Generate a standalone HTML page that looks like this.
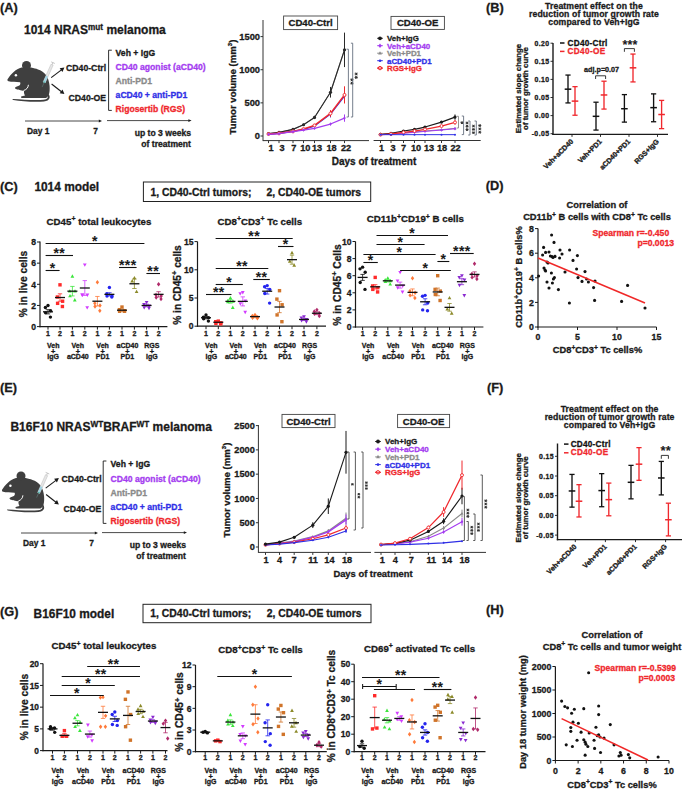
<!DOCTYPE html>
<html><head><meta charset="utf-8"><style>
html,body{margin:0;padding:0;background:#fff;width:685px;height:790px;overflow:hidden}
svg{display:block}
text{font-family:"Liberation Sans", sans-serif}
</style></head><body>
<svg width="685" height="790" viewBox="0 0 685 790">
<rect x="0" y="0" width="685" height="790" fill="#ffffff"/>
<text x="0.00" y="12.00" font-size="12.8" fill="#1a1a1a" stroke="#1a1a1a" stroke-width="0.3" text-anchor="start" font-weight="bold">(A)</text>
<text x="24" y="34" font-size="12" font-weight="bold" fill="#1a1a1a" stroke="#1a1a1a" stroke-width="0.3">1014 NRAS<tspan dy="-4.4" font-size="8.2">mut</tspan><tspan dy="4.4"> melanoma</tspan></text>
<g transform="translate(0,0)">
<path d="M7.55,79.2 C10,75 16,68.5 21.5,67.4 L31,67.6 C34,68.2 36,68.8 38,69.4 C44,71 49,76.5 49.6,86 C50,92 49.2,96.5 46,97.9 L22.2,98 C20.6,98 20.5,96.4 22,96.2 L25,95.6 C24,94 23.7,92.2 24.1,90.6 C22,91 20.2,90.3 18.6,89.6 C16.4,89.8 14.6,88.8 15.1,87.6 C15.8,86.6 17.8,86.6 19.4,85.6 C20.4,84.8 20.6,83.4 20.1,82.3 C16,82.1 11.2,81.9 8.6,81.3 C7.5,81 7.2,79.9 7.55,79.2 Z" fill="#3f3f3f"/>
<circle cx="26.50" cy="65.40" r="4.50" fill="#3f3f3f" stroke="none" stroke-width="0"/>
<circle cx="15.90" cy="75.20" r="1.25" fill="#ffffff" stroke="none" stroke-width="0"/>
<path d="M28.4,84.8 C28.2,87.6 26.6,89.6 23.9,90.4" stroke="#fff" stroke-width="1.0" fill="none"/>
<path d="M48.6,94 C50.6,97 50.2,100.8 44,101.4 C36,102.1 22,101.6 13.2,99.9 C12.2,99.6 12.3,98.8 13.3,98.9 C22,99.6 36,100.2 43.3,99.7 C47.8,99.3 48.3,97.5 47.4,95 Z" fill="#3f3f3f"/>
<g transform="translate(-1.6,3.6) rotate(24 48.6 72.5)"><rect x="47.4" y="60" width="2.4" height="19.5" fill="#e6e6e6" stroke="#b0b0b0" stroke-width="0.35"/><rect x="47.55" y="72.5" width="2.1" height="7" fill="#9fd3e3"/><rect x="47.55" y="78.5" width="2.1" height="1.2" fill="#4fb0a0"/><line x1="48.6" y1="57.8" x2="48.6" y2="60" stroke="#b8b8b8" stroke-width="0.7"/><line x1="46.6" y1="57.8" x2="50.6" y2="57.8" stroke="#b8b8b8" stroke-width="0.7"/><line x1="48.6" y1="79.5" x2="48.6" y2="84.5" stroke="#6a8a88" stroke-width="0.45"/></g>
<line x1="51.20" y1="77.60" x2="61.45" y2="69.83" stroke="#1a1a1a" stroke-width="1.1"/>
<polygon points="64.40,67.60 62.44,71.97 59.66,68.30" fill="#1a1a1a"/>
<line x1="51.60" y1="84.00" x2="61.48" y2="91.72" stroke="#1a1a1a" stroke-width="1.1"/>
<polygon points="64.40,94.00 59.67,93.23 62.51,89.60" fill="#1a1a1a"/>
</g>
<text x="66.00" y="71.00" font-size="8.7" fill="#1a1a1a" stroke="#1a1a1a" stroke-width="0.3" text-anchor="start" font-weight="bold">CD40-Ctrl</text>
<text x="68.50" y="101.00" font-size="8.7" fill="#1a1a1a" stroke="#1a1a1a" stroke-width="0.3" text-anchor="start" font-weight="bold">CD40-OE</text>
<polyline points="111.80,50.20 108.60,50.20 108.60,110.40 111.80,110.40" fill="none" stroke="#1a1a1a" stroke-width="0.9" stroke-linejoin="round"/>
<text x="115.60" y="56.00" font-size="8.65" fill="#1a1a1a" stroke="#1a1a1a" stroke-width="0.3" text-anchor="start" font-weight="bold">Veh + IgG</text>
<text x="115.60" y="70.00" font-size="8.65" fill="#a43cf0" stroke="#a43cf0" stroke-width="0.3" text-anchor="start" font-weight="bold">CD40 agonist (aCD40)</text>
<text x="115.60" y="83.80" font-size="8.65" fill="#8a8a8a" stroke="#8a8a8a" stroke-width="0.3" text-anchor="start" font-weight="bold">Anti-PD1</text>
<text x="115.60" y="97.80" font-size="8.65" fill="#2f2fe6" stroke="#2f2fe6" stroke-width="0.3" text-anchor="start" font-weight="bold">aCD40 + anti-PD1</text>
<text x="115.60" y="112.00" font-size="8.65" fill="#f0282d" stroke="#f0282d" stroke-width="0.3" text-anchor="start" font-weight="bold">Rigosertib (RGS)</text>
<line x1="25.00" y1="121.00" x2="99.30" y2="121.00" stroke="#1a1a1a" stroke-width="0.8"/>
<polygon points="102.00,121.00 98.80,122.40 98.80,119.60" fill="#1a1a1a"/>
<line x1="107.00" y1="120.60" x2="188.90" y2="120.60" stroke="#1a1a1a" stroke-width="0.8"/>
<polygon points="191.60,120.60 188.40,122.00 188.40,119.20" fill="#1a1a1a"/>
<text x="27.00" y="134.00" font-size="8.4" fill="#1a1a1a" stroke="#1a1a1a" stroke-width="0.3" text-anchor="start" font-weight="bold">Day 1</text>
<text x="95.50" y="134.00" font-size="8.4" fill="#1a1a1a" stroke="#1a1a1a" stroke-width="0.3" text-anchor="middle" font-weight="bold">7</text>
<text x="191.00" y="136.00" font-size="8.6" fill="#1a1a1a" stroke="#1a1a1a" stroke-width="0.3" text-anchor="end" font-weight="bold">up to 3 weeks</text>
<text x="191.00" y="146.80" font-size="8.6" fill="#1a1a1a" stroke="#1a1a1a" stroke-width="0.3" text-anchor="end" font-weight="bold">of treatment</text>
<line x1="263.00" y1="20.00" x2="263.00" y2="141.10" stroke="#333" stroke-width="1.0"/>
<line x1="260.50" y1="136.00" x2="263.00" y2="136.00" stroke="#333" stroke-width="1.0"/>
<text x="260.00" y="139.40" font-size="9.3" fill="#1a1a1a" stroke="#1a1a1a" stroke-width="0.3" text-anchor="end" font-weight="bold">0</text>
<line x1="260.50" y1="102.87" x2="263.00" y2="102.87" stroke="#333" stroke-width="1.0"/>
<text x="260.00" y="106.27" font-size="9.3" fill="#1a1a1a" stroke="#1a1a1a" stroke-width="0.3" text-anchor="end" font-weight="bold">500</text>
<line x1="260.50" y1="69.73" x2="263.00" y2="69.73" stroke="#333" stroke-width="1.0"/>
<text x="260.00" y="73.13" font-size="9.3" fill="#1a1a1a" stroke="#1a1a1a" stroke-width="0.3" text-anchor="end" font-weight="bold">1000</text>
<line x1="260.50" y1="36.60" x2="263.00" y2="36.60" stroke="#333" stroke-width="1.0"/>
<text x="260.00" y="40.00" font-size="9.3" fill="#1a1a1a" stroke="#1a1a1a" stroke-width="0.3" text-anchor="end" font-weight="bold">1500</text>
<line x1="263.00" y1="140.60" x2="369.00" y2="140.60" stroke="#333333" stroke-width="1.0"/>
<line x1="268.50" y1="140.60" x2="268.50" y2="143.10" stroke="#333333" stroke-width="1.0"/>
<text x="271.00" y="151.20" font-size="9.2" fill="#1a1a1a" stroke="#1a1a1a" stroke-width="0.3" text-anchor="middle" font-weight="bold">1</text>
<line x1="279.00" y1="140.60" x2="279.00" y2="143.10" stroke="#333333" stroke-width="1.0"/>
<text x="282.00" y="151.20" font-size="9.2" fill="#1a1a1a" stroke="#1a1a1a" stroke-width="0.3" text-anchor="middle" font-weight="bold">3</text>
<line x1="293.00" y1="140.60" x2="293.00" y2="143.10" stroke="#333333" stroke-width="1.0"/>
<text x="293.70" y="151.20" font-size="9.2" fill="#1a1a1a" stroke="#1a1a1a" stroke-width="0.3" text-anchor="middle" font-weight="bold">7</text>
<line x1="303.50" y1="140.60" x2="303.50" y2="143.10" stroke="#333333" stroke-width="1.0"/>
<text x="305.30" y="151.20" font-size="9.2" fill="#1a1a1a" stroke="#1a1a1a" stroke-width="0.3" text-anchor="middle" font-weight="bold">10</text>
<line x1="314.50" y1="140.60" x2="314.50" y2="143.10" stroke="#333333" stroke-width="1.0"/>
<text x="317.00" y="151.20" font-size="9.2" fill="#1a1a1a" stroke="#1a1a1a" stroke-width="0.3" text-anchor="middle" font-weight="bold">13</text>
<line x1="330.50" y1="140.60" x2="330.50" y2="143.10" stroke="#333333" stroke-width="1.0"/>
<text x="331.50" y="151.20" font-size="9.2" fill="#1a1a1a" stroke="#1a1a1a" stroke-width="0.3" text-anchor="middle" font-weight="bold">18</text>
<line x1="344.50" y1="140.60" x2="344.50" y2="143.10" stroke="#333333" stroke-width="1.0"/>
<text x="346.00" y="151.20" font-size="9.2" fill="#1a1a1a" stroke="#1a1a1a" stroke-width="0.3" text-anchor="middle" font-weight="bold">22</text>
<rect x="283.60" y="16.00" width="54.00" height="13.60" fill="#ffffff" stroke="#444" stroke-width="0.9"/>
<text x="310.60" y="26.30" font-size="9.6" fill="#1a1a1a" stroke="#1a1a1a" stroke-width="0.3" text-anchor="middle" font-weight="bold">CD40-Ctrl</text>
<line x1="303.50" y1="124.07" x2="303.50" y2="125.40" stroke="#8a8a8a" stroke-width="1.0"/>
<line x1="314.50" y1="116.12" x2="314.50" y2="118.77" stroke="#8a8a8a" stroke-width="1.0"/>
<line x1="330.50" y1="88.29" x2="330.50" y2="96.24" stroke="#8a8a8a" stroke-width="1.0"/>
<line x1="344.50" y1="41.24" x2="344.50" y2="58.47" stroke="#8a8a8a" stroke-width="1.0"/>
<polyline points="268.50,133.68 279.00,132.36 293.00,129.37 303.50,124.73 314.50,117.45 330.50,92.26 344.50,49.85" fill="none" stroke="#8a8a8a" stroke-width="1.0" stroke-linejoin="round"/>
<polygon points="268.50,132.12 269.93,134.72 267.07,134.72" fill="#8a8a8a"/>
<polygon points="279.00,130.80 280.43,133.40 277.57,133.40" fill="#8a8a8a"/>
<polygon points="293.00,127.81 294.43,130.41 291.57,130.41" fill="#8a8a8a"/>
<polygon points="303.50,123.17 304.93,125.77 302.07,125.77" fill="#8a8a8a"/>
<polygon points="314.50,115.89 315.93,118.49 313.07,118.49" fill="#8a8a8a"/>
<polygon points="330.50,90.70 331.93,93.30 329.07,93.30" fill="#8a8a8a"/>
<polygon points="344.50,48.29 345.93,50.89 343.07,50.89" fill="#8a8a8a"/>
<line x1="268.50" y1="133.35" x2="268.50" y2="134.01" stroke="#2a2a2a" stroke-width="1.0"/>
<line x1="279.00" y1="132.02" x2="279.00" y2="132.69" stroke="#2a2a2a" stroke-width="1.0"/>
<line x1="293.00" y1="128.71" x2="293.00" y2="130.04" stroke="#2a2a2a" stroke-width="1.0"/>
<line x1="303.50" y1="123.74" x2="303.50" y2="125.73" stroke="#2a2a2a" stroke-width="1.0"/>
<line x1="314.50" y1="115.79" x2="314.50" y2="119.10" stroke="#2a2a2a" stroke-width="1.0"/>
<line x1="330.50" y1="86.96" x2="330.50" y2="97.57" stroke="#2a2a2a" stroke-width="1.0"/>
<line x1="344.50" y1="32.62" x2="344.50" y2="67.08" stroke="#2a2a2a" stroke-width="1.0"/>
<polyline points="268.50,133.68 279.00,132.36 293.00,129.37 303.50,124.73 314.50,117.45 330.50,92.26 344.50,49.85" fill="none" stroke="#2a2a2a" stroke-width="1.15" stroke-linejoin="round"/>
<circle cx="268.50" cy="133.68" r="1.60" fill="#2a2a2a" stroke="none" stroke-width="0"/>
<circle cx="279.00" cy="132.36" r="1.60" fill="#2a2a2a" stroke="none" stroke-width="0"/>
<circle cx="293.00" cy="129.37" r="1.60" fill="#2a2a2a" stroke="none" stroke-width="0"/>
<circle cx="303.50" cy="124.73" r="1.60" fill="#2a2a2a" stroke="none" stroke-width="0"/>
<circle cx="314.50" cy="117.45" r="1.60" fill="#2a2a2a" stroke="none" stroke-width="0"/>
<circle cx="330.50" cy="92.26" r="1.60" fill="#2a2a2a" stroke="none" stroke-width="0"/>
<circle cx="344.50" cy="49.85" r="1.60" fill="#2a2a2a" stroke="none" stroke-width="0"/>
<line x1="303.50" y1="128.71" x2="303.50" y2="130.04" stroke="#2f2fe6" stroke-width="1.0"/>
<line x1="314.50" y1="125.07" x2="314.50" y2="127.05" stroke="#2f2fe6" stroke-width="1.0"/>
<line x1="330.50" y1="110.82" x2="330.50" y2="117.45" stroke="#2f2fe6" stroke-width="1.0"/>
<line x1="344.50" y1="89.61" x2="344.50" y2="102.87" stroke="#2f2fe6" stroke-width="1.0"/>
<polyline points="268.50,134.34 279.00,133.35 293.00,131.36 303.50,129.37 314.50,126.06 330.50,114.13 344.50,96.24" fill="none" stroke="#2f2fe6" stroke-width="1.2" stroke-linejoin="round"/>
<circle cx="268.50" cy="134.34" r="1.00" fill="#2f2fe6" stroke="none" stroke-width="0"/>
<circle cx="279.00" cy="133.35" r="1.00" fill="#2f2fe6" stroke="none" stroke-width="0"/>
<circle cx="293.00" cy="131.36" r="1.00" fill="#2f2fe6" stroke="none" stroke-width="0"/>
<circle cx="303.50" cy="129.37" r="1.00" fill="#2f2fe6" stroke="none" stroke-width="0"/>
<circle cx="314.50" cy="126.06" r="1.00" fill="#2f2fe6" stroke="none" stroke-width="0"/>
<circle cx="330.50" cy="114.13" r="1.00" fill="#2f2fe6" stroke="none" stroke-width="0"/>
<circle cx="344.50" cy="96.24" r="1.00" fill="#2f2fe6" stroke="none" stroke-width="0"/>
<line x1="303.50" y1="128.38" x2="303.50" y2="129.70" stroke="#f0282d" stroke-width="1.0"/>
<line x1="314.50" y1="124.40" x2="314.50" y2="126.39" stroke="#f0282d" stroke-width="1.0"/>
<line x1="330.50" y1="110.16" x2="330.50" y2="116.78" stroke="#f0282d" stroke-width="1.0"/>
<line x1="344.50" y1="86.30" x2="344.50" y2="103.53" stroke="#f0282d" stroke-width="1.0"/>
<polyline points="268.50,134.01 279.00,133.35 293.00,131.36 303.50,129.04 314.50,125.40 330.50,113.47 344.50,94.91" fill="none" stroke="#f0282d" stroke-width="1.5" stroke-linejoin="round"/>
<circle cx="268.50" cy="134.01" r="1.50" fill="#fff" stroke="#f0282d" stroke-width="0.9"/>
<circle cx="279.00" cy="133.35" r="1.50" fill="#fff" stroke="#f0282d" stroke-width="0.9"/>
<circle cx="293.00" cy="131.36" r="1.50" fill="#fff" stroke="#f0282d" stroke-width="0.9"/>
<circle cx="303.50" cy="129.04" r="1.50" fill="#fff" stroke="#f0282d" stroke-width="0.9"/>
<circle cx="314.50" cy="125.40" r="1.50" fill="#fff" stroke="#f0282d" stroke-width="0.9"/>
<circle cx="330.50" cy="113.47" r="1.50" fill="#fff" stroke="#f0282d" stroke-width="0.9"/>
<circle cx="344.50" cy="94.91" r="1.50" fill="#fff" stroke="#f0282d" stroke-width="0.9"/>
<line x1="303.50" y1="129.51" x2="303.50" y2="130.57" stroke="#a43cf0" stroke-width="1.0"/>
<line x1="314.50" y1="127.72" x2="314.50" y2="129.04" stroke="#a43cf0" stroke-width="1.0"/>
<line x1="330.50" y1="122.75" x2="330.50" y2="125.40" stroke="#a43cf0" stroke-width="1.0"/>
<line x1="344.50" y1="114.46" x2="344.50" y2="121.75" stroke="#a43cf0" stroke-width="1.0"/>
<polyline points="268.50,134.34 279.00,133.68 293.00,131.69 303.50,130.04 314.50,128.38 330.50,124.07 344.50,118.11" fill="none" stroke="#a43cf0" stroke-width="1.2" stroke-linejoin="round"/>
<polygon points="268.50,132.65 269.80,134.34 268.50,136.03 267.20,134.34" fill="#a43cf0"/>
<polygon points="279.00,131.99 280.30,133.68 279.00,135.37 277.70,133.68" fill="#a43cf0"/>
<polygon points="293.00,130.00 294.30,131.69 293.00,133.38 291.70,131.69" fill="#a43cf0"/>
<polygon points="303.50,128.35 304.80,130.04 303.50,131.73 302.20,130.04" fill="#a43cf0"/>
<polygon points="314.50,126.69 315.80,128.38 314.50,130.07 313.20,128.38" fill="#a43cf0"/>
<polygon points="330.50,122.38 331.80,124.07 330.50,125.76 329.20,124.07" fill="#a43cf0"/>
<polygon points="344.50,116.42 345.80,118.11 344.50,119.80 343.20,118.11" fill="#a43cf0"/>
<polyline points="346.60,49.20 348.40,49.20 348.40,117.00 346.60,117.00" fill="none" stroke="#667080" stroke-width="0.9" stroke-linejoin="round"/>
<path d="M350.32,79.78L353.47,79.78M351.11,78.41L352.69,81.14M352.69,78.41L351.11,81.14" stroke="#333" stroke-width="1.0" fill="none"/>
<path d="M350.32,83.22L353.47,83.22M351.11,81.86L352.69,84.59M352.69,81.86L351.11,84.59" stroke="#333" stroke-width="1.0" fill="none"/>
<polyline points="350.90,43.20 352.70,43.20 352.70,117.00 350.90,117.00" fill="none" stroke="#667080" stroke-width="0.9" stroke-linejoin="round"/>
<path d="M354.62,73.98L357.77,73.98M355.41,72.61L356.99,75.34M356.99,72.61L355.41,75.34" stroke="#333" stroke-width="1.0" fill="none"/>
<path d="M354.62,77.42L357.77,77.42M355.41,76.06L356.99,78.79M356.99,76.06L355.41,78.79" stroke="#333" stroke-width="1.0" fill="none"/>
<line x1="373.60" y1="140.50" x2="480.70" y2="140.50" stroke="#333333" stroke-width="1.0"/>
<line x1="380.50" y1="140.50" x2="380.50" y2="143.00" stroke="#333333" stroke-width="1.0"/>
<text x="381.60" y="151.20" font-size="9.2" fill="#1a1a1a" stroke="#1a1a1a" stroke-width="0.3" text-anchor="middle" font-weight="bold">1</text>
<line x1="391.00" y1="140.50" x2="391.00" y2="143.00" stroke="#333333" stroke-width="1.0"/>
<text x="393.00" y="151.20" font-size="9.2" fill="#1a1a1a" stroke="#1a1a1a" stroke-width="0.3" text-anchor="middle" font-weight="bold">3</text>
<line x1="403.50" y1="140.50" x2="403.50" y2="143.00" stroke="#333333" stroke-width="1.0"/>
<text x="403.50" y="151.20" font-size="9.2" fill="#1a1a1a" stroke="#1a1a1a" stroke-width="0.3" text-anchor="middle" font-weight="bold">7</text>
<line x1="414.50" y1="140.50" x2="414.50" y2="143.00" stroke="#333333" stroke-width="1.0"/>
<text x="416.00" y="151.20" font-size="9.2" fill="#1a1a1a" stroke="#1a1a1a" stroke-width="0.3" text-anchor="middle" font-weight="bold">10</text>
<line x1="425.00" y1="140.50" x2="425.00" y2="143.00" stroke="#333333" stroke-width="1.0"/>
<text x="429.00" y="151.20" font-size="9.2" fill="#1a1a1a" stroke="#1a1a1a" stroke-width="0.3" text-anchor="middle" font-weight="bold">13</text>
<line x1="441.50" y1="140.50" x2="441.50" y2="143.00" stroke="#333333" stroke-width="1.0"/>
<text x="442.00" y="151.20" font-size="9.2" fill="#1a1a1a" stroke="#1a1a1a" stroke-width="0.3" text-anchor="middle" font-weight="bold">18</text>
<line x1="455.00" y1="140.50" x2="455.00" y2="143.00" stroke="#333333" stroke-width="1.0"/>
<text x="455.50" y="151.20" font-size="9.2" fill="#1a1a1a" stroke="#1a1a1a" stroke-width="0.3" text-anchor="middle" font-weight="bold">22</text>
<rect x="391.00" y="16.40" width="53.40" height="13.00" fill="#ffffff" stroke="#444" stroke-width="0.9"/>
<text x="417.70" y="26.40" font-size="9.6" fill="#1a1a1a" stroke="#1a1a1a" stroke-width="0.3" text-anchor="middle" font-weight="bold">CD40-OE</text>
<polyline points="380.50,134.54 391.00,134.01 403.50,133.02 414.50,132.02 425.00,131.03 441.50,129.70 455.00,128.38" fill="none" stroke="#8a8a8a" stroke-width="1.0" stroke-linejoin="round"/>
<polygon points="380.50,132.98 381.93,135.58 379.07,135.58" fill="#8a8a8a"/>
<polygon points="391.00,132.45 392.43,135.05 389.57,135.05" fill="#8a8a8a"/>
<polygon points="403.50,131.46 404.93,134.06 402.07,134.06" fill="#8a8a8a"/>
<polygon points="414.50,130.46 415.93,133.06 413.07,133.06" fill="#8a8a8a"/>
<polygon points="425.00,129.47 426.43,132.07 423.57,132.07" fill="#8a8a8a"/>
<polygon points="441.50,128.14 442.93,130.74 440.07,130.74" fill="#8a8a8a"/>
<polygon points="455.00,126.82 456.43,129.42 453.57,129.42" fill="#8a8a8a"/>
<polyline points="380.50,134.67 391.00,134.14 403.50,133.22 414.50,132.36 425.00,131.36 441.50,130.04 455.00,128.71" fill="none" stroke="#a43cf0" stroke-width="1.0" stroke-linejoin="round"/>
<polygon points="380.50,132.98 381.80,134.67 380.50,136.36 379.20,134.67" fill="#a43cf0"/>
<polygon points="391.00,132.45 392.30,134.14 391.00,135.83 389.70,134.14" fill="#a43cf0"/>
<polygon points="403.50,131.53 404.80,133.22 403.50,134.91 402.20,133.22" fill="#a43cf0"/>
<polygon points="414.50,130.67 415.80,132.36 414.50,134.05 413.20,132.36" fill="#a43cf0"/>
<polygon points="425.00,129.67 426.30,131.36 425.00,133.05 423.70,131.36" fill="#a43cf0"/>
<polygon points="441.50,128.35 442.80,130.04 441.50,131.73 440.20,130.04" fill="#a43cf0"/>
<polygon points="455.00,127.02 456.30,128.71 455.00,130.40 453.70,128.71" fill="#a43cf0"/>
<line x1="425.00" y1="126.39" x2="425.00" y2="127.72" stroke="#1a1a1a" stroke-width="1.0"/>
<line x1="441.50" y1="121.09" x2="441.50" y2="123.08" stroke="#1a1a1a" stroke-width="1.0"/>
<line x1="455.00" y1="114.46" x2="455.00" y2="119.76" stroke="#1a1a1a" stroke-width="1.0"/>
<polyline points="380.50,134.34 391.00,133.35 403.50,131.03 414.50,129.37 425.00,127.05 441.50,122.08 455.00,117.11" fill="none" stroke="#1a1a1a" stroke-width="1.2" stroke-linejoin="round"/>
<circle cx="380.50" cy="134.34" r="1.60" fill="#1a1a1a" stroke="none" stroke-width="0"/>
<circle cx="391.00" cy="133.35" r="1.60" fill="#1a1a1a" stroke="none" stroke-width="0"/>
<circle cx="403.50" cy="131.03" r="1.60" fill="#1a1a1a" stroke="none" stroke-width="0"/>
<circle cx="414.50" cy="129.37" r="1.60" fill="#1a1a1a" stroke="none" stroke-width="0"/>
<circle cx="425.00" cy="127.05" r="1.60" fill="#1a1a1a" stroke="none" stroke-width="0"/>
<circle cx="441.50" cy="122.08" r="1.60" fill="#1a1a1a" stroke="none" stroke-width="0"/>
<circle cx="455.00" cy="117.11" r="1.60" fill="#1a1a1a" stroke="none" stroke-width="0"/>
<line x1="441.50" y1="125.07" x2="441.50" y2="127.05" stroke="#f0282d" stroke-width="1.0"/>
<line x1="455.00" y1="120.10" x2="455.00" y2="124.73" stroke="#f0282d" stroke-width="1.0"/>
<polyline points="380.50,134.67 391.00,134.01 403.50,132.36 414.50,131.03 425.00,129.37 441.50,126.06 455.00,122.42" fill="none" stroke="#f0282d" stroke-width="1.3" stroke-linejoin="round"/>
<circle cx="380.50" cy="134.67" r="1.50" fill="#fff" stroke="#f0282d" stroke-width="0.9"/>
<circle cx="391.00" cy="134.01" r="1.50" fill="#fff" stroke="#f0282d" stroke-width="0.9"/>
<circle cx="403.50" cy="132.36" r="1.50" fill="#fff" stroke="#f0282d" stroke-width="0.9"/>
<circle cx="414.50" cy="131.03" r="1.50" fill="#fff" stroke="#f0282d" stroke-width="0.9"/>
<circle cx="425.00" cy="129.37" r="1.50" fill="#fff" stroke="#f0282d" stroke-width="0.9"/>
<circle cx="441.50" cy="126.06" r="1.50" fill="#fff" stroke="#f0282d" stroke-width="0.9"/>
<circle cx="455.00" cy="122.42" r="1.50" fill="#fff" stroke="#f0282d" stroke-width="0.9"/>
<polyline points="380.50,134.67 391.00,134.67 403.50,134.67 414.50,134.67 425.00,134.67 441.50,134.67 455.00,134.67" fill="none" stroke="#2f2fe6" stroke-width="1.0" stroke-linejoin="round"/>
<circle cx="380.50" cy="134.67" r="1.00" fill="#2f2fe6" stroke="none" stroke-width="0"/>
<circle cx="391.00" cy="134.67" r="1.00" fill="#2f2fe6" stroke="none" stroke-width="0"/>
<circle cx="403.50" cy="134.67" r="1.00" fill="#2f2fe6" stroke="none" stroke-width="0"/>
<circle cx="414.50" cy="134.67" r="1.00" fill="#2f2fe6" stroke="none" stroke-width="0"/>
<circle cx="425.00" cy="134.67" r="1.00" fill="#2f2fe6" stroke="none" stroke-width="0"/>
<circle cx="441.50" cy="134.67" r="1.00" fill="#2f2fe6" stroke="none" stroke-width="0"/>
<circle cx="455.00" cy="134.67" r="1.00" fill="#2f2fe6" stroke="none" stroke-width="0"/>
<polyline points="456.70,116.30 458.50,116.30 458.50,128.00 456.70,128.00" fill="none" stroke="#888" stroke-width="0.9" stroke-linejoin="round"/>
<path d="M460.46,122.70L463.49,122.70M461.22,121.39L462.73,124.01M462.73,121.39L461.22,124.01" stroke="#333" stroke-width="1.0" fill="none"/>
<polyline points="461.80,116.00 463.60,116.00 463.60,134.60 461.80,134.60" fill="none" stroke="#667080" stroke-width="0.9" stroke-linejoin="round"/>
<path d="M465.56,122.99L468.59,122.99M466.32,121.68L467.83,124.30M467.83,121.68L466.32,124.30" stroke="#333" stroke-width="1.0" fill="none"/>
<path d="M465.56,126.30L468.59,126.30M466.32,124.99L467.83,127.61M467.83,124.99L466.32,127.61" stroke="#333" stroke-width="1.0" fill="none"/>
<path d="M465.56,129.61L468.59,129.61M466.32,128.30L467.83,130.92M467.83,128.30L466.32,130.92" stroke="#333" stroke-width="1.0" fill="none"/>
<polyline points="468.20,121.00 470.00,121.00 470.00,135.00 468.20,135.00" fill="none" stroke="#667080" stroke-width="0.9" stroke-linejoin="round"/>
<path d="M471.96,126.09L474.99,126.09M472.72,124.78L474.23,127.40M474.23,124.78L472.72,127.40" stroke="#333" stroke-width="1.0" fill="none"/>
<path d="M471.96,129.40L474.99,129.40M472.72,128.09L474.23,130.71M474.23,128.09L472.72,130.71" stroke="#333" stroke-width="1.0" fill="none"/>
<path d="M471.96,132.71L474.99,132.71M472.72,131.40L474.23,134.02M474.23,131.40L472.72,134.02" stroke="#333" stroke-width="1.0" fill="none"/>
<polyline points="474.50,121.00 476.30,121.00 476.30,135.00 474.50,135.00" fill="none" stroke="#667080" stroke-width="0.9" stroke-linejoin="round"/>
<path d="M478.26,125.59L481.29,125.59M479.02,124.28L480.53,126.90M480.53,124.28L479.02,126.90" stroke="#333" stroke-width="1.0" fill="none"/>
<path d="M478.26,128.90L481.29,128.90M479.02,127.59L480.53,130.21M480.53,127.59L479.02,130.21" stroke="#333" stroke-width="1.0" fill="none"/>
<path d="M478.26,132.21L481.29,132.21M479.02,130.90L480.53,133.52M480.53,130.90L479.02,133.52" stroke="#333" stroke-width="1.0" fill="none"/>
<text x="232.00" y="87.00" font-size="9.6" fill="#1a1a1a" stroke="#1a1a1a" stroke-width="0.3" text-anchor="middle" font-weight="bold" transform="rotate(-90 232 87)" dy="3.5">Tumor volume (mm<tspan dy="-3.5" font-size="6">3</tspan><tspan dy="3.5">)</tspan></text>
<text x="374.00" y="165.20" font-size="10.0" fill="#1a1a1a" stroke="#1a1a1a" stroke-width="0.3" text-anchor="middle" font-weight="bold">Days of treatment</text>
<line x1="377.20" y1="38.30" x2="382.80" y2="38.30" stroke="#1a1a1a" stroke-width="1.0"/>
<circle cx="380.00" cy="38.30" r="1.90" fill="#1a1a1a" stroke="none" stroke-width="0"/>
<text x="387.00" y="41.20" font-size="7.9" fill="#1a1a1a" stroke="#1a1a1a" stroke-width="0.3" text-anchor="start" font-weight="bold">Veh+IgG</text>
<line x1="377.20" y1="45.70" x2="382.80" y2="45.70" stroke="#a43cf0" stroke-width="1.0"/>
<polygon points="380.00,43.49 381.70,45.70 380.00,47.91 378.30,45.70" fill="#a43cf0"/>
<text x="387.00" y="48.60" font-size="7.9" fill="#a43cf0" stroke="#a43cf0" stroke-width="0.3" text-anchor="start" font-weight="bold">Veh+aCD40</text>
<line x1="377.20" y1="53.20" x2="382.80" y2="53.20" stroke="#8a8a8a" stroke-width="1.0"/>
<polygon points="380.00,51.16 381.87,54.56 378.13,54.56" fill="#8a8a8a"/>
<text x="387.00" y="56.10" font-size="7.9" fill="#8a8a8a" stroke="#8a8a8a" stroke-width="0.3" text-anchor="start" font-weight="bold">Veh+PD1</text>
<line x1="377.20" y1="60.70" x2="382.80" y2="60.70" stroke="#2f2fe6" stroke-width="1.0"/>
<circle cx="380.00" cy="60.70" r="1.30" fill="#2f2fe6" stroke="none" stroke-width="0"/>
<text x="387.00" y="63.60" font-size="7.9" fill="#2f2fe6" stroke="#2f2fe6" stroke-width="0.3" text-anchor="start" font-weight="bold">aCD40+PD1</text>
<line x1="377.20" y1="68.10" x2="382.80" y2="68.10" stroke="#f0282d" stroke-width="1.0"/>
<circle cx="380.00" cy="68.10" r="1.70" fill="#fff" stroke="#f0282d" stroke-width="1.0"/>
<line x1="377.20" y1="68.10" x2="382.80" y2="68.10" stroke="#f0282d" stroke-width="1.0"/>
<text x="387.00" y="71.00" font-size="7.9" fill="#f0282d" stroke="#f0282d" stroke-width="0.3" text-anchor="start" font-weight="bold">RGS+IgG</text>
<text x="486.00" y="12.00" font-size="12.8" fill="#1a1a1a" stroke="#1a1a1a" stroke-width="0.3" text-anchor="start" font-weight="bold">(B)</text>
<line x1="553.00" y1="43.00" x2="553.00" y2="135.10" stroke="#1a1a1a" stroke-width="1.4"/>
<line x1="552.30" y1="134.40" x2="668.00" y2="134.40" stroke="#1a1a1a" stroke-width="1.4"/>
<line x1="550.50" y1="43.20" x2="553.00" y2="43.20" stroke="#1a1a1a" stroke-width="0.9"/>
<text x="549.60" y="45.80" font-size="6.9" fill="#1a1a1a" stroke="#1a1a1a" stroke-width="0.3" text-anchor="end" font-weight="bold" letter-spacing="0.45">0.20</text>
<line x1="550.50" y1="61.30" x2="553.00" y2="61.30" stroke="#1a1a1a" stroke-width="0.9"/>
<text x="549.60" y="63.90" font-size="6.9" fill="#1a1a1a" stroke="#1a1a1a" stroke-width="0.3" text-anchor="end" font-weight="bold" letter-spacing="0.45">0.15</text>
<line x1="550.50" y1="79.40" x2="553.00" y2="79.40" stroke="#1a1a1a" stroke-width="0.9"/>
<text x="549.60" y="82.00" font-size="6.9" fill="#1a1a1a" stroke="#1a1a1a" stroke-width="0.3" text-anchor="end" font-weight="bold" letter-spacing="0.45">0.10</text>
<line x1="550.50" y1="97.50" x2="553.00" y2="97.50" stroke="#1a1a1a" stroke-width="0.9"/>
<text x="549.60" y="100.10" font-size="6.9" fill="#1a1a1a" stroke="#1a1a1a" stroke-width="0.3" text-anchor="end" font-weight="bold" letter-spacing="0.45">0.05</text>
<line x1="550.50" y1="115.60" x2="553.00" y2="115.60" stroke="#1a1a1a" stroke-width="0.9"/>
<text x="549.60" y="118.20" font-size="6.9" fill="#1a1a1a" stroke="#1a1a1a" stroke-width="0.3" text-anchor="end" font-weight="bold" letter-spacing="0.45">0.00</text>
<line x1="550.50" y1="133.70" x2="553.00" y2="133.70" stroke="#1a1a1a" stroke-width="0.9"/>
<text x="549.60" y="136.30" font-size="6.9" fill="#1a1a1a" stroke="#1a1a1a" stroke-width="0.3" text-anchor="end" font-weight="bold" letter-spacing="0.45">-0.05</text>
<line x1="572.00" y1="134.40" x2="572.00" y2="136.90" stroke="#1a1a1a" stroke-width="0.9"/>
<text x="573.80" y="142.00" font-size="7.1" fill="#1a1a1a" stroke="#1a1a1a" stroke-width="0.3" text-anchor="end" font-weight="bold" transform="rotate(-45 573.8 142.0)">Veh+aCD40</text>
<line x1="600.50" y1="134.40" x2="600.50" y2="136.90" stroke="#1a1a1a" stroke-width="0.9"/>
<text x="602.30" y="142.00" font-size="7.1" fill="#1a1a1a" stroke="#1a1a1a" stroke-width="0.3" text-anchor="end" font-weight="bold" transform="rotate(-45 602.3 142.0)">Veh+PD1</text>
<line x1="629.00" y1="134.40" x2="629.00" y2="136.90" stroke="#1a1a1a" stroke-width="0.9"/>
<text x="630.80" y="142.00" font-size="7.1" fill="#1a1a1a" stroke="#1a1a1a" stroke-width="0.3" text-anchor="end" font-weight="bold" transform="rotate(-45 630.8 142.0)">aCD40+PD1</text>
<line x1="657.50" y1="134.40" x2="657.50" y2="136.90" stroke="#1a1a1a" stroke-width="0.9"/>
<text x="659.30" y="142.00" font-size="7.1" fill="#1a1a1a" stroke="#1a1a1a" stroke-width="0.3" text-anchor="end" font-weight="bold" transform="rotate(-45 659.3 142.0)">RGS+IgG</text>
<line x1="568.00" y1="75.06" x2="568.00" y2="102.93" stroke="#111" stroke-width="1.35"/>
<line x1="565.40" y1="75.06" x2="570.60" y2="75.06" stroke="#111" stroke-width="1.3"/>
<line x1="565.40" y1="102.93" x2="570.60" y2="102.93" stroke="#111" stroke-width="1.3"/>
<line x1="564.70" y1="89.17" x2="571.30" y2="89.17" stroke="#111" stroke-width="1.5"/>
<line x1="575.00" y1="86.64" x2="575.00" y2="115.24" stroke="#f0282d" stroke-width="1.35"/>
<line x1="572.40" y1="86.64" x2="577.60" y2="86.64" stroke="#f0282d" stroke-width="1.3"/>
<line x1="572.40" y1="115.24" x2="577.60" y2="115.24" stroke="#f0282d" stroke-width="1.3"/>
<line x1="571.70" y1="101.12" x2="578.30" y2="101.12" stroke="#f0282d" stroke-width="1.5"/>
<line x1="596.00" y1="102.21" x2="596.00" y2="130.08" stroke="#111" stroke-width="1.35"/>
<line x1="593.40" y1="102.21" x2="598.60" y2="102.21" stroke="#111" stroke-width="1.3"/>
<line x1="593.40" y1="130.08" x2="598.60" y2="130.08" stroke="#111" stroke-width="1.3"/>
<line x1="592.70" y1="116.32" x2="599.30" y2="116.32" stroke="#111" stroke-width="1.5"/>
<line x1="604.00" y1="81.21" x2="604.00" y2="109.08" stroke="#f0282d" stroke-width="1.35"/>
<line x1="601.40" y1="81.21" x2="606.60" y2="81.21" stroke="#f0282d" stroke-width="1.3"/>
<line x1="601.40" y1="109.08" x2="606.60" y2="109.08" stroke="#f0282d" stroke-width="1.3"/>
<line x1="600.70" y1="94.97" x2="607.30" y2="94.97" stroke="#f0282d" stroke-width="1.5"/>
<line x1="624.40" y1="94.60" x2="624.40" y2="122.12" stroke="#111" stroke-width="1.35"/>
<line x1="621.80" y1="94.60" x2="627.00" y2="94.60" stroke="#111" stroke-width="1.3"/>
<line x1="621.80" y1="122.12" x2="627.00" y2="122.12" stroke="#111" stroke-width="1.3"/>
<line x1="621.10" y1="108.72" x2="627.70" y2="108.72" stroke="#111" stroke-width="1.5"/>
<line x1="633.00" y1="54.06" x2="633.00" y2="81.93" stroke="#f0282d" stroke-width="1.35"/>
<line x1="630.40" y1="54.06" x2="635.60" y2="54.06" stroke="#f0282d" stroke-width="1.3"/>
<line x1="630.40" y1="81.93" x2="635.60" y2="81.93" stroke="#f0282d" stroke-width="1.3"/>
<line x1="629.70" y1="67.82" x2="636.30" y2="67.82" stroke="#f0282d" stroke-width="1.5"/>
<line x1="653.60" y1="93.88" x2="653.60" y2="121.75" stroke="#111" stroke-width="1.35"/>
<line x1="651.00" y1="93.88" x2="656.20" y2="93.88" stroke="#111" stroke-width="1.3"/>
<line x1="651.00" y1="121.75" x2="656.20" y2="121.75" stroke="#111" stroke-width="1.3"/>
<line x1="650.30" y1="107.64" x2="656.90" y2="107.64" stroke="#111" stroke-width="1.5"/>
<line x1="661.60" y1="100.40" x2="661.60" y2="128.63" stroke="#f0282d" stroke-width="1.35"/>
<line x1="659.00" y1="100.40" x2="664.20" y2="100.40" stroke="#f0282d" stroke-width="1.3"/>
<line x1="659.00" y1="128.63" x2="664.20" y2="128.63" stroke="#f0282d" stroke-width="1.3"/>
<line x1="658.30" y1="114.51" x2="664.90" y2="114.51" stroke="#f0282d" stroke-width="1.5"/>
<line x1="560.00" y1="43.00" x2="564.50" y2="43.00" stroke="#111" stroke-width="1.5"/>
<text x="567.60" y="45.60" font-size="8.2" fill="#111" stroke="#111" stroke-width="0.3" text-anchor="start" font-weight="bold" letter-spacing="0.25">CD40-Ctrl</text>
<line x1="560.00" y1="51.40" x2="564.50" y2="51.40" stroke="#f0282d" stroke-width="1.5"/>
<text x="567.60" y="54.00" font-size="8.2" fill="#f0282d" stroke="#f0282d" stroke-width="0.3" text-anchor="start" font-weight="bold" letter-spacing="0.35">CD40-OE</text>
<text x="518.30" y="88.50" font-size="7.8" fill="#1a1a1a" stroke="#1a1a1a" stroke-width="0.3" text-anchor="middle" font-weight="bold" transform="rotate(-90 518.3 88.5)" dy="2.7">Estimated slope change</text>
<text x="525.60" y="88.50" font-size="7.8" fill="#1a1a1a" stroke="#1a1a1a" stroke-width="0.3" text-anchor="middle" font-weight="bold" transform="rotate(-90 525.6 88.5)" dy="2.7">of tumor growth curve</text>
<text x="594.00" y="9.00" font-size="8.7" fill="#1a1a1a" stroke="#1a1a1a" stroke-width="0.3" text-anchor="middle" font-weight="bold" letter-spacing="0.1">Treatment effect on the</text>
<text x="594.00" y="17.00" font-size="8.7" fill="#1a1a1a" stroke="#1a1a1a" stroke-width="0.3" text-anchor="middle" font-weight="bold" letter-spacing="0.1">reduction of tumor growth rate</text>
<text x="594.00" y="24.60" font-size="8.7" fill="#1a1a1a" stroke="#1a1a1a" stroke-width="0.3" text-anchor="middle" font-weight="bold" letter-spacing="0.1">compared to Veh+IgG</text>
<text x="601.60" y="72.40" font-size="7.2" fill="#1a1a1a" stroke="#1a1a1a" stroke-width="0.3" text-anchor="middle" font-weight="bold">adj.p=0.07</text>
<polyline points="595.60,79.00 595.60,75.80 605.60,75.80 605.60,79.00" fill="none" stroke="#222" stroke-width="0.9" stroke-linejoin="round"/>
<text x="630.00" y="49.00" font-size="12.5" fill="#1a1a1a" text-anchor="middle" font-weight="bold" letter-spacing="0.2" stroke="#111" stroke-width="0.1">***</text>
<polyline points="624.40,51.80 624.40,48.60 634.40,48.60 634.40,51.80" fill="none" stroke="#222" stroke-width="0.9" stroke-linejoin="round"/>
<text x="0.00" y="191.00" font-size="12.8" fill="#1a1a1a" stroke="#1a1a1a" stroke-width="0.3" text-anchor="start" font-weight="bold">(C)</text>
<text x="34.40" y="191.00" font-size="11.9" fill="#1a1a1a" stroke="#1a1a1a" stroke-width="0.3" text-anchor="start" font-weight="bold">1014 model</text>
<rect x="143.40" y="182.00" width="227.30" height="19.50" fill="none" stroke="#222" stroke-width="1.0"/>
<text x="150.40" y="196.00" font-size="10.4" fill="#1a1a1a" stroke="#1a1a1a" stroke-width="0.3" text-anchor="start" font-weight="bold">1, CD40-Ctrl tumors;</text>
<text x="266.40" y="196.00" font-size="10.4" fill="#1a1a1a" stroke="#1a1a1a" stroke-width="0.3" text-anchor="start" font-weight="bold">2, CD40-OE tumors</text>
<line x1="40.00" y1="241.60" x2="40.00" y2="327.20" stroke="#1a1a1a" stroke-width="1.2"/>
<line x1="39.40" y1="326.60" x2="167.40" y2="326.60" stroke="#1a1a1a" stroke-width="1.2"/>
<line x1="37.00" y1="326.60" x2="40.00" y2="326.60" stroke="#1a1a1a" stroke-width="1.0"/>
<text x="36.00" y="329.80" font-size="8.6" fill="#1a1a1a" stroke="#1a1a1a" stroke-width="0.3" text-anchor="end" font-weight="bold">0</text>
<line x1="37.00" y1="305.45" x2="40.00" y2="305.45" stroke="#1a1a1a" stroke-width="1.0"/>
<text x="36.00" y="308.65" font-size="8.6" fill="#1a1a1a" stroke="#1a1a1a" stroke-width="0.3" text-anchor="end" font-weight="bold">2</text>
<line x1="37.00" y1="284.30" x2="40.00" y2="284.30" stroke="#1a1a1a" stroke-width="1.0"/>
<text x="36.00" y="287.50" font-size="8.6" fill="#1a1a1a" stroke="#1a1a1a" stroke-width="0.3" text-anchor="end" font-weight="bold">4</text>
<line x1="37.00" y1="263.15" x2="40.00" y2="263.15" stroke="#1a1a1a" stroke-width="1.0"/>
<text x="36.00" y="266.35" font-size="8.6" fill="#1a1a1a" stroke="#1a1a1a" stroke-width="0.3" text-anchor="end" font-weight="bold">6</text>
<line x1="37.00" y1="242.00" x2="40.00" y2="242.00" stroke="#1a1a1a" stroke-width="1.0"/>
<text x="36.00" y="245.20" font-size="8.6" fill="#1a1a1a" stroke="#1a1a1a" stroke-width="0.3" text-anchor="end" font-weight="bold">8</text>
<line x1="48.00" y1="326.60" x2="48.00" y2="329.60" stroke="#1a1a1a" stroke-width="1.0"/>
<text x="48.00" y="336.40" font-size="7.0" fill="#1a1a1a" stroke="#1a1a1a" stroke-width="0.3" text-anchor="middle" font-weight="bold">1</text>
<line x1="60.00" y1="326.60" x2="60.00" y2="329.60" stroke="#1a1a1a" stroke-width="1.0"/>
<text x="60.00" y="336.40" font-size="7.0" fill="#1a1a1a" stroke="#1a1a1a" stroke-width="0.3" text-anchor="middle" font-weight="bold">2</text>
<line x1="72.40" y1="326.60" x2="72.40" y2="329.60" stroke="#1a1a1a" stroke-width="1.0"/>
<text x="72.40" y="336.40" font-size="7.0" fill="#1a1a1a" stroke="#1a1a1a" stroke-width="0.3" text-anchor="middle" font-weight="bold">1</text>
<line x1="84.80" y1="326.60" x2="84.80" y2="329.60" stroke="#1a1a1a" stroke-width="1.0"/>
<text x="84.80" y="336.40" font-size="7.0" fill="#1a1a1a" stroke="#1a1a1a" stroke-width="0.3" text-anchor="middle" font-weight="bold">2</text>
<line x1="97.40" y1="326.60" x2="97.40" y2="329.60" stroke="#1a1a1a" stroke-width="1.0"/>
<text x="97.40" y="336.40" font-size="7.0" fill="#1a1a1a" stroke="#1a1a1a" stroke-width="0.3" text-anchor="middle" font-weight="bold">1</text>
<line x1="109.40" y1="326.60" x2="109.40" y2="329.60" stroke="#1a1a1a" stroke-width="1.0"/>
<text x="109.40" y="336.40" font-size="7.0" fill="#1a1a1a" stroke="#1a1a1a" stroke-width="0.3" text-anchor="middle" font-weight="bold">2</text>
<line x1="122.00" y1="326.60" x2="122.00" y2="329.60" stroke="#1a1a1a" stroke-width="1.0"/>
<text x="122.00" y="336.40" font-size="7.0" fill="#1a1a1a" stroke="#1a1a1a" stroke-width="0.3" text-anchor="middle" font-weight="bold">1</text>
<line x1="134.40" y1="326.60" x2="134.40" y2="329.60" stroke="#1a1a1a" stroke-width="1.0"/>
<text x="134.40" y="336.40" font-size="7.0" fill="#1a1a1a" stroke="#1a1a1a" stroke-width="0.3" text-anchor="middle" font-weight="bold">2</text>
<line x1="146.60" y1="326.60" x2="146.60" y2="329.60" stroke="#1a1a1a" stroke-width="1.0"/>
<text x="146.60" y="336.40" font-size="7.0" fill="#1a1a1a" stroke="#1a1a1a" stroke-width="0.3" text-anchor="middle" font-weight="bold">1</text>
<line x1="158.60" y1="326.60" x2="158.60" y2="329.60" stroke="#1a1a1a" stroke-width="1.0"/>
<text x="158.60" y="336.40" font-size="7.0" fill="#1a1a1a" stroke="#1a1a1a" stroke-width="0.3" text-anchor="middle" font-weight="bold">2</text>
<text x="53.20" y="348.00" font-size="7.0" fill="#1a1a1a" stroke="#1a1a1a" stroke-width="0.3" text-anchor="middle" font-weight="bold">Veh</text>
<text x="53.20" y="353.60" font-size="7.4" fill="#1a1a1a" stroke="#1a1a1a" stroke-width="0.3" text-anchor="middle" font-weight="bold">+</text>
<text x="53.20" y="358.80" font-size="7.0" fill="#1a1a1a" stroke="#1a1a1a" stroke-width="0.3" text-anchor="middle" font-weight="bold">IgG</text>
<text x="77.80" y="348.00" font-size="7.0" fill="#1a1a1a" stroke="#1a1a1a" stroke-width="0.3" text-anchor="middle" font-weight="bold">Veh</text>
<text x="77.80" y="353.60" font-size="7.4" fill="#1a1a1a" stroke="#1a1a1a" stroke-width="0.3" text-anchor="middle" font-weight="bold">+</text>
<text x="77.80" y="358.80" font-size="7.0" fill="#1a1a1a" stroke="#1a1a1a" stroke-width="0.3" text-anchor="middle" font-weight="bold">aCD40</text>
<text x="102.60" y="348.00" font-size="7.0" fill="#1a1a1a" stroke="#1a1a1a" stroke-width="0.3" text-anchor="middle" font-weight="bold">Veh</text>
<text x="102.60" y="353.60" font-size="7.4" fill="#1a1a1a" stroke="#1a1a1a" stroke-width="0.3" text-anchor="middle" font-weight="bold">+</text>
<text x="102.60" y="358.80" font-size="7.0" fill="#1a1a1a" stroke="#1a1a1a" stroke-width="0.3" text-anchor="middle" font-weight="bold">PD1</text>
<text x="127.40" y="348.00" font-size="7.0" fill="#1a1a1a" stroke="#1a1a1a" stroke-width="0.3" text-anchor="middle" font-weight="bold">aCD40</text>
<text x="127.40" y="353.60" font-size="7.4" fill="#1a1a1a" stroke="#1a1a1a" stroke-width="0.3" text-anchor="middle" font-weight="bold">+</text>
<text x="127.40" y="358.80" font-size="7.0" fill="#1a1a1a" stroke="#1a1a1a" stroke-width="0.3" text-anchor="middle" font-weight="bold">PD1</text>
<text x="151.80" y="348.00" font-size="7.0" fill="#1a1a1a" stroke="#1a1a1a" stroke-width="0.3" text-anchor="middle" font-weight="bold">RGS</text>
<text x="151.80" y="353.60" font-size="7.4" fill="#1a1a1a" stroke="#1a1a1a" stroke-width="0.3" text-anchor="middle" font-weight="bold">+</text>
<text x="151.80" y="358.80" font-size="7.0" fill="#1a1a1a" stroke="#1a1a1a" stroke-width="0.3" text-anchor="middle" font-weight="bold">IgG</text>
<text x="46.6" y="224.6" font-size="9.7" fill="#1a1a1a" font-weight="bold" stroke="#1a1a1a" stroke-width="0.3">CD45<tspan dy="-3.49" font-size="6.98">+</tspan><tspan dy="3.49"> total leukocytes</tspan></text>
<text x="23" y="284" font-size="10.2" fill="#1a1a1a" font-weight="bold" text-anchor="middle" transform="rotate(-90 23 284)" dy="3.6" stroke="#1a1a1a" stroke-width="0.3">% in live cells</text>
<line x1="48.00" y1="309.68" x2="48.00" y2="313.91" stroke="#111111" stroke-width="0.8"/>
<line x1="45.80" y1="309.68" x2="50.20" y2="309.68" stroke="#111111" stroke-width="0.8"/>
<line x1="45.80" y1="313.91" x2="50.20" y2="313.91" stroke="#111111" stroke-width="0.8"/>
<circle cx="48.00" cy="305.45" r="1.70" fill="#111111" stroke="none" stroke-width="0"/>
<circle cx="45.40" cy="307.56" r="1.70" fill="#111111" stroke="none" stroke-width="0"/>
<circle cx="50.60" cy="310.74" r="1.70" fill="#111111" stroke="none" stroke-width="0"/>
<circle cx="45.60" cy="312.85" r="1.70" fill="#111111" stroke="none" stroke-width="0"/>
<circle cx="50.40" cy="317.08" r="1.70" fill="#111111" stroke="none" stroke-width="0"/>
<line x1="43.00" y1="311.80" x2="53.00" y2="311.80" stroke="#111" stroke-width="1.3"/>
<line x1="60.00" y1="293.82" x2="60.00" y2="301.22" stroke="#ff2a2a" stroke-width="0.8"/>
<line x1="57.80" y1="293.82" x2="62.20" y2="293.82" stroke="#ff2a2a" stroke-width="0.8"/>
<line x1="57.80" y1="301.22" x2="62.20" y2="301.22" stroke="#ff2a2a" stroke-width="0.8"/>
<rect x="58.30" y="283.13" width="3.40" height="3.40" fill="#ff2a2a"/>
<rect x="55.70" y="295.29" width="3.40" height="3.40" fill="#ff2a2a"/>
<rect x="60.90" y="299.52" width="3.40" height="3.40" fill="#ff2a2a"/>
<rect x="55.90" y="301.64" width="3.40" height="3.40" fill="#ff2a2a"/>
<rect x="60.70" y="304.81" width="3.40" height="3.40" fill="#ff2a2a"/>
<line x1="55.00" y1="297.52" x2="65.00" y2="297.52" stroke="#111" stroke-width="1.3"/>
<line x1="72.40" y1="286.42" x2="72.40" y2="295.93" stroke="#3ce63c" stroke-width="0.8"/>
<line x1="70.20" y1="286.42" x2="74.60" y2="286.42" stroke="#3ce63c" stroke-width="0.8"/>
<line x1="70.20" y1="295.93" x2="74.60" y2="295.93" stroke="#3ce63c" stroke-width="0.8"/>
<polygon points="72.40,274.33 74.27,277.73 70.53,277.73" fill="#3ce63c"/>
<polygon points="69.80,289.13 71.67,292.53 67.93,292.53" fill="#3ce63c"/>
<polygon points="75.00,289.13 76.87,292.53 73.13,292.53" fill="#3ce63c"/>
<polygon points="70.00,293.89 71.87,297.29 68.13,297.29" fill="#3ce63c"/>
<polygon points="74.80,298.12 76.67,301.52 72.93,301.52" fill="#3ce63c"/>
<line x1="67.40" y1="291.17" x2="77.40" y2="291.17" stroke="#111" stroke-width="1.3"/>
<line x1="84.80" y1="280.60" x2="84.80" y2="295.40" stroke="#d23cff" stroke-width="0.8"/>
<line x1="82.60" y1="280.60" x2="87.00" y2="280.60" stroke="#d23cff" stroke-width="0.8"/>
<line x1="82.60" y1="295.40" x2="87.00" y2="295.40" stroke="#d23cff" stroke-width="0.8"/>
<polygon points="84.80,266.78 86.67,263.38 82.93,263.38" fill="#d23cff"/>
<polygon points="82.20,296.92 84.07,293.51 80.33,293.51" fill="#d23cff"/>
<polygon points="87.40,296.92 89.27,293.51 85.53,293.51" fill="#d23cff"/>
<polygon points="82.40,296.92 84.27,293.51 80.53,293.51" fill="#d23cff"/>
<polygon points="87.20,309.61 89.07,306.20 85.33,306.20" fill="#d23cff"/>
<line x1="79.80" y1="288.00" x2="89.80" y2="288.00" stroke="#111" stroke-width="1.3"/>
<line x1="97.40" y1="296.46" x2="97.40" y2="305.98" stroke="#ff7a3a" stroke-width="0.8"/>
<line x1="95.20" y1="296.46" x2="99.60" y2="296.46" stroke="#ff7a3a" stroke-width="0.8"/>
<line x1="95.20" y1="305.98" x2="99.60" y2="305.98" stroke="#ff7a3a" stroke-width="0.8"/>
<polygon points="97.40,279.98 99.10,282.19 97.40,284.39 95.70,282.19" fill="#ff7a3a"/>
<polygon points="94.80,301.13 96.50,303.34 94.80,305.55 93.10,303.34" fill="#ff7a3a"/>
<polygon points="100.00,303.24 101.70,305.45 100.00,307.66 98.30,305.45" fill="#ff7a3a"/>
<polygon points="95.00,304.30 96.70,306.51 95.00,308.72 93.30,306.51" fill="#ff7a3a"/>
<polygon points="99.80,308.53 101.50,310.74 99.80,312.95 98.10,310.74" fill="#ff7a3a"/>
<line x1="92.40" y1="301.22" x2="102.40" y2="301.22" stroke="#111" stroke-width="1.3"/>
<line x1="109.40" y1="292.76" x2="109.40" y2="295.93" stroke="#2424ee" stroke-width="0.8"/>
<line x1="107.20" y1="292.76" x2="111.60" y2="292.76" stroke="#2424ee" stroke-width="0.8"/>
<line x1="107.20" y1="295.93" x2="111.60" y2="295.93" stroke="#2424ee" stroke-width="0.8"/>
<circle cx="109.40" cy="287.47" r="1.70" fill="#2424ee" stroke="none" stroke-width="0"/>
<circle cx="106.80" cy="293.82" r="1.70" fill="#2424ee" stroke="none" stroke-width="0"/>
<circle cx="112.00" cy="295.93" r="1.70" fill="#2424ee" stroke="none" stroke-width="0"/>
<circle cx="107.00" cy="295.93" r="1.70" fill="#2424ee" stroke="none" stroke-width="0"/>
<circle cx="111.80" cy="296.99" r="1.70" fill="#2424ee" stroke="none" stroke-width="0"/>
<line x1="104.40" y1="294.35" x2="114.40" y2="294.35" stroke="#111" stroke-width="1.3"/>
<line x1="122.00" y1="309.15" x2="122.00" y2="311.27" stroke="#d0742a" stroke-width="0.8"/>
<line x1="119.80" y1="309.15" x2="124.20" y2="309.15" stroke="#d0742a" stroke-width="0.8"/>
<line x1="119.80" y1="311.27" x2="124.20" y2="311.27" stroke="#d0742a" stroke-width="0.8"/>
<rect x="120.30" y="305.34" width="3.40" height="3.40" fill="#d0742a"/>
<rect x="117.70" y="307.98" width="3.40" height="3.40" fill="#d0742a"/>
<rect x="122.90" y="309.04" width="3.40" height="3.40" fill="#d0742a"/>
<rect x="117.90" y="309.57" width="3.40" height="3.40" fill="#d0742a"/>
<rect x="122.70" y="309.57" width="3.40" height="3.40" fill="#d0742a"/>
<line x1="117.00" y1="310.21" x2="127.00" y2="310.21" stroke="#111" stroke-width="1.3"/>
<line x1="134.40" y1="279.01" x2="134.40" y2="288.53" stroke="#8c8a2a" stroke-width="0.8"/>
<line x1="132.20" y1="279.01" x2="136.60" y2="279.01" stroke="#8c8a2a" stroke-width="0.8"/>
<line x1="132.20" y1="288.53" x2="136.60" y2="288.53" stroke="#8c8a2a" stroke-width="0.8"/>
<polygon points="134.40,275.92 136.27,279.32 132.53,279.32" fill="#8c8a2a"/>
<polygon points="132.20,279.09 134.07,282.49 130.33,282.49" fill="#8c8a2a"/>
<polygon points="136.60,289.66 138.47,293.06 134.73,293.06" fill="#8c8a2a"/>
<line x1="129.40" y1="283.77" x2="139.40" y2="283.77" stroke="#111" stroke-width="1.3"/>
<line x1="146.60" y1="304.18" x2="146.60" y2="306.72" stroke="#8a2ad0" stroke-width="0.8"/>
<line x1="144.40" y1="304.18" x2="148.80" y2="304.18" stroke="#8a2ad0" stroke-width="0.8"/>
<line x1="144.40" y1="306.72" x2="148.80" y2="306.72" stroke="#8a2ad0" stroke-width="0.8"/>
<polygon points="146.60,304.32 148.47,300.92 144.73,300.92" fill="#8a2ad0"/>
<polygon points="144.00,306.43 145.87,303.03 142.13,303.03" fill="#8a2ad0"/>
<polygon points="149.20,308.02 151.07,304.62 147.33,304.62" fill="#8a2ad0"/>
<polygon points="144.20,309.61 146.07,306.20 142.33,306.20" fill="#8a2ad0"/>
<polygon points="149.00,310.13 150.87,306.73 147.13,306.73" fill="#8a2ad0"/>
<line x1="141.60" y1="305.45" x2="151.60" y2="305.45" stroke="#111" stroke-width="1.3"/>
<line x1="158.60" y1="291.70" x2="158.60" y2="296.99" stroke="#b02a6a" stroke-width="0.8"/>
<line x1="156.40" y1="291.70" x2="160.80" y2="291.70" stroke="#b02a6a" stroke-width="0.8"/>
<line x1="156.40" y1="296.99" x2="160.80" y2="296.99" stroke="#b02a6a" stroke-width="0.8"/>
<polygon points="158.60,282.09 160.30,284.30 158.60,286.51 156.90,284.30" fill="#b02a6a"/>
<polygon points="156.00,292.67 157.70,294.88 156.00,297.08 154.30,294.88" fill="#b02a6a"/>
<polygon points="161.20,293.72 162.90,295.93 161.20,298.14 159.50,295.93" fill="#b02a6a"/>
<polygon points="156.20,295.31 157.90,297.52 156.20,299.73 154.50,297.52" fill="#b02a6a"/>
<polygon points="161.00,296.90 162.70,299.11 161.00,301.31 159.30,299.11" fill="#b02a6a"/>
<line x1="153.60" y1="294.35" x2="163.60" y2="294.35" stroke="#111" stroke-width="1.3"/>
<line x1="45.60" y1="243.50" x2="144.40" y2="243.50" stroke="#111" stroke-width="1.1"/>
<text x="95.00" y="246.10" font-size="14" fill="#1a1a1a" text-anchor="middle" font-weight="bold" letter-spacing="0.4" stroke="#111" stroke-width="0.05">*</text>
<line x1="45.60" y1="255.50" x2="73.00" y2="255.50" stroke="#111" stroke-width="1.1"/>
<text x="59.30" y="258.10" font-size="14" fill="#1a1a1a" text-anchor="middle" font-weight="bold" letter-spacing="0.4" stroke="#111" stroke-width="0.05">**</text>
<line x1="45.60" y1="270.50" x2="59.60" y2="270.50" stroke="#111" stroke-width="1.1"/>
<text x="52.60" y="273.10" font-size="14" fill="#1a1a1a" text-anchor="middle" font-weight="bold" letter-spacing="0.4" stroke="#111" stroke-width="0.05">*</text>
<line x1="119.00" y1="267.50" x2="136.60" y2="267.50" stroke="#111" stroke-width="1.1"/>
<text x="127.80" y="270.10" font-size="14" fill="#1a1a1a" text-anchor="middle" font-weight="bold" letter-spacing="0.4" stroke="#111" stroke-width="0.05">***</text>
<line x1="146.40" y1="273.50" x2="160.00" y2="273.50" stroke="#111" stroke-width="1.1"/>
<text x="153.20" y="276.10" font-size="14" fill="#1a1a1a" text-anchor="middle" font-weight="bold" letter-spacing="0.4" stroke="#111" stroke-width="0.05">**</text>
<line x1="197.50" y1="241.60" x2="197.50" y2="326.80" stroke="#1a1a1a" stroke-width="1.2"/>
<line x1="196.90" y1="326.20" x2="326.00" y2="326.20" stroke="#1a1a1a" stroke-width="1.2"/>
<line x1="194.50" y1="326.20" x2="197.50" y2="326.20" stroke="#1a1a1a" stroke-width="1.0"/>
<text x="193.50" y="329.40" font-size="8.6" fill="#1a1a1a" stroke="#1a1a1a" stroke-width="0.3" text-anchor="end" font-weight="bold">0</text>
<line x1="194.50" y1="298.00" x2="197.50" y2="298.00" stroke="#1a1a1a" stroke-width="1.0"/>
<text x="193.50" y="301.20" font-size="8.6" fill="#1a1a1a" stroke="#1a1a1a" stroke-width="0.3" text-anchor="end" font-weight="bold">5</text>
<line x1="194.50" y1="269.80" x2="197.50" y2="269.80" stroke="#1a1a1a" stroke-width="1.0"/>
<text x="193.50" y="273.00" font-size="8.6" fill="#1a1a1a" stroke="#1a1a1a" stroke-width="0.3" text-anchor="end" font-weight="bold">10</text>
<line x1="194.50" y1="241.60" x2="197.50" y2="241.60" stroke="#1a1a1a" stroke-width="1.0"/>
<text x="193.50" y="244.80" font-size="8.6" fill="#1a1a1a" stroke="#1a1a1a" stroke-width="0.3" text-anchor="end" font-weight="bold">15</text>
<line x1="206.00" y1="326.20" x2="206.00" y2="329.20" stroke="#1a1a1a" stroke-width="1.0"/>
<text x="206.00" y="336.40" font-size="7.0" fill="#1a1a1a" stroke="#1a1a1a" stroke-width="0.3" text-anchor="middle" font-weight="bold">1</text>
<line x1="218.30" y1="326.20" x2="218.30" y2="329.20" stroke="#1a1a1a" stroke-width="1.0"/>
<text x="218.30" y="336.40" font-size="7.0" fill="#1a1a1a" stroke="#1a1a1a" stroke-width="0.3" text-anchor="middle" font-weight="bold">2</text>
<line x1="230.40" y1="326.20" x2="230.40" y2="329.20" stroke="#1a1a1a" stroke-width="1.0"/>
<text x="230.40" y="336.40" font-size="7.0" fill="#1a1a1a" stroke="#1a1a1a" stroke-width="0.3" text-anchor="middle" font-weight="bold">1</text>
<line x1="242.80" y1="326.20" x2="242.80" y2="329.20" stroke="#1a1a1a" stroke-width="1.0"/>
<text x="242.80" y="336.40" font-size="7.0" fill="#1a1a1a" stroke="#1a1a1a" stroke-width="0.3" text-anchor="middle" font-weight="bold">2</text>
<line x1="255.00" y1="326.20" x2="255.00" y2="329.20" stroke="#1a1a1a" stroke-width="1.0"/>
<text x="255.00" y="336.40" font-size="7.0" fill="#1a1a1a" stroke="#1a1a1a" stroke-width="0.3" text-anchor="middle" font-weight="bold">1</text>
<line x1="267.20" y1="326.20" x2="267.20" y2="329.20" stroke="#1a1a1a" stroke-width="1.0"/>
<text x="267.20" y="336.40" font-size="7.0" fill="#1a1a1a" stroke="#1a1a1a" stroke-width="0.3" text-anchor="middle" font-weight="bold">2</text>
<line x1="279.50" y1="326.20" x2="279.50" y2="329.20" stroke="#1a1a1a" stroke-width="1.0"/>
<text x="279.50" y="336.40" font-size="7.0" fill="#1a1a1a" stroke="#1a1a1a" stroke-width="0.3" text-anchor="middle" font-weight="bold">1</text>
<line x1="292.00" y1="326.20" x2="292.00" y2="329.20" stroke="#1a1a1a" stroke-width="1.0"/>
<text x="292.00" y="336.40" font-size="7.0" fill="#1a1a1a" stroke="#1a1a1a" stroke-width="0.3" text-anchor="middle" font-weight="bold">2</text>
<line x1="304.00" y1="326.20" x2="304.00" y2="329.20" stroke="#1a1a1a" stroke-width="1.0"/>
<text x="304.00" y="336.40" font-size="7.0" fill="#1a1a1a" stroke="#1a1a1a" stroke-width="0.3" text-anchor="middle" font-weight="bold">1</text>
<line x1="316.90" y1="326.20" x2="316.90" y2="329.20" stroke="#1a1a1a" stroke-width="1.0"/>
<text x="316.90" y="336.40" font-size="7.0" fill="#1a1a1a" stroke="#1a1a1a" stroke-width="0.3" text-anchor="middle" font-weight="bold">2</text>
<text x="211.35" y="348.00" font-size="7.0" fill="#1a1a1a" stroke="#1a1a1a" stroke-width="0.3" text-anchor="middle" font-weight="bold">Veh</text>
<text x="211.35" y="353.60" font-size="7.4" fill="#1a1a1a" stroke="#1a1a1a" stroke-width="0.3" text-anchor="middle" font-weight="bold">+</text>
<text x="211.35" y="358.80" font-size="7.0" fill="#1a1a1a" stroke="#1a1a1a" stroke-width="0.3" text-anchor="middle" font-weight="bold">IgG</text>
<text x="235.80" y="348.00" font-size="7.0" fill="#1a1a1a" stroke="#1a1a1a" stroke-width="0.3" text-anchor="middle" font-weight="bold">Veh</text>
<text x="235.80" y="353.60" font-size="7.4" fill="#1a1a1a" stroke="#1a1a1a" stroke-width="0.3" text-anchor="middle" font-weight="bold">+</text>
<text x="235.80" y="358.80" font-size="7.0" fill="#1a1a1a" stroke="#1a1a1a" stroke-width="0.3" text-anchor="middle" font-weight="bold">aCD40</text>
<text x="260.30" y="348.00" font-size="7.0" fill="#1a1a1a" stroke="#1a1a1a" stroke-width="0.3" text-anchor="middle" font-weight="bold">Veh</text>
<text x="260.30" y="353.60" font-size="7.4" fill="#1a1a1a" stroke="#1a1a1a" stroke-width="0.3" text-anchor="middle" font-weight="bold">+</text>
<text x="260.30" y="358.80" font-size="7.0" fill="#1a1a1a" stroke="#1a1a1a" stroke-width="0.3" text-anchor="middle" font-weight="bold">PD1</text>
<text x="284.95" y="348.00" font-size="7.0" fill="#1a1a1a" stroke="#1a1a1a" stroke-width="0.3" text-anchor="middle" font-weight="bold">aCD40</text>
<text x="284.95" y="353.60" font-size="7.4" fill="#1a1a1a" stroke="#1a1a1a" stroke-width="0.3" text-anchor="middle" font-weight="bold">+</text>
<text x="284.95" y="358.80" font-size="7.0" fill="#1a1a1a" stroke="#1a1a1a" stroke-width="0.3" text-anchor="middle" font-weight="bold">PD1</text>
<text x="309.65" y="348.00" font-size="7.0" fill="#1a1a1a" stroke="#1a1a1a" stroke-width="0.3" text-anchor="middle" font-weight="bold">RGS</text>
<text x="309.65" y="353.60" font-size="7.4" fill="#1a1a1a" stroke="#1a1a1a" stroke-width="0.3" text-anchor="middle" font-weight="bold">+</text>
<text x="309.65" y="358.80" font-size="7.0" fill="#1a1a1a" stroke="#1a1a1a" stroke-width="0.3" text-anchor="middle" font-weight="bold">IgG</text>
<text x="217.6" y="224.6" font-size="9.7" fill="#1a1a1a" font-weight="bold" stroke="#1a1a1a" stroke-width="0.3">CD8<tspan dy="-3.49" font-size="6.98">+</tspan><tspan dy="3.49">CD3<tspan dy="-3.49" font-size="6.98">+</tspan><tspan dy="3.49"> Tc cells</tspan></tspan></text>
<text x="177" y="285" font-size="10.2" fill="#1a1a1a" font-weight="bold" text-anchor="middle" transform="rotate(-90 177 285)" dy="3.6" stroke="#1a1a1a" stroke-width="0.3">% in CD45<tspan dy="-3.67" font-size="7.34">+</tspan><tspan dy="3.67"> cells</tspan></text>
<line x1="206.00" y1="316.61" x2="206.00" y2="318.87" stroke="#111111" stroke-width="0.8"/>
<line x1="203.80" y1="316.61" x2="208.20" y2="316.61" stroke="#111111" stroke-width="0.8"/>
<line x1="203.80" y1="318.87" x2="208.20" y2="318.87" stroke="#111111" stroke-width="0.8"/>
<circle cx="206.00" cy="314.92" r="1.70" fill="#111111" stroke="none" stroke-width="0"/>
<circle cx="203.40" cy="317.18" r="1.70" fill="#111111" stroke="none" stroke-width="0"/>
<circle cx="208.60" cy="317.74" r="1.70" fill="#111111" stroke="none" stroke-width="0"/>
<circle cx="203.60" cy="318.87" r="1.70" fill="#111111" stroke="none" stroke-width="0"/>
<circle cx="208.40" cy="321.12" r="1.70" fill="#111111" stroke="none" stroke-width="0"/>
<line x1="201.00" y1="317.74" x2="211.00" y2="317.74" stroke="#111" stroke-width="1.3"/>
<line x1="218.30" y1="321.69" x2="218.30" y2="322.82" stroke="#ff2a2a" stroke-width="0.8"/>
<line x1="216.10" y1="321.69" x2="220.50" y2="321.69" stroke="#ff2a2a" stroke-width="0.8"/>
<line x1="216.10" y1="322.82" x2="220.50" y2="322.82" stroke="#ff2a2a" stroke-width="0.8"/>
<rect x="216.60" y="319.42" width="3.40" height="3.40" fill="#ff2a2a"/>
<rect x="214.00" y="319.99" width="3.40" height="3.40" fill="#ff2a2a"/>
<rect x="219.20" y="321.12" width="3.40" height="3.40" fill="#ff2a2a"/>
<rect x="214.20" y="321.68" width="3.40" height="3.40" fill="#ff2a2a"/>
<rect x="219.00" y="322.24" width="3.40" height="3.40" fill="#ff2a2a"/>
<line x1="213.30" y1="322.25" x2="223.30" y2="322.25" stroke="#111" stroke-width="1.3"/>
<line x1="230.40" y1="299.69" x2="230.40" y2="303.08" stroke="#3ce63c" stroke-width="0.8"/>
<line x1="228.20" y1="299.69" x2="232.60" y2="299.69" stroke="#3ce63c" stroke-width="0.8"/>
<line x1="228.20" y1="303.08" x2="232.60" y2="303.08" stroke="#3ce63c" stroke-width="0.8"/>
<polygon points="230.40,295.96 232.27,299.36 228.53,299.36" fill="#3ce63c"/>
<polygon points="227.80,298.78 229.67,302.18 225.93,302.18" fill="#3ce63c"/>
<polygon points="233.00,299.34 234.87,302.74 231.13,302.74" fill="#3ce63c"/>
<polygon points="228.00,299.91 229.87,303.31 226.13,303.31" fill="#3ce63c"/>
<polygon points="232.80,305.55 234.67,308.95 230.93,308.95" fill="#3ce63c"/>
<line x1="225.40" y1="301.38" x2="235.40" y2="301.38" stroke="#111" stroke-width="1.3"/>
<line x1="242.80" y1="296.87" x2="242.80" y2="305.90" stroke="#d23cff" stroke-width="0.8"/>
<line x1="240.60" y1="296.87" x2="245.00" y2="296.87" stroke="#d23cff" stroke-width="0.8"/>
<line x1="240.60" y1="305.90" x2="245.00" y2="305.90" stroke="#d23cff" stroke-width="0.8"/>
<polygon points="242.80,294.40 244.67,291.00 240.93,291.00" fill="#d23cff"/>
<polygon points="240.20,295.53 242.07,292.13 238.33,292.13" fill="#d23cff"/>
<polygon points="245.40,302.86 247.27,299.46 243.53,299.46" fill="#d23cff"/>
<polygon points="240.40,305.68 242.27,302.28 238.53,302.28" fill="#d23cff"/>
<polygon points="245.20,314.14 247.07,310.74 243.33,310.74" fill="#d23cff"/>
<line x1="237.80" y1="301.38" x2="247.80" y2="301.38" stroke="#111" stroke-width="1.3"/>
<line x1="255.00" y1="315.48" x2="255.00" y2="317.74" stroke="#ff7a3a" stroke-width="0.8"/>
<line x1="252.80" y1="315.48" x2="257.20" y2="315.48" stroke="#ff7a3a" stroke-width="0.8"/>
<line x1="252.80" y1="317.74" x2="257.20" y2="317.74" stroke="#ff7a3a" stroke-width="0.8"/>
<polygon points="255.00,312.71 256.70,314.92 255.00,317.13 253.30,314.92" fill="#ff7a3a"/>
<polygon points="252.40,313.84 254.10,316.05 252.40,318.26 250.70,316.05" fill="#ff7a3a"/>
<polygon points="257.60,314.97 259.30,317.18 257.60,319.39 255.90,317.18" fill="#ff7a3a"/>
<polygon points="252.60,315.53 254.30,317.74 252.60,319.95 250.90,317.74" fill="#ff7a3a"/>
<polygon points="257.40,316.09 259.10,318.30 257.40,320.51 255.70,318.30" fill="#ff7a3a"/>
<line x1="250.00" y1="316.61" x2="260.00" y2="316.61" stroke="#111" stroke-width="1.3"/>
<line x1="267.20" y1="288.41" x2="267.20" y2="294.05" stroke="#2424ee" stroke-width="0.8"/>
<line x1="265.00" y1="288.41" x2="269.40" y2="288.41" stroke="#2424ee" stroke-width="0.8"/>
<line x1="265.00" y1="294.05" x2="269.40" y2="294.05" stroke="#2424ee" stroke-width="0.8"/>
<circle cx="267.20" cy="285.59" r="1.70" fill="#2424ee" stroke="none" stroke-width="0"/>
<circle cx="264.60" cy="286.72" r="1.70" fill="#2424ee" stroke="none" stroke-width="0"/>
<circle cx="269.80" cy="289.54" r="1.70" fill="#2424ee" stroke="none" stroke-width="0"/>
<circle cx="264.80" cy="293.49" r="1.70" fill="#2424ee" stroke="none" stroke-width="0"/>
<circle cx="269.60" cy="303.08" r="1.70" fill="#2424ee" stroke="none" stroke-width="0"/>
<line x1="262.20" y1="291.23" x2="272.20" y2="291.23" stroke="#111" stroke-width="1.3"/>
<line x1="279.50" y1="301.38" x2="279.50" y2="312.66" stroke="#d0742a" stroke-width="0.8"/>
<line x1="277.30" y1="301.38" x2="281.70" y2="301.38" stroke="#d0742a" stroke-width="0.8"/>
<line x1="277.30" y1="312.66" x2="281.70" y2="312.66" stroke="#d0742a" stroke-width="0.8"/>
<rect x="277.80" y="288.97" width="3.40" height="3.40" fill="#d0742a"/>
<rect x="275.20" y="297.43" width="3.40" height="3.40" fill="#d0742a"/>
<rect x="280.40" y="303.07" width="3.40" height="3.40" fill="#d0742a"/>
<rect x="275.40" y="313.22" width="3.40" height="3.40" fill="#d0742a"/>
<rect x="280.20" y="319.99" width="3.40" height="3.40" fill="#d0742a"/>
<line x1="274.50" y1="307.02" x2="284.50" y2="307.02" stroke="#111" stroke-width="1.3"/>
<line x1="292.00" y1="255.14" x2="292.00" y2="264.16" stroke="#8c8a2a" stroke-width="0.8"/>
<line x1="289.80" y1="255.14" x2="294.20" y2="255.14" stroke="#8c8a2a" stroke-width="0.8"/>
<line x1="289.80" y1="264.16" x2="294.20" y2="264.16" stroke="#8c8a2a" stroke-width="0.8"/>
<polygon points="292.00,250.84 293.87,254.24 290.13,254.24" fill="#8c8a2a"/>
<polygon points="289.80,259.30 291.67,262.70 287.93,262.70" fill="#8c8a2a"/>
<polygon points="294.20,263.25 296.07,266.65 292.33,266.65" fill="#8c8a2a"/>
<line x1="287.00" y1="259.65" x2="297.00" y2="259.65" stroke="#111" stroke-width="1.3"/>
<line x1="304.00" y1="318.30" x2="304.00" y2="320.56" stroke="#8a2ad0" stroke-width="0.8"/>
<line x1="301.80" y1="318.30" x2="306.20" y2="318.30" stroke="#8a2ad0" stroke-width="0.8"/>
<line x1="301.80" y1="320.56" x2="306.20" y2="320.56" stroke="#8a2ad0" stroke-width="0.8"/>
<polygon points="304.00,318.65 305.87,315.25 302.13,315.25" fill="#8a2ad0"/>
<polygon points="301.40,319.78 303.27,316.38 299.53,316.38" fill="#8a2ad0"/>
<polygon points="306.60,321.47 308.47,318.07 304.73,318.07" fill="#8a2ad0"/>
<polygon points="301.60,322.60 303.47,319.20 299.73,319.20" fill="#8a2ad0"/>
<polygon points="306.40,323.73 308.27,320.33 304.53,320.33" fill="#8a2ad0"/>
<line x1="299.00" y1="319.43" x2="309.00" y2="319.43" stroke="#111" stroke-width="1.3"/>
<line x1="316.90" y1="311.82" x2="316.90" y2="314.64" stroke="#b02a6a" stroke-width="0.8"/>
<line x1="314.70" y1="311.82" x2="319.10" y2="311.82" stroke="#b02a6a" stroke-width="0.8"/>
<line x1="314.70" y1="314.64" x2="319.10" y2="314.64" stroke="#b02a6a" stroke-width="0.8"/>
<polygon points="316.90,307.63 318.60,309.84 316.90,312.05 315.20,309.84" fill="#b02a6a"/>
<polygon points="314.30,309.33 316.00,311.54 314.30,313.75 312.60,311.54" fill="#b02a6a"/>
<polygon points="319.50,311.02 321.20,313.23 319.50,315.44 317.80,313.23" fill="#b02a6a"/>
<polygon points="314.50,311.58 316.20,313.79 314.50,316.00 312.80,313.79" fill="#b02a6a"/>
<polygon points="319.30,313.84 321.00,316.05 319.30,318.26 317.60,316.05" fill="#b02a6a"/>
<line x1="311.90" y1="313.23" x2="321.90" y2="313.23" stroke="#111" stroke-width="1.3"/>
<line x1="215.60" y1="238.50" x2="292.70" y2="238.50" stroke="#111" stroke-width="1.1"/>
<text x="254.15" y="241.10" font-size="14" fill="#1a1a1a" text-anchor="middle" font-weight="bold" letter-spacing="0.4" stroke="#111" stroke-width="0.05">**</text>
<line x1="278.00" y1="246.50" x2="293.50" y2="246.50" stroke="#111" stroke-width="1.1"/>
<text x="285.75" y="249.10" font-size="14" fill="#1a1a1a" text-anchor="middle" font-weight="bold" letter-spacing="0.4" stroke="#111" stroke-width="0.05">*</text>
<line x1="215.70" y1="268.50" x2="268.30" y2="268.50" stroke="#111" stroke-width="1.1"/>
<text x="242.00" y="271.10" font-size="14" fill="#1a1a1a" text-anchor="middle" font-weight="bold" letter-spacing="0.4" stroke="#111" stroke-width="0.05">**</text>
<line x1="253.30" y1="279.50" x2="269.80" y2="279.50" stroke="#111" stroke-width="1.1"/>
<text x="261.55" y="282.10" font-size="14" fill="#1a1a1a" text-anchor="middle" font-weight="bold" letter-spacing="0.4" stroke="#111" stroke-width="0.05">**</text>
<line x1="215.70" y1="284.50" x2="242.80" y2="284.50" stroke="#111" stroke-width="1.1"/>
<text x="229.25" y="287.10" font-size="14" fill="#1a1a1a" text-anchor="middle" font-weight="bold" letter-spacing="0.4" stroke="#111" stroke-width="0.05">*</text>
<line x1="206.00" y1="294.50" x2="231.50" y2="294.50" stroke="#111" stroke-width="1.1"/>
<text x="218.75" y="297.10" font-size="14" fill="#1a1a1a" text-anchor="middle" font-weight="bold" letter-spacing="0.4" stroke="#111" stroke-width="0.05">**</text>
<line x1="355.50" y1="241.50" x2="355.50" y2="327.60" stroke="#1a1a1a" stroke-width="1.2"/>
<line x1="354.90" y1="327.00" x2="483.40" y2="327.00" stroke="#1a1a1a" stroke-width="1.2"/>
<line x1="352.50" y1="327.00" x2="355.50" y2="327.00" stroke="#1a1a1a" stroke-width="1.0"/>
<text x="351.50" y="330.20" font-size="8.6" fill="#1a1a1a" stroke="#1a1a1a" stroke-width="0.3" text-anchor="end" font-weight="bold">0</text>
<line x1="352.50" y1="309.90" x2="355.50" y2="309.90" stroke="#1a1a1a" stroke-width="1.0"/>
<text x="351.50" y="313.10" font-size="8.6" fill="#1a1a1a" stroke="#1a1a1a" stroke-width="0.3" text-anchor="end" font-weight="bold">2</text>
<line x1="352.50" y1="292.80" x2="355.50" y2="292.80" stroke="#1a1a1a" stroke-width="1.0"/>
<text x="351.50" y="296.00" font-size="8.6" fill="#1a1a1a" stroke="#1a1a1a" stroke-width="0.3" text-anchor="end" font-weight="bold">4</text>
<line x1="352.50" y1="275.70" x2="355.50" y2="275.70" stroke="#1a1a1a" stroke-width="1.0"/>
<text x="351.50" y="278.90" font-size="8.6" fill="#1a1a1a" stroke="#1a1a1a" stroke-width="0.3" text-anchor="end" font-weight="bold">6</text>
<line x1="352.50" y1="258.60" x2="355.50" y2="258.60" stroke="#1a1a1a" stroke-width="1.0"/>
<text x="351.50" y="261.80" font-size="8.6" fill="#1a1a1a" stroke="#1a1a1a" stroke-width="0.3" text-anchor="end" font-weight="bold">8</text>
<line x1="352.50" y1="241.50" x2="355.50" y2="241.50" stroke="#1a1a1a" stroke-width="1.0"/>
<text x="351.50" y="244.70" font-size="8.6" fill="#1a1a1a" stroke="#1a1a1a" stroke-width="0.3" text-anchor="end" font-weight="bold">10</text>
<line x1="362.60" y1="327.00" x2="362.60" y2="330.00" stroke="#1a1a1a" stroke-width="1.0"/>
<text x="362.60" y="336.40" font-size="7.0" fill="#1a1a1a" stroke="#1a1a1a" stroke-width="0.3" text-anchor="middle" font-weight="bold">1</text>
<line x1="375.20" y1="327.00" x2="375.20" y2="330.00" stroke="#1a1a1a" stroke-width="1.0"/>
<text x="375.20" y="336.40" font-size="7.0" fill="#1a1a1a" stroke="#1a1a1a" stroke-width="0.3" text-anchor="middle" font-weight="bold">2</text>
<line x1="387.80" y1="327.00" x2="387.80" y2="330.00" stroke="#1a1a1a" stroke-width="1.0"/>
<text x="387.80" y="336.40" font-size="7.0" fill="#1a1a1a" stroke="#1a1a1a" stroke-width="0.3" text-anchor="middle" font-weight="bold">1</text>
<line x1="400.10" y1="327.00" x2="400.10" y2="330.00" stroke="#1a1a1a" stroke-width="1.0"/>
<text x="400.10" y="336.40" font-size="7.0" fill="#1a1a1a" stroke="#1a1a1a" stroke-width="0.3" text-anchor="middle" font-weight="bold">2</text>
<line x1="412.50" y1="327.00" x2="412.50" y2="330.00" stroke="#1a1a1a" stroke-width="1.0"/>
<text x="412.50" y="336.40" font-size="7.0" fill="#1a1a1a" stroke="#1a1a1a" stroke-width="0.3" text-anchor="middle" font-weight="bold">1</text>
<line x1="425.10" y1="327.00" x2="425.10" y2="330.00" stroke="#1a1a1a" stroke-width="1.0"/>
<text x="425.10" y="336.40" font-size="7.0" fill="#1a1a1a" stroke="#1a1a1a" stroke-width="0.3" text-anchor="middle" font-weight="bold">2</text>
<line x1="437.70" y1="327.00" x2="437.70" y2="330.00" stroke="#1a1a1a" stroke-width="1.0"/>
<text x="437.70" y="336.40" font-size="7.0" fill="#1a1a1a" stroke="#1a1a1a" stroke-width="0.3" text-anchor="middle" font-weight="bold">1</text>
<line x1="449.50" y1="327.00" x2="449.50" y2="330.00" stroke="#1a1a1a" stroke-width="1.0"/>
<text x="449.50" y="336.40" font-size="7.0" fill="#1a1a1a" stroke="#1a1a1a" stroke-width="0.3" text-anchor="middle" font-weight="bold">2</text>
<line x1="461.90" y1="327.00" x2="461.90" y2="330.00" stroke="#1a1a1a" stroke-width="1.0"/>
<text x="461.90" y="336.40" font-size="7.0" fill="#1a1a1a" stroke="#1a1a1a" stroke-width="0.3" text-anchor="middle" font-weight="bold">1</text>
<line x1="474.50" y1="327.00" x2="474.50" y2="330.00" stroke="#1a1a1a" stroke-width="1.0"/>
<text x="474.50" y="336.40" font-size="7.0" fill="#1a1a1a" stroke="#1a1a1a" stroke-width="0.3" text-anchor="middle" font-weight="bold">2</text>
<text x="368.10" y="348.00" font-size="7.0" fill="#1a1a1a" stroke="#1a1a1a" stroke-width="0.3" text-anchor="middle" font-weight="bold">Veh</text>
<text x="368.10" y="353.60" font-size="7.4" fill="#1a1a1a" stroke="#1a1a1a" stroke-width="0.3" text-anchor="middle" font-weight="bold">+</text>
<text x="368.10" y="358.80" font-size="7.0" fill="#1a1a1a" stroke="#1a1a1a" stroke-width="0.3" text-anchor="middle" font-weight="bold">IgG</text>
<text x="393.15" y="348.00" font-size="7.0" fill="#1a1a1a" stroke="#1a1a1a" stroke-width="0.3" text-anchor="middle" font-weight="bold">Veh</text>
<text x="393.15" y="353.60" font-size="7.4" fill="#1a1a1a" stroke="#1a1a1a" stroke-width="0.3" text-anchor="middle" font-weight="bold">+</text>
<text x="393.15" y="358.80" font-size="7.0" fill="#1a1a1a" stroke="#1a1a1a" stroke-width="0.3" text-anchor="middle" font-weight="bold">aCD40</text>
<text x="418.00" y="348.00" font-size="7.0" fill="#1a1a1a" stroke="#1a1a1a" stroke-width="0.3" text-anchor="middle" font-weight="bold">Veh</text>
<text x="418.00" y="353.60" font-size="7.4" fill="#1a1a1a" stroke="#1a1a1a" stroke-width="0.3" text-anchor="middle" font-weight="bold">+</text>
<text x="418.00" y="358.80" font-size="7.0" fill="#1a1a1a" stroke="#1a1a1a" stroke-width="0.3" text-anchor="middle" font-weight="bold">PD1</text>
<text x="442.80" y="348.00" font-size="7.0" fill="#1a1a1a" stroke="#1a1a1a" stroke-width="0.3" text-anchor="middle" font-weight="bold">aCD40</text>
<text x="442.80" y="353.60" font-size="7.4" fill="#1a1a1a" stroke="#1a1a1a" stroke-width="0.3" text-anchor="middle" font-weight="bold">+</text>
<text x="442.80" y="358.80" font-size="7.0" fill="#1a1a1a" stroke="#1a1a1a" stroke-width="0.3" text-anchor="middle" font-weight="bold">PD1</text>
<text x="467.40" y="348.00" font-size="7.0" fill="#1a1a1a" stroke="#1a1a1a" stroke-width="0.3" text-anchor="middle" font-weight="bold">RGS</text>
<text x="467.40" y="353.60" font-size="7.4" fill="#1a1a1a" stroke="#1a1a1a" stroke-width="0.3" text-anchor="middle" font-weight="bold">+</text>
<text x="467.40" y="358.80" font-size="7.0" fill="#1a1a1a" stroke="#1a1a1a" stroke-width="0.3" text-anchor="middle" font-weight="bold">IgG</text>
<text x="366.8" y="222" font-size="9.7" fill="#1a1a1a" font-weight="bold" stroke="#1a1a1a" stroke-width="0.3">CD11b<tspan dy="-3.49" font-size="6.98">+</tspan><tspan dy="3.49">CD19<tspan dy="-3.49" font-size="6.98">+</tspan><tspan dy="3.49"> B cells</tspan></tspan></text>
<text x="337" y="285" font-size="10.2" fill="#1a1a1a" font-weight="bold" text-anchor="middle" transform="rotate(-90 337 285)" dy="3.6" stroke="#1a1a1a" stroke-width="0.3">% in CD45<tspan dy="-3.67" font-size="7.34">+</tspan><tspan dy="3.67"> Cells</tspan></text>
<line x1="362.60" y1="274.42" x2="362.60" y2="280.40" stroke="#111111" stroke-width="0.8"/>
<line x1="360.40" y1="274.42" x2="364.80" y2="274.42" stroke="#111111" stroke-width="0.8"/>
<line x1="360.40" y1="280.40" x2="364.80" y2="280.40" stroke="#111111" stroke-width="0.8"/>
<circle cx="362.60" cy="267.15" r="1.70" fill="#111111" stroke="none" stroke-width="0"/>
<circle cx="360.00" cy="268.86" r="1.70" fill="#111111" stroke="none" stroke-width="0"/>
<circle cx="365.20" cy="272.28" r="1.70" fill="#111111" stroke="none" stroke-width="0"/>
<circle cx="360.20" cy="282.54" r="1.70" fill="#111111" stroke="none" stroke-width="0"/>
<circle cx="365.00" cy="289.38" r="1.70" fill="#111111" stroke="none" stroke-width="0"/>
<line x1="357.60" y1="277.41" x2="367.60" y2="277.41" stroke="#111" stroke-width="1.3"/>
<line x1="375.20" y1="284.68" x2="375.20" y2="288.95" stroke="#ff2a2a" stroke-width="0.8"/>
<line x1="373.00" y1="284.68" x2="377.40" y2="284.68" stroke="#ff2a2a" stroke-width="0.8"/>
<line x1="373.00" y1="288.95" x2="377.40" y2="288.95" stroke="#ff2a2a" stroke-width="0.8"/>
<rect x="373.50" y="275.71" width="3.40" height="3.40" fill="#ff2a2a"/>
<rect x="370.90" y="284.26" width="3.40" height="3.40" fill="#ff2a2a"/>
<rect x="376.10" y="285.97" width="3.40" height="3.40" fill="#ff2a2a"/>
<rect x="371.10" y="287.68" width="3.40" height="3.40" fill="#ff2a2a"/>
<rect x="375.90" y="290.25" width="3.40" height="3.40" fill="#ff2a2a"/>
<line x1="370.20" y1="286.81" x2="380.20" y2="286.81" stroke="#111" stroke-width="1.3"/>
<line x1="387.80" y1="279.80" x2="387.80" y2="281.86" stroke="#3ce63c" stroke-width="0.8"/>
<line x1="385.60" y1="279.80" x2="390.00" y2="279.80" stroke="#3ce63c" stroke-width="0.8"/>
<line x1="385.60" y1="281.86" x2="390.00" y2="281.86" stroke="#3ce63c" stroke-width="0.8"/>
<polygon points="387.80,276.22 389.67,279.62 385.93,279.62" fill="#3ce63c"/>
<polygon points="385.20,277.94 387.07,281.34 383.33,281.34" fill="#3ce63c"/>
<polygon points="390.40,278.79 392.27,282.19 388.53,282.19" fill="#3ce63c"/>
<polygon points="385.40,279.64 387.27,283.05 383.53,283.05" fill="#3ce63c"/>
<polygon points="390.20,282.21 392.07,285.61 388.33,285.61" fill="#3ce63c"/>
<line x1="382.80" y1="280.83" x2="392.80" y2="280.83" stroke="#111" stroke-width="1.3"/>
<line x1="400.10" y1="282.11" x2="400.10" y2="288.10" stroke="#d23cff" stroke-width="0.8"/>
<line x1="397.90" y1="282.11" x2="402.30" y2="282.11" stroke="#d23cff" stroke-width="0.8"/>
<line x1="397.90" y1="288.10" x2="402.30" y2="288.10" stroke="#d23cff" stroke-width="0.8"/>
<polygon points="400.10,274.32 401.97,270.92 398.23,270.92" fill="#d23cff"/>
<polygon points="397.50,282.87 399.37,279.47 395.63,279.47" fill="#d23cff"/>
<polygon points="402.70,288.00 404.57,284.60 400.83,284.60" fill="#d23cff"/>
<polygon points="397.70,289.71 399.57,286.31 395.83,286.31" fill="#d23cff"/>
<polygon points="402.50,293.99 404.37,290.58 400.63,290.58" fill="#d23cff"/>
<line x1="395.10" y1="285.11" x2="405.10" y2="285.11" stroke="#111" stroke-width="1.3"/>
<line x1="412.50" y1="288.95" x2="412.50" y2="295.79" stroke="#ff7a3a" stroke-width="0.8"/>
<line x1="410.30" y1="288.95" x2="414.70" y2="288.95" stroke="#ff7a3a" stroke-width="0.8"/>
<line x1="410.30" y1="295.79" x2="414.70" y2="295.79" stroke="#ff7a3a" stroke-width="0.8"/>
<polygon points="412.50,276.06 414.20,278.26 412.50,280.47 410.80,278.26" fill="#ff7a3a"/>
<polygon points="409.90,288.88 411.60,291.09 409.90,293.30 408.20,291.09" fill="#ff7a3a"/>
<polygon points="415.10,290.59 416.80,292.80 415.10,295.01 413.40,292.80" fill="#ff7a3a"/>
<polygon points="410.10,293.16 411.80,295.37 410.10,297.57 408.40,295.37" fill="#ff7a3a"/>
<polygon points="414.90,295.72 416.60,297.93 414.90,300.14 413.20,297.93" fill="#ff7a3a"/>
<line x1="407.50" y1="292.37" x2="417.50" y2="292.37" stroke="#111" stroke-width="1.3"/>
<line x1="425.10" y1="298.78" x2="425.10" y2="304.77" stroke="#2424ee" stroke-width="0.8"/>
<line x1="422.90" y1="298.78" x2="427.30" y2="298.78" stroke="#2424ee" stroke-width="0.8"/>
<line x1="422.90" y1="304.77" x2="427.30" y2="304.77" stroke="#2424ee" stroke-width="0.8"/>
<circle cx="425.10" cy="295.37" r="1.70" fill="#2424ee" stroke="none" stroke-width="0"/>
<circle cx="422.50" cy="296.22" r="1.70" fill="#2424ee" stroke="none" stroke-width="0"/>
<circle cx="427.70" cy="303.06" r="1.70" fill="#2424ee" stroke="none" stroke-width="0"/>
<circle cx="422.70" cy="309.90" r="1.70" fill="#2424ee" stroke="none" stroke-width="0"/>
<circle cx="427.50" cy="310.75" r="1.70" fill="#2424ee" stroke="none" stroke-width="0"/>
<line x1="420.10" y1="301.78" x2="430.10" y2="301.78" stroke="#111" stroke-width="1.3"/>
<line x1="437.70" y1="288.10" x2="437.70" y2="295.79" stroke="#d0742a" stroke-width="0.8"/>
<line x1="435.50" y1="288.10" x2="439.90" y2="288.10" stroke="#d0742a" stroke-width="0.8"/>
<line x1="435.50" y1="295.79" x2="439.90" y2="295.79" stroke="#d0742a" stroke-width="0.8"/>
<rect x="436.00" y="274.00" width="3.40" height="3.40" fill="#d0742a"/>
<rect x="433.40" y="287.68" width="3.40" height="3.40" fill="#d0742a"/>
<rect x="438.60" y="289.39" width="3.40" height="3.40" fill="#d0742a"/>
<rect x="433.60" y="292.81" width="3.40" height="3.40" fill="#d0742a"/>
<rect x="438.40" y="298.80" width="3.40" height="3.40" fill="#d0742a"/>
<line x1="432.70" y1="291.94" x2="442.70" y2="291.94" stroke="#111" stroke-width="1.3"/>
<line x1="449.50" y1="303.49" x2="449.50" y2="311.18" stroke="#8c8a2a" stroke-width="0.8"/>
<line x1="447.30" y1="303.49" x2="451.70" y2="303.49" stroke="#8c8a2a" stroke-width="0.8"/>
<line x1="447.30" y1="311.18" x2="451.70" y2="311.18" stroke="#8c8a2a" stroke-width="0.8"/>
<polygon points="449.50,295.89 451.37,299.29 447.63,299.29" fill="#8c8a2a"/>
<polygon points="447.30,307.00 449.17,310.41 445.43,310.41" fill="#8c8a2a"/>
<polygon points="451.70,311.28 453.57,314.68 449.83,314.68" fill="#8c8a2a"/>
<line x1="444.50" y1="307.33" x2="454.50" y2="307.33" stroke="#111" stroke-width="1.3"/>
<line x1="461.90" y1="278.69" x2="461.90" y2="284.68" stroke="#8a2ad0" stroke-width="0.8"/>
<line x1="459.70" y1="278.69" x2="464.10" y2="278.69" stroke="#8a2ad0" stroke-width="0.8"/>
<line x1="459.70" y1="284.68" x2="464.10" y2="284.68" stroke="#8a2ad0" stroke-width="0.8"/>
<polygon points="461.90,277.74 463.77,274.34 460.03,274.34" fill="#8a2ad0"/>
<polygon points="459.30,279.45 461.17,276.05 457.43,276.05" fill="#8a2ad0"/>
<polygon points="464.50,282.02 466.37,278.62 462.63,278.62" fill="#8a2ad0"/>
<polygon points="459.50,287.15 461.37,283.75 457.63,283.75" fill="#8a2ad0"/>
<polygon points="464.30,297.41 466.17,294.00 462.43,294.00" fill="#8a2ad0"/>
<line x1="456.90" y1="281.69" x2="466.90" y2="281.69" stroke="#111" stroke-width="1.3"/>
<line x1="474.50" y1="271.85" x2="474.50" y2="276.98" stroke="#b02a6a" stroke-width="0.8"/>
<line x1="472.30" y1="271.85" x2="476.70" y2="271.85" stroke="#b02a6a" stroke-width="0.8"/>
<line x1="472.30" y1="276.98" x2="476.70" y2="276.98" stroke="#b02a6a" stroke-width="0.8"/>
<polygon points="474.50,261.52 476.20,263.73 474.50,265.94 472.80,263.73" fill="#b02a6a"/>
<polygon points="471.90,271.78 473.60,273.99 471.90,276.20 470.20,273.99" fill="#b02a6a"/>
<polygon points="477.10,273.49 478.80,275.70 477.10,277.91 475.40,275.70" fill="#b02a6a"/>
<polygon points="472.10,275.20 473.80,277.41 472.10,279.62 470.40,277.41" fill="#b02a6a"/>
<polygon points="476.90,276.91 478.60,279.12 476.90,281.33 475.20,279.12" fill="#b02a6a"/>
<line x1="469.50" y1="274.42" x2="479.50" y2="274.42" stroke="#111" stroke-width="1.3"/>
<line x1="376.50" y1="235.50" x2="448.00" y2="235.50" stroke="#111" stroke-width="1.1"/>
<text x="412.25" y="238.10" font-size="14" fill="#1a1a1a" text-anchor="middle" font-weight="bold" letter-spacing="0.4" stroke="#111" stroke-width="0.05">*</text>
<line x1="376.50" y1="244.50" x2="424.60" y2="244.50" stroke="#111" stroke-width="1.1"/>
<text x="400.55" y="247.10" font-size="14" fill="#1a1a1a" text-anchor="middle" font-weight="bold" letter-spacing="0.4" stroke="#111" stroke-width="0.05">*</text>
<line x1="363.40" y1="254.50" x2="435.60" y2="254.50" stroke="#111" stroke-width="1.1"/>
<text x="399.50" y="257.10" font-size="14" fill="#1a1a1a" text-anchor="middle" font-weight="bold" letter-spacing="0.4" stroke="#111" stroke-width="0.05">*</text>
<line x1="363.40" y1="262.50" x2="377.80" y2="262.50" stroke="#111" stroke-width="1.1"/>
<text x="370.60" y="265.10" font-size="14" fill="#1a1a1a" text-anchor="middle" font-weight="bold" letter-spacing="0.4" stroke="#111" stroke-width="0.05">*</text>
<line x1="437.40" y1="261.50" x2="449.30" y2="261.50" stroke="#111" stroke-width="1.1"/>
<text x="443.35" y="264.10" font-size="14" fill="#1a1a1a" text-anchor="middle" font-weight="bold" letter-spacing="0.4" stroke="#111" stroke-width="0.05">*</text>
<line x1="450.00" y1="253.50" x2="473.70" y2="253.50" stroke="#111" stroke-width="1.1"/>
<text x="461.85" y="256.10" font-size="14" fill="#1a1a1a" text-anchor="middle" font-weight="bold" letter-spacing="0.4" stroke="#111" stroke-width="0.05">***</text>
<line x1="400.10" y1="270.50" x2="450.80" y2="270.50" stroke="#111" stroke-width="1.1"/>
<text x="425.45" y="273.10" font-size="14" fill="#1a1a1a" text-anchor="middle" font-weight="bold" letter-spacing="0.4" stroke="#111" stroke-width="0.05">*</text>
<text x="485.80" y="190.00" font-size="12.8" fill="#1a1a1a" stroke="#1a1a1a" stroke-width="0.3" text-anchor="start" font-weight="bold">(D)</text>
<text x="597.00" y="207.60" font-size="9.3" fill="#1a1a1a" stroke="#1a1a1a" stroke-width="0.3" text-anchor="middle" font-weight="bold">Correlation of</text>
<text x="597" y="220" font-size="9.3" font-weight="bold" fill="#1a1a1a" text-anchor="middle" stroke="#1a1a1a" stroke-width="0.3">CD11b<tspan dy="-3.35" font-size="6.70">+</tspan><tspan dy="3.35"> B cells with CD8<tspan dy="-3.35" font-size="6.70">+</tspan><tspan dy="3.35"> Tc cells</tspan></tspan></text>
<line x1="538.00" y1="228.60" x2="538.00" y2="327.60" stroke="#1a1a1a" stroke-width="1.2"/>
<line x1="537.40" y1="327.00" x2="656.50" y2="327.00" stroke="#1a1a1a" stroke-width="1.2"/>
<line x1="535.00" y1="327.00" x2="538.00" y2="327.00" stroke="#1a1a1a" stroke-width="1.0"/>
<text x="534.00" y="330.20" font-size="8.8" fill="#1a1a1a" stroke="#1a1a1a" stroke-width="0.3" text-anchor="end" font-weight="bold">0</text>
<line x1="535.00" y1="302.40" x2="538.00" y2="302.40" stroke="#1a1a1a" stroke-width="1.0"/>
<text x="534.00" y="305.60" font-size="8.8" fill="#1a1a1a" stroke="#1a1a1a" stroke-width="0.3" text-anchor="end" font-weight="bold">2</text>
<line x1="535.00" y1="277.80" x2="538.00" y2="277.80" stroke="#1a1a1a" stroke-width="1.0"/>
<text x="534.00" y="281.00" font-size="8.8" fill="#1a1a1a" stroke="#1a1a1a" stroke-width="0.3" text-anchor="end" font-weight="bold">4</text>
<line x1="535.00" y1="253.20" x2="538.00" y2="253.20" stroke="#1a1a1a" stroke-width="1.0"/>
<text x="534.00" y="256.40" font-size="8.8" fill="#1a1a1a" stroke="#1a1a1a" stroke-width="0.3" text-anchor="end" font-weight="bold">6</text>
<line x1="535.00" y1="228.60" x2="538.00" y2="228.60" stroke="#1a1a1a" stroke-width="1.0"/>
<text x="534.00" y="231.80" font-size="8.8" fill="#1a1a1a" stroke="#1a1a1a" stroke-width="0.3" text-anchor="end" font-weight="bold">8</text>
<line x1="538.00" y1="327.00" x2="538.00" y2="330.00" stroke="#1a1a1a" stroke-width="1.0"/>
<text x="538.00" y="339.70" font-size="8.8" fill="#1a1a1a" stroke="#1a1a1a" stroke-width="0.3" text-anchor="middle" font-weight="bold">0</text>
<line x1="577.50" y1="327.00" x2="577.50" y2="330.00" stroke="#1a1a1a" stroke-width="1.0"/>
<text x="577.50" y="339.70" font-size="8.8" fill="#1a1a1a" stroke="#1a1a1a" stroke-width="0.3" text-anchor="middle" font-weight="bold">5</text>
<line x1="617.00" y1="327.00" x2="617.00" y2="330.00" stroke="#1a1a1a" stroke-width="1.0"/>
<text x="617.00" y="339.70" font-size="8.8" fill="#1a1a1a" stroke="#1a1a1a" stroke-width="0.3" text-anchor="middle" font-weight="bold">10</text>
<line x1="656.50" y1="327.00" x2="656.50" y2="330.00" stroke="#1a1a1a" stroke-width="1.0"/>
<text x="656.50" y="339.70" font-size="8.8" fill="#1a1a1a" stroke="#1a1a1a" stroke-width="0.3" text-anchor="middle" font-weight="bold">15</text>
<circle cx="538.60" cy="276.00" r="1.55" fill="#111" stroke="none" stroke-width="0"/>
<circle cx="543.60" cy="247.40" r="1.55" fill="#111" stroke="none" stroke-width="0"/>
<circle cx="542.60" cy="255.00" r="1.55" fill="#111" stroke="none" stroke-width="0"/>
<circle cx="545.60" cy="252.40" r="1.55" fill="#111" stroke="none" stroke-width="0"/>
<circle cx="549.00" cy="252.00" r="1.55" fill="#111" stroke="none" stroke-width="0"/>
<circle cx="551.60" cy="235.00" r="1.55" fill="#111" stroke="none" stroke-width="0"/>
<circle cx="554.00" cy="242.40" r="1.55" fill="#111" stroke="none" stroke-width="0"/>
<circle cx="550.40" cy="256.00" r="1.55" fill="#111" stroke="none" stroke-width="0"/>
<circle cx="552.00" cy="256.60" r="1.55" fill="#111" stroke="none" stroke-width="0"/>
<circle cx="553.00" cy="257.40" r="1.55" fill="#111" stroke="none" stroke-width="0"/>
<circle cx="555.00" cy="256.40" r="1.55" fill="#111" stroke="none" stroke-width="0"/>
<circle cx="560.00" cy="250.00" r="1.55" fill="#111" stroke="none" stroke-width="0"/>
<circle cx="559.60" cy="258.00" r="1.55" fill="#111" stroke="none" stroke-width="0"/>
<circle cx="562.00" cy="254.00" r="1.55" fill="#111" stroke="none" stroke-width="0"/>
<circle cx="569.60" cy="250.00" r="1.55" fill="#111" stroke="none" stroke-width="0"/>
<circle cx="573.00" cy="260.40" r="1.55" fill="#111" stroke="none" stroke-width="0"/>
<circle cx="577.40" cy="255.60" r="1.55" fill="#111" stroke="none" stroke-width="0"/>
<circle cx="565.00" cy="272.00" r="1.55" fill="#111" stroke="none" stroke-width="0"/>
<circle cx="544.00" cy="268.00" r="1.55" fill="#111" stroke="none" stroke-width="0"/>
<circle cx="545.00" cy="270.00" r="1.55" fill="#111" stroke="none" stroke-width="0"/>
<circle cx="545.60" cy="271.00" r="1.55" fill="#111" stroke="none" stroke-width="0"/>
<circle cx="547.00" cy="262.00" r="1.55" fill="#111" stroke="none" stroke-width="0"/>
<circle cx="548.00" cy="263.00" r="1.55" fill="#111" stroke="none" stroke-width="0"/>
<circle cx="551.40" cy="273.00" r="1.55" fill="#111" stroke="none" stroke-width="0"/>
<circle cx="553.40" cy="279.00" r="1.55" fill="#111" stroke="none" stroke-width="0"/>
<circle cx="554.40" cy="277.60" r="1.55" fill="#111" stroke="none" stroke-width="0"/>
<circle cx="552.40" cy="283.00" r="1.55" fill="#111" stroke="none" stroke-width="0"/>
<circle cx="547.00" cy="282.00" r="1.55" fill="#111" stroke="none" stroke-width="0"/>
<circle cx="549.00" cy="288.00" r="1.55" fill="#111" stroke="none" stroke-width="0"/>
<circle cx="558.40" cy="289.60" r="1.55" fill="#111" stroke="none" stroke-width="0"/>
<circle cx="569.40" cy="303.00" r="1.55" fill="#111" stroke="none" stroke-width="0"/>
<circle cx="576.60" cy="269.00" r="1.55" fill="#111" stroke="none" stroke-width="0"/>
<circle cx="578.00" cy="277.60" r="1.55" fill="#111" stroke="none" stroke-width="0"/>
<circle cx="582.00" cy="281.40" r="1.55" fill="#111" stroke="none" stroke-width="0"/>
<circle cx="585.00" cy="271.60" r="1.55" fill="#111" stroke="none" stroke-width="0"/>
<circle cx="586.60" cy="279.00" r="1.55" fill="#111" stroke="none" stroke-width="0"/>
<circle cx="588.40" cy="282.00" r="1.55" fill="#111" stroke="none" stroke-width="0"/>
<circle cx="595.00" cy="281.00" r="1.55" fill="#111" stroke="none" stroke-width="0"/>
<circle cx="593.60" cy="287.60" r="1.55" fill="#111" stroke="none" stroke-width="0"/>
<circle cx="594.60" cy="300.40" r="1.55" fill="#111" stroke="none" stroke-width="0"/>
<circle cx="621.60" cy="301.40" r="1.55" fill="#111" stroke="none" stroke-width="0"/>
<circle cx="627.60" cy="285.40" r="1.55" fill="#111" stroke="none" stroke-width="0"/>
<circle cx="645.00" cy="308.00" r="1.55" fill="#111" stroke="none" stroke-width="0"/>
<line x1="538.00" y1="258.00" x2="645.00" y2="303.00" stroke="#f02828" stroke-width="1.5"/>
<text x="592.50" y="236.00" font-size="8.6" fill="#f0282d" stroke="#f0282d" stroke-width="0.3" text-anchor="start" font-weight="bold">Spearman r=-0.450</text>
<text x="674.00" y="245.50" font-size="8.6" fill="#f0282d" stroke="#f0282d" stroke-width="0.3" text-anchor="end" font-weight="bold">p=0.0013</text>
<text x="597.5" y="353" font-size="9.3" font-weight="bold" fill="#1a1a1a" text-anchor="middle" stroke="#1a1a1a" stroke-width="0.3">CD8<tspan dy="-3.35" font-size="6.70">+</tspan><tspan dy="3.35">CD3<tspan dy="-3.35" font-size="6.70">+</tspan><tspan dy="3.35"> Tc cells%</tspan></tspan></text>
<text x="519" y="277" font-size="9.3" font-weight="bold" fill="#1a1a1a" text-anchor="middle" dy="3.3" transform="rotate(-90 519 277)" stroke="#1a1a1a" stroke-width="0.3">CD11b<tspan dy="-3.35" font-size="6.70">+</tspan><tspan dy="3.35">CD19<tspan dy="-3.35" font-size="6.70">+</tspan><tspan dy="3.35"> B cells%</tspan></tspan></text>
<text x="0.00" y="392.40" font-size="12.8" fill="#1a1a1a" stroke="#1a1a1a" stroke-width="0.3" text-anchor="start" font-weight="bold">(E)</text>
<text x="10.4" y="431" font-size="12" font-weight="bold" fill="#1a1a1a" stroke="#1a1a1a" stroke-width="0.3">B16F10 NRAS<tspan dy="-4.4" font-size="8.2">WT</tspan><tspan dy="4.4">BRAF</tspan><tspan dy="-4.4" font-size="8.2">WT</tspan><tspan dy="4.4"> melanoma</tspan></text>
<g transform="translate(-5.5,410.5)">
<path d="M7.55,79.2 C10,75 16,68.5 21.5,67.4 L31,67.6 C34,68.2 36,68.8 38,69.4 C44,71 49,76.5 49.6,86 C50,92 49.2,96.5 46,97.9 L22.2,98 C20.6,98 20.5,96.4 22,96.2 L25,95.6 C24,94 23.7,92.2 24.1,90.6 C22,91 20.2,90.3 18.6,89.6 C16.4,89.8 14.6,88.8 15.1,87.6 C15.8,86.6 17.8,86.6 19.4,85.6 C20.4,84.8 20.6,83.4 20.1,82.3 C16,82.1 11.2,81.9 8.6,81.3 C7.5,81 7.2,79.9 7.55,79.2 Z" fill="#3f3f3f"/>
<circle cx="26.50" cy="65.40" r="4.50" fill="#3f3f3f" stroke="none" stroke-width="0"/>
<circle cx="15.90" cy="75.20" r="1.25" fill="#ffffff" stroke="none" stroke-width="0"/>
<path d="M28.4,84.8 C28.2,87.6 26.6,89.6 23.9,90.4" stroke="#fff" stroke-width="1.0" fill="none"/>
<path d="M48.6,94 C50.6,97 50.2,100.8 44,101.4 C36,102.1 22,101.6 13.2,99.9 C12.2,99.6 12.3,98.8 13.3,98.9 C22,99.6 36,100.2 43.3,99.7 C47.8,99.3 48.3,97.5 47.4,95 Z" fill="#3f3f3f"/>
<g transform="translate(-1.6,3.6) rotate(24 48.6 72.5)"><rect x="47.4" y="60" width="2.4" height="19.5" fill="#e6e6e6" stroke="#b0b0b0" stroke-width="0.35"/><rect x="47.55" y="72.5" width="2.1" height="7" fill="#9fd3e3"/><rect x="47.55" y="78.5" width="2.1" height="1.2" fill="#4fb0a0"/><line x1="48.6" y1="57.8" x2="48.6" y2="60" stroke="#b8b8b8" stroke-width="0.7"/><line x1="46.6" y1="57.8" x2="50.6" y2="57.8" stroke="#b8b8b8" stroke-width="0.7"/><line x1="48.6" y1="79.5" x2="48.6" y2="84.5" stroke="#6a8a88" stroke-width="0.45"/></g>
<line x1="51.20" y1="77.60" x2="61.45" y2="69.83" stroke="#1a1a1a" stroke-width="1.1"/>
<polygon points="64.40,67.60 62.44,71.97 59.66,68.30" fill="#1a1a1a"/>
<line x1="51.60" y1="84.00" x2="61.48" y2="91.72" stroke="#1a1a1a" stroke-width="1.1"/>
<polygon points="64.40,94.00 59.67,93.23 62.51,89.60" fill="#1a1a1a"/>
</g>
<text x="61.60" y="482.00" font-size="8.7" fill="#1a1a1a" stroke="#1a1a1a" stroke-width="0.3" text-anchor="start" font-weight="bold">CD40-Ctrl</text>
<text x="63.60" y="512.00" font-size="8.7" fill="#1a1a1a" stroke="#1a1a1a" stroke-width="0.3" text-anchor="start" font-weight="bold">CD40-OE</text>
<polyline points="106.40,461.00 103.20,461.00 103.20,523.40 106.40,523.40" fill="none" stroke="#1a1a1a" stroke-width="0.9" stroke-linejoin="round"/>
<text x="110.60" y="467.40" font-size="8.65" fill="#1a1a1a" stroke="#1a1a1a" stroke-width="0.3" text-anchor="start" font-weight="bold">Veh + IgG</text>
<text x="110.60" y="481.60" font-size="8.65" fill="#a43cf0" stroke="#a43cf0" stroke-width="0.3" text-anchor="start" font-weight="bold">CD40 agonist (aCD40)</text>
<text x="110.60" y="495.60" font-size="8.65" fill="#8a8a8a" stroke="#8a8a8a" stroke-width="0.3" text-anchor="start" font-weight="bold">Anti-PD1</text>
<text x="110.60" y="509.60" font-size="8.65" fill="#2f2fe6" stroke="#2f2fe6" stroke-width="0.3" text-anchor="start" font-weight="bold">aCD40 + anti-PD1</text>
<text x="110.60" y="523.60" font-size="8.65" fill="#f0282d" stroke="#f0282d" stroke-width="0.3" text-anchor="start" font-weight="bold">Rigosertib (RGS)</text>
<line x1="21.00" y1="533.00" x2="95.30" y2="533.00" stroke="#1a1a1a" stroke-width="0.8"/>
<polygon points="98.00,533.00 94.80,534.40 94.80,531.60" fill="#1a1a1a"/>
<line x1="102.00" y1="532.60" x2="184.30" y2="532.60" stroke="#1a1a1a" stroke-width="0.8"/>
<polygon points="187.00,532.60 183.80,534.00 183.80,531.20" fill="#1a1a1a"/>
<text x="23.00" y="546.00" font-size="8.4" fill="#1a1a1a" stroke="#1a1a1a" stroke-width="0.3" text-anchor="start" font-weight="bold">Day 1</text>
<text x="91.50" y="546.00" font-size="8.4" fill="#1a1a1a" stroke="#1a1a1a" stroke-width="0.3" text-anchor="middle" font-weight="bold">7</text>
<text x="186.00" y="548.00" font-size="8.6" fill="#1a1a1a" stroke="#1a1a1a" stroke-width="0.3" text-anchor="end" font-weight="bold">up to 3 weeks</text>
<text x="186.00" y="558.80" font-size="8.6" fill="#1a1a1a" stroke="#1a1a1a" stroke-width="0.3" text-anchor="end" font-weight="bold">of treatment</text>
<line x1="258.40" y1="425.00" x2="258.40" y2="552.90" stroke="#333" stroke-width="1.0"/>
<line x1="255.90" y1="547.00" x2="258.40" y2="547.00" stroke="#333" stroke-width="1.0"/>
<text x="254.80" y="550.30" font-size="9.2" fill="#1a1a1a" stroke="#1a1a1a" stroke-width="0.3" text-anchor="end" font-weight="bold">0</text>
<line x1="255.90" y1="522.72" x2="258.40" y2="522.72" stroke="#333" stroke-width="1.0"/>
<text x="254.80" y="526.02" font-size="9.2" fill="#1a1a1a" stroke="#1a1a1a" stroke-width="0.3" text-anchor="end" font-weight="bold">500</text>
<line x1="255.90" y1="498.44" x2="258.40" y2="498.44" stroke="#333" stroke-width="1.0"/>
<text x="254.80" y="501.74" font-size="9.2" fill="#1a1a1a" stroke="#1a1a1a" stroke-width="0.3" text-anchor="end" font-weight="bold">1000</text>
<line x1="255.90" y1="474.16" x2="258.40" y2="474.16" stroke="#333" stroke-width="1.0"/>
<text x="254.80" y="477.46" font-size="9.2" fill="#1a1a1a" stroke="#1a1a1a" stroke-width="0.3" text-anchor="end" font-weight="bold">1500</text>
<line x1="255.90" y1="449.88" x2="258.40" y2="449.88" stroke="#333" stroke-width="1.0"/>
<text x="254.80" y="453.18" font-size="9.2" fill="#1a1a1a" stroke="#1a1a1a" stroke-width="0.3" text-anchor="end" font-weight="bold">2000</text>
<line x1="255.90" y1="425.60" x2="258.40" y2="425.60" stroke="#333" stroke-width="1.0"/>
<text x="254.80" y="428.90" font-size="9.2" fill="#1a1a1a" stroke="#1a1a1a" stroke-width="0.3" text-anchor="end" font-weight="bold">2500</text>
<line x1="258.40" y1="552.40" x2="371.00" y2="552.40" stroke="#333333" stroke-width="1.0"/>
<line x1="265.50" y1="552.40" x2="265.50" y2="554.90" stroke="#333333" stroke-width="1.0"/>
<text x="266.00" y="562.80" font-size="9.2" fill="#1a1a1a" stroke="#1a1a1a" stroke-width="0.3" text-anchor="middle" font-weight="bold">1</text>
<line x1="279.50" y1="552.40" x2="279.50" y2="554.90" stroke="#333333" stroke-width="1.0"/>
<text x="279.50" y="562.80" font-size="9.2" fill="#1a1a1a" stroke="#1a1a1a" stroke-width="0.3" text-anchor="middle" font-weight="bold">4</text>
<line x1="294.20" y1="552.40" x2="294.20" y2="554.90" stroke="#333333" stroke-width="1.0"/>
<text x="294.00" y="562.80" font-size="9.2" fill="#1a1a1a" stroke="#1a1a1a" stroke-width="0.3" text-anchor="middle" font-weight="bold">7</text>
<line x1="312.80" y1="552.40" x2="312.80" y2="554.90" stroke="#333333" stroke-width="1.0"/>
<text x="313.10" y="562.80" font-size="9.2" fill="#1a1a1a" stroke="#1a1a1a" stroke-width="0.3" text-anchor="middle" font-weight="bold">11</text>
<line x1="328.30" y1="552.40" x2="328.30" y2="554.90" stroke="#333333" stroke-width="1.0"/>
<text x="329.40" y="562.80" font-size="9.2" fill="#1a1a1a" stroke="#1a1a1a" stroke-width="0.3" text-anchor="middle" font-weight="bold">14</text>
<line x1="346.00" y1="552.40" x2="346.00" y2="554.90" stroke="#333333" stroke-width="1.0"/>
<text x="347.00" y="562.80" font-size="9.2" fill="#1a1a1a" stroke="#1a1a1a" stroke-width="0.3" text-anchor="middle" font-weight="bold">18</text>
<rect x="282.00" y="414.40" width="53.00" height="13.20" fill="#ffffff" stroke="#444" stroke-width="0.9"/>
<text x="308.50" y="424.50" font-size="9.6" fill="#1a1a1a" stroke="#1a1a1a" stroke-width="0.3" text-anchor="middle" font-weight="bold">CD40-Ctrl</text>
<line x1="312.80" y1="535.83" x2="312.80" y2="537.77" stroke="#8a8a8a" stroke-width="1.0"/>
<line x1="328.30" y1="529.03" x2="328.30" y2="532.92" stroke="#8a8a8a" stroke-width="1.0"/>
<line x1="346.00" y1="512.52" x2="346.00" y2="524.18" stroke="#8a8a8a" stroke-width="1.0"/>
<polyline points="265.50,544.57 279.50,543.12 294.20,541.17 312.80,536.80 328.30,530.98 346.00,518.35" fill="none" stroke="#8a8a8a" stroke-width="1.4" stroke-linejoin="round"/>
<polygon points="265.50,543.01 266.93,545.61 264.07,545.61" fill="#8a8a8a"/>
<polygon points="279.50,541.56 280.93,544.16 278.07,544.16" fill="#8a8a8a"/>
<polygon points="294.20,539.61 295.63,542.21 292.77,542.21" fill="#8a8a8a"/>
<polygon points="312.80,535.24 314.23,537.84 311.37,537.84" fill="#8a8a8a"/>
<polygon points="328.30,529.42 329.73,532.02 326.87,532.02" fill="#8a8a8a"/>
<polygon points="346.00,516.79 347.43,519.39 344.57,519.39" fill="#8a8a8a"/>
<line x1="312.80" y1="536.32" x2="312.80" y2="538.26" stroke="#a43cf0" stroke-width="1.0"/>
<line x1="328.30" y1="530.00" x2="328.30" y2="533.89" stroke="#a43cf0" stroke-width="1.0"/>
<line x1="346.00" y1="514.46" x2="346.00" y2="525.15" stroke="#a43cf0" stroke-width="1.0"/>
<polyline points="265.50,544.81 279.50,543.36 294.20,541.66 312.80,537.29 328.30,531.95 346.00,519.81" fill="none" stroke="#a43cf0" stroke-width="1.4" stroke-linejoin="round"/>
<polygon points="265.50,543.12 266.80,544.81 265.50,546.50 264.20,544.81" fill="#a43cf0"/>
<polygon points="279.50,541.67 280.80,543.36 279.50,545.05 278.20,543.36" fill="#a43cf0"/>
<polygon points="294.20,539.97 295.50,541.66 294.20,543.35 292.90,541.66" fill="#a43cf0"/>
<polygon points="312.80,535.60 314.10,537.29 312.80,538.98 311.50,537.29" fill="#a43cf0"/>
<polygon points="328.30,530.26 329.60,531.95 328.30,533.64 327.00,531.95" fill="#a43cf0"/>
<polygon points="346.00,518.12 347.30,519.81 346.00,521.50 344.70,519.81" fill="#a43cf0"/>
<line x1="312.80" y1="538.02" x2="312.80" y2="539.47" stroke="#f0282d" stroke-width="1.0"/>
<line x1="328.30" y1="533.65" x2="328.30" y2="536.07" stroke="#f0282d" stroke-width="1.0"/>
<line x1="346.00" y1="525.15" x2="346.00" y2="530.98" stroke="#f0282d" stroke-width="1.0"/>
<polyline points="265.50,544.81 279.50,543.60 294.20,542.14 312.80,538.74 328.30,534.86 346.00,528.06" fill="none" stroke="#f0282d" stroke-width="1.2" stroke-linejoin="round"/>
<circle cx="265.50" cy="544.81" r="1.50" fill="#fff" stroke="#f0282d" stroke-width="0.9"/>
<circle cx="279.50" cy="543.60" r="1.50" fill="#fff" stroke="#f0282d" stroke-width="0.9"/>
<circle cx="294.20" cy="542.14" r="1.50" fill="#fff" stroke="#f0282d" stroke-width="0.9"/>
<circle cx="312.80" cy="538.74" r="1.50" fill="#fff" stroke="#f0282d" stroke-width="0.9"/>
<circle cx="328.30" cy="534.86" r="1.50" fill="#fff" stroke="#f0282d" stroke-width="0.9"/>
<circle cx="346.00" cy="528.06" r="1.50" fill="#fff" stroke="#f0282d" stroke-width="0.9"/>
<line x1="312.80" y1="539.72" x2="312.80" y2="540.69" stroke="#2f2fe6" stroke-width="1.0"/>
<line x1="328.30" y1="536.32" x2="328.30" y2="538.26" stroke="#2f2fe6" stroke-width="1.0"/>
<line x1="346.00" y1="529.03" x2="346.00" y2="532.92" stroke="#2f2fe6" stroke-width="1.0"/>
<polyline points="265.50,545.06 279.50,544.09 294.20,542.63 312.80,540.20 328.30,537.29 346.00,530.98" fill="none" stroke="#2f2fe6" stroke-width="1.1" stroke-linejoin="round"/>
<circle cx="265.50" cy="545.06" r="1.00" fill="#2f2fe6" stroke="none" stroke-width="0"/>
<circle cx="279.50" cy="544.09" r="1.00" fill="#2f2fe6" stroke="none" stroke-width="0"/>
<circle cx="294.20" cy="542.63" r="1.00" fill="#2f2fe6" stroke="none" stroke-width="0"/>
<circle cx="312.80" cy="540.20" r="1.00" fill="#2f2fe6" stroke="none" stroke-width="0"/>
<circle cx="328.30" cy="537.29" r="1.00" fill="#2f2fe6" stroke="none" stroke-width="0"/>
<circle cx="346.00" cy="530.98" r="1.00" fill="#2f2fe6" stroke="none" stroke-width="0"/>
<line x1="265.50" y1="543.60" x2="265.50" y2="544.57" stroke="#1a1a1a" stroke-width="1.0"/>
<line x1="279.50" y1="541.42" x2="279.50" y2="542.87" stroke="#1a1a1a" stroke-width="1.0"/>
<line x1="294.20" y1="536.07" x2="294.20" y2="538.50" stroke="#1a1a1a" stroke-width="1.0"/>
<line x1="312.80" y1="522.23" x2="312.80" y2="528.06" stroke="#1a1a1a" stroke-width="1.0"/>
<line x1="328.30" y1="498.44" x2="328.30" y2="513.98" stroke="#1a1a1a" stroke-width="1.0"/>
<line x1="346.00" y1="430.94" x2="346.00" y2="473.67" stroke="#1a1a1a" stroke-width="1.0"/>
<polyline points="265.50,544.09 279.50,542.14 294.20,537.29 312.80,525.15 328.30,506.21 346.00,452.31" fill="none" stroke="#1a1a1a" stroke-width="1.1" stroke-linejoin="round"/>
<circle cx="265.50" cy="544.09" r="1.60" fill="#1a1a1a" stroke="none" stroke-width="0"/>
<circle cx="279.50" cy="542.14" r="1.60" fill="#1a1a1a" stroke="none" stroke-width="0"/>
<circle cx="294.20" cy="537.29" r="1.60" fill="#1a1a1a" stroke="none" stroke-width="0"/>
<circle cx="312.80" cy="525.15" r="1.60" fill="#1a1a1a" stroke="none" stroke-width="0"/>
<circle cx="328.30" cy="506.21" r="1.60" fill="#1a1a1a" stroke="none" stroke-width="0"/>
<circle cx="346.00" cy="452.31" r="1.60" fill="#1a1a1a" stroke="none" stroke-width="0"/>
<polyline points="347.20,452.00 349.00,452.00 349.00,519.00 347.20,519.00" fill="none" stroke="#4a4a4a" stroke-width="0.9" stroke-linejoin="round"/>
<path d="M351.07,484.30L353.76,484.30M351.74,483.14L353.08,485.46M353.08,483.14L351.74,485.46" stroke="#333" stroke-width="1.0" fill="none"/>
<polyline points="353.60,452.00 355.40,452.00 355.40,530.00 353.60,530.00" fill="none" stroke="#4a4a4a" stroke-width="0.9" stroke-linejoin="round"/>
<path d="M357.47,494.23L360.16,494.23M358.14,493.06L359.48,495.39M359.48,493.06L358.14,495.39" stroke="#333" stroke-width="1.0" fill="none"/>
<path d="M357.47,497.17L360.16,497.17M358.14,496.01L359.48,498.34M359.48,496.01L358.14,498.34" stroke="#333" stroke-width="1.0" fill="none"/>
<polyline points="361.20,452.00 363.00,452.00 363.00,528.00 361.20,528.00" fill="none" stroke="#4a4a4a" stroke-width="0.9" stroke-linejoin="round"/>
<path d="M365.07,482.66L367.76,482.66M365.74,481.49L367.08,483.82M367.08,481.49L365.74,483.82" stroke="#333" stroke-width="1.0" fill="none"/>
<path d="M365.07,485.60L367.76,485.60M365.74,484.44L367.08,486.76M367.08,484.44L365.74,486.76" stroke="#333" stroke-width="1.0" fill="none"/>
<path d="M365.07,488.54L367.76,488.54M365.74,487.38L367.08,489.71M367.08,487.38L365.74,489.71" stroke="#333" stroke-width="1.0" fill="none"/>
<line x1="374.40" y1="552.40" x2="486.00" y2="552.40" stroke="#333333" stroke-width="1.0"/>
<line x1="381.00" y1="552.40" x2="381.00" y2="554.90" stroke="#333333" stroke-width="1.0"/>
<text x="382.30" y="562.80" font-size="9.2" fill="#1a1a1a" stroke="#1a1a1a" stroke-width="0.3" text-anchor="middle" font-weight="bold">1</text>
<line x1="395.00" y1="552.40" x2="395.00" y2="554.90" stroke="#333333" stroke-width="1.0"/>
<text x="395.40" y="562.80" font-size="9.2" fill="#1a1a1a" stroke="#1a1a1a" stroke-width="0.3" text-anchor="middle" font-weight="bold">4</text>
<line x1="410.00" y1="552.40" x2="410.00" y2="554.90" stroke="#333333" stroke-width="1.0"/>
<text x="411.20" y="562.80" font-size="9.2" fill="#1a1a1a" stroke="#1a1a1a" stroke-width="0.3" text-anchor="middle" font-weight="bold">7</text>
<line x1="428.40" y1="552.40" x2="428.40" y2="554.90" stroke="#333333" stroke-width="1.0"/>
<text x="431.30" y="562.80" font-size="9.2" fill="#1a1a1a" stroke="#1a1a1a" stroke-width="0.3" text-anchor="middle" font-weight="bold">11</text>
<line x1="443.60" y1="552.40" x2="443.60" y2="554.90" stroke="#333333" stroke-width="1.0"/>
<text x="447.00" y="562.80" font-size="9.2" fill="#1a1a1a" stroke="#1a1a1a" stroke-width="0.3" text-anchor="middle" font-weight="bold">14</text>
<line x1="462.00" y1="552.40" x2="462.00" y2="554.90" stroke="#333333" stroke-width="1.0"/>
<text x="464.60" y="562.80" font-size="9.2" fill="#1a1a1a" stroke="#1a1a1a" stroke-width="0.3" text-anchor="middle" font-weight="bold">18</text>
<rect x="397.60" y="414.40" width="52.00" height="13.20" fill="#ffffff" stroke="#444" stroke-width="0.9"/>
<text x="423.60" y="424.50" font-size="9.6" fill="#1a1a1a" stroke="#1a1a1a" stroke-width="0.3" text-anchor="middle" font-weight="bold">CD40-OE</text>
<line x1="428.40" y1="535.59" x2="428.40" y2="537.05" stroke="#8a8a8a" stroke-width="1.0"/>
<line x1="443.60" y1="526.12" x2="443.60" y2="530.00" stroke="#8a8a8a" stroke-width="1.0"/>
<line x1="462.00" y1="509.61" x2="462.00" y2="517.38" stroke="#8a8a8a" stroke-width="1.0"/>
<polyline points="381.00,544.81 395.00,543.84 410.00,541.66 428.40,536.32 443.60,528.06 462.00,513.49" fill="none" stroke="#8a8a8a" stroke-width="1.1" stroke-linejoin="round"/>
<polygon points="381.00,543.25 382.43,545.85 379.57,545.85" fill="#8a8a8a"/>
<polygon points="395.00,542.28 396.43,544.88 393.57,544.88" fill="#8a8a8a"/>
<polygon points="410.00,540.10 411.43,542.70 408.57,542.70" fill="#8a8a8a"/>
<polygon points="428.40,534.76 429.83,537.36 426.97,537.36" fill="#8a8a8a"/>
<polygon points="443.60,526.50 445.03,529.10 442.17,529.10" fill="#8a8a8a"/>
<polygon points="462.00,511.93 463.43,514.53 460.57,514.53" fill="#8a8a8a"/>
<line x1="428.40" y1="537.53" x2="428.40" y2="538.99" stroke="#a43cf0" stroke-width="1.0"/>
<line x1="443.60" y1="530.49" x2="443.60" y2="533.40" stroke="#a43cf0" stroke-width="1.0"/>
<line x1="462.00" y1="517.86" x2="462.00" y2="525.63" stroke="#a43cf0" stroke-width="1.0"/>
<polyline points="381.00,544.81 395.00,543.84 410.00,542.14 428.40,538.26 443.60,531.95 462.00,521.75" fill="none" stroke="#a43cf0" stroke-width="1.1" stroke-linejoin="round"/>
<polygon points="381.00,543.12 382.30,544.81 381.00,546.50 379.70,544.81" fill="#a43cf0"/>
<polygon points="395.00,542.15 396.30,543.84 395.00,545.53 393.70,543.84" fill="#a43cf0"/>
<polygon points="410.00,540.45 411.30,542.14 410.00,543.83 408.70,542.14" fill="#a43cf0"/>
<polygon points="428.40,536.57 429.70,538.26 428.40,539.95 427.10,538.26" fill="#a43cf0"/>
<polygon points="443.60,530.26 444.90,531.95 443.60,533.64 442.30,531.95" fill="#a43cf0"/>
<polygon points="462.00,520.06 463.30,521.75 462.00,523.44 460.70,521.75" fill="#a43cf0"/>
<line x1="410.00" y1="539.72" x2="410.00" y2="540.69" stroke="#1a1a1a" stroke-width="1.0"/>
<line x1="428.40" y1="530.00" x2="428.40" y2="532.92" stroke="#1a1a1a" stroke-width="1.0"/>
<line x1="443.60" y1="518.35" x2="443.60" y2="524.18" stroke="#1a1a1a" stroke-width="1.0"/>
<line x1="462.00" y1="487.76" x2="462.00" y2="504.27" stroke="#1a1a1a" stroke-width="1.0"/>
<polyline points="381.00,544.57 395.00,543.36 410.00,540.20 428.40,531.46 443.60,521.26 462.00,496.01" fill="none" stroke="#1a1a1a" stroke-width="1.2" stroke-linejoin="round"/>
<circle cx="381.00" cy="544.57" r="1.60" fill="#1a1a1a" stroke="none" stroke-width="0"/>
<circle cx="395.00" cy="543.36" r="1.60" fill="#1a1a1a" stroke="none" stroke-width="0"/>
<circle cx="410.00" cy="540.20" r="1.60" fill="#1a1a1a" stroke="none" stroke-width="0"/>
<circle cx="428.40" cy="531.46" r="1.60" fill="#1a1a1a" stroke="none" stroke-width="0"/>
<circle cx="443.60" cy="521.26" r="1.60" fill="#1a1a1a" stroke="none" stroke-width="0"/>
<circle cx="462.00" cy="496.01" r="1.60" fill="#1a1a1a" stroke="none" stroke-width="0"/>
<line x1="410.00" y1="537.77" x2="410.00" y2="539.72" stroke="#f0282d" stroke-width="1.0"/>
<line x1="428.40" y1="525.63" x2="428.40" y2="529.52" stroke="#f0282d" stroke-width="1.0"/>
<line x1="443.60" y1="507.18" x2="443.60" y2="516.89" stroke="#f0282d" stroke-width="1.0"/>
<line x1="462.00" y1="460.56" x2="462.00" y2="489.70" stroke="#f0282d" stroke-width="1.0"/>
<polyline points="381.00,544.57 395.00,543.12 410.00,538.74 428.40,527.58 443.60,512.04 462.00,475.13" fill="none" stroke="#f0282d" stroke-width="1.2" stroke-linejoin="round"/>
<circle cx="381.00" cy="544.57" r="1.50" fill="#fff" stroke="#f0282d" stroke-width="0.9"/>
<circle cx="395.00" cy="543.12" r="1.50" fill="#fff" stroke="#f0282d" stroke-width="0.9"/>
<circle cx="410.00" cy="538.74" r="1.50" fill="#fff" stroke="#f0282d" stroke-width="0.9"/>
<circle cx="428.40" cy="527.58" r="1.50" fill="#fff" stroke="#f0282d" stroke-width="0.9"/>
<circle cx="443.60" cy="512.04" r="1.50" fill="#fff" stroke="#f0282d" stroke-width="0.9"/>
<circle cx="462.00" cy="475.13" r="1.50" fill="#fff" stroke="#f0282d" stroke-width="0.9"/>
<polyline points="381.00,545.06 395.00,544.81 410.00,544.33 428.40,543.60 443.60,542.87 462.00,541.17" fill="none" stroke="#2f2fe6" stroke-width="1.1" stroke-linejoin="round"/>
<circle cx="381.00" cy="545.06" r="1.00" fill="#2f2fe6" stroke="none" stroke-width="0"/>
<circle cx="395.00" cy="544.81" r="1.00" fill="#2f2fe6" stroke="none" stroke-width="0"/>
<circle cx="410.00" cy="544.33" r="1.00" fill="#2f2fe6" stroke="none" stroke-width="0"/>
<circle cx="428.40" cy="543.60" r="1.00" fill="#2f2fe6" stroke="none" stroke-width="0"/>
<circle cx="443.60" cy="542.87" r="1.00" fill="#2f2fe6" stroke="none" stroke-width="0"/>
<circle cx="462.00" cy="541.17" r="1.00" fill="#2f2fe6" stroke="none" stroke-width="0"/>
<polyline points="462.60,496.50 464.40,496.50 464.40,540.50 462.60,540.50" fill="none" stroke="#4a4a4a" stroke-width="0.9" stroke-linejoin="round"/>
<path d="M466.39,509.98L469.33,509.98M467.12,508.71L468.59,511.25M468.59,508.71L467.12,511.25" stroke="#333" stroke-width="1.0" fill="none"/>
<path d="M466.39,513.20L469.33,513.20M467.12,511.93L468.59,514.47M468.59,511.93L467.12,514.47" stroke="#333" stroke-width="1.0" fill="none"/>
<path d="M466.39,516.42L469.33,516.42M467.12,515.15L468.59,517.69M468.59,515.15L467.12,517.69" stroke="#333" stroke-width="1.0" fill="none"/>
<polyline points="466.50,521.50 468.30,521.50 468.30,540.50 466.50,540.50" fill="none" stroke="#4a4a4a" stroke-width="0.9" stroke-linejoin="round"/>
<path d="M470.29,527.18L473.23,527.18M471.02,525.91L472.50,528.45M472.50,525.91L471.02,528.45" stroke="#333" stroke-width="1.0" fill="none"/>
<path d="M470.29,530.40L473.23,530.40M471.02,529.13L472.50,531.67M472.50,529.13L471.02,531.67" stroke="#333" stroke-width="1.0" fill="none"/>
<path d="M470.29,533.62L473.23,533.62M471.02,532.35L472.50,534.89M472.50,532.35L471.02,534.89" stroke="#333" stroke-width="1.0" fill="none"/>
<polyline points="473.20,514.00 475.00,514.00 475.00,540.50 473.20,540.50" fill="none" stroke="#4a4a4a" stroke-width="0.9" stroke-linejoin="round"/>
<path d="M476.99,523.98L479.93,523.98M477.72,522.71L479.19,525.25M479.19,522.71L477.72,525.25" stroke="#333" stroke-width="1.0" fill="none"/>
<path d="M476.99,527.20L479.93,527.20M477.72,525.93L479.19,528.47M479.19,525.93L477.72,528.47" stroke="#333" stroke-width="1.0" fill="none"/>
<path d="M476.99,530.42L479.93,530.42M477.72,529.15L479.19,531.69M479.19,529.15L477.72,531.69" stroke="#333" stroke-width="1.0" fill="none"/>
<polyline points="480.50,475.00 482.30,475.00 482.30,540.50 480.50,540.50" fill="none" stroke="#4a4a4a" stroke-width="0.9" stroke-linejoin="round"/>
<path d="M484.29,500.78L487.23,500.78M485.02,499.51L486.50,502.05M486.50,499.51L485.02,502.05" stroke="#333" stroke-width="1.0" fill="none"/>
<path d="M484.29,504.00L487.23,504.00M485.02,502.73L486.50,505.27M486.50,502.73L485.02,505.27" stroke="#333" stroke-width="1.0" fill="none"/>
<path d="M484.29,507.22L487.23,507.22M485.02,505.95L486.50,508.49M486.50,505.95L485.02,508.49" stroke="#333" stroke-width="1.0" fill="none"/>
<text x="226.00" y="490.00" font-size="9.6" fill="#1a1a1a" stroke="#1a1a1a" stroke-width="0.3" text-anchor="middle" font-weight="bold" transform="rotate(-90 226 490)" dy="3.5">Tumor volume (mm<tspan dy="-3.5" font-size="6">3</tspan><tspan dy="3.5">)</tspan></text>
<text x="373.00" y="577.00" font-size="9.4" fill="#1a1a1a" stroke="#1a1a1a" stroke-width="0.3" text-anchor="middle" font-weight="bold">Days of treatment</text>
<line x1="375.20" y1="441.50" x2="380.80" y2="441.50" stroke="#1a1a1a" stroke-width="1.0"/>
<circle cx="378.00" cy="441.50" r="1.90" fill="#1a1a1a" stroke="none" stroke-width="0"/>
<text x="385.00" y="444.40" font-size="8.0" fill="#1a1a1a" stroke="#1a1a1a" stroke-width="0.3" text-anchor="start" font-weight="bold">Veh+IgG</text>
<line x1="375.20" y1="449.20" x2="380.80" y2="449.20" stroke="#a43cf0" stroke-width="1.0"/>
<polygon points="378.00,446.99 379.70,449.20 378.00,451.41 376.30,449.20" fill="#a43cf0"/>
<text x="385.00" y="452.10" font-size="8.0" fill="#a43cf0" stroke="#a43cf0" stroke-width="0.3" text-anchor="start" font-weight="bold">Veh+aCD40</text>
<line x1="375.20" y1="456.90" x2="380.80" y2="456.90" stroke="#8a8a8a" stroke-width="1.0"/>
<polygon points="378.00,454.86 379.87,458.26 376.13,458.26" fill="#8a8a8a"/>
<text x="385.00" y="459.80" font-size="8.0" fill="#8a8a8a" stroke="#8a8a8a" stroke-width="0.3" text-anchor="start" font-weight="bold">Veh+PD1</text>
<line x1="375.20" y1="464.60" x2="380.80" y2="464.60" stroke="#2f2fe6" stroke-width="1.0"/>
<circle cx="378.00" cy="464.60" r="1.30" fill="#2f2fe6" stroke="none" stroke-width="0"/>
<text x="385.00" y="467.50" font-size="8.0" fill="#2f2fe6" stroke="#2f2fe6" stroke-width="0.3" text-anchor="start" font-weight="bold">aCD40+PD1</text>
<line x1="375.20" y1="472.30" x2="380.80" y2="472.30" stroke="#f0282d" stroke-width="1.0"/>
<circle cx="378.00" cy="472.30" r="1.70" fill="#fff" stroke="#f0282d" stroke-width="1.0"/>
<line x1="375.20" y1="472.30" x2="380.80" y2="472.30" stroke="#f0282d" stroke-width="1.0"/>
<text x="385.00" y="475.20" font-size="8.0" fill="#f0282d" stroke="#f0282d" stroke-width="0.3" text-anchor="start" font-weight="bold">RGS+IgG</text>
<text x="487.00" y="392.00" font-size="12.8" fill="#1a1a1a" stroke="#1a1a1a" stroke-width="0.3" text-anchor="start" font-weight="bold">(F)</text>
<line x1="557.50" y1="443.50" x2="557.50" y2="540.30" stroke="#1a1a1a" stroke-width="1.4"/>
<line x1="556.80" y1="539.60" x2="682.00" y2="539.60" stroke="#1a1a1a" stroke-width="1.4"/>
<line x1="555.00" y1="456.30" x2="557.50" y2="456.30" stroke="#1a1a1a" stroke-width="0.9"/>
<text x="554.10" y="458.90" font-size="6.9" fill="#1a1a1a" stroke="#1a1a1a" stroke-width="0.3" text-anchor="end" font-weight="bold" letter-spacing="0.45">0.15</text>
<line x1="555.00" y1="476.00" x2="557.50" y2="476.00" stroke="#1a1a1a" stroke-width="0.9"/>
<text x="554.10" y="478.60" font-size="6.9" fill="#1a1a1a" stroke="#1a1a1a" stroke-width="0.3" text-anchor="end" font-weight="bold" letter-spacing="0.45">0.10</text>
<line x1="555.00" y1="495.70" x2="557.50" y2="495.70" stroke="#1a1a1a" stroke-width="0.9"/>
<text x="554.10" y="498.30" font-size="6.9" fill="#1a1a1a" stroke="#1a1a1a" stroke-width="0.3" text-anchor="end" font-weight="bold" letter-spacing="0.45">0.05</text>
<line x1="555.00" y1="515.40" x2="557.50" y2="515.40" stroke="#1a1a1a" stroke-width="0.9"/>
<text x="554.10" y="518.00" font-size="6.9" fill="#1a1a1a" stroke="#1a1a1a" stroke-width="0.3" text-anchor="end" font-weight="bold" letter-spacing="0.45">0.00</text>
<line x1="555.00" y1="535.10" x2="557.50" y2="535.10" stroke="#1a1a1a" stroke-width="0.9"/>
<text x="554.10" y="537.70" font-size="6.9" fill="#1a1a1a" stroke="#1a1a1a" stroke-width="0.3" text-anchor="end" font-weight="bold" letter-spacing="0.45">-0.05</text>
<line x1="575.30" y1="539.60" x2="575.30" y2="542.10" stroke="#1a1a1a" stroke-width="0.9"/>
<text x="577.10" y="547.20" font-size="7.1" fill="#1a1a1a" stroke="#1a1a1a" stroke-width="0.3" text-anchor="end" font-weight="bold" transform="rotate(-45 577.0999999999999 547.2)">Veh+aCD40</text>
<line x1="605.40" y1="539.60" x2="605.40" y2="542.10" stroke="#1a1a1a" stroke-width="0.9"/>
<text x="607.20" y="547.20" font-size="7.1" fill="#1a1a1a" stroke="#1a1a1a" stroke-width="0.3" text-anchor="end" font-weight="bold" transform="rotate(-45 607.1999999999999 547.2)">Veh+PD1</text>
<line x1="635.50" y1="539.60" x2="635.50" y2="542.10" stroke="#1a1a1a" stroke-width="0.9"/>
<text x="637.30" y="547.20" font-size="7.1" fill="#1a1a1a" stroke="#1a1a1a" stroke-width="0.3" text-anchor="end" font-weight="bold" transform="rotate(-45 637.3 547.2)">aCD40+PD1</text>
<line x1="665.60" y1="539.60" x2="665.60" y2="542.10" stroke="#1a1a1a" stroke-width="0.9"/>
<text x="667.40" y="547.20" font-size="7.1" fill="#1a1a1a" stroke="#1a1a1a" stroke-width="0.3" text-anchor="end" font-weight="bold" transform="rotate(-45 667.4 547.2)">RGS+IgG</text>
<line x1="572.00" y1="474.42" x2="572.00" y2="507.13" stroke="#111" stroke-width="1.35"/>
<line x1="569.40" y1="474.42" x2="574.60" y2="474.42" stroke="#111" stroke-width="1.3"/>
<line x1="569.40" y1="507.13" x2="574.60" y2="507.13" stroke="#111" stroke-width="1.3"/>
<line x1="568.70" y1="490.97" x2="575.30" y2="490.97" stroke="#111" stroke-width="1.5"/>
<line x1="579.00" y1="484.67" x2="579.00" y2="516.98" stroke="#f0282d" stroke-width="1.35"/>
<line x1="576.40" y1="484.67" x2="581.60" y2="484.67" stroke="#f0282d" stroke-width="1.3"/>
<line x1="576.40" y1="516.98" x2="581.60" y2="516.98" stroke="#f0282d" stroke-width="1.3"/>
<line x1="575.70" y1="501.22" x2="582.30" y2="501.22" stroke="#f0282d" stroke-width="1.5"/>
<line x1="601.70" y1="473.64" x2="601.70" y2="506.73" stroke="#111" stroke-width="1.35"/>
<line x1="599.10" y1="473.64" x2="604.30" y2="473.64" stroke="#111" stroke-width="1.3"/>
<line x1="599.10" y1="506.73" x2="604.30" y2="506.73" stroke="#111" stroke-width="1.3"/>
<line x1="598.40" y1="490.58" x2="605.00" y2="490.58" stroke="#111" stroke-width="1.5"/>
<line x1="608.80" y1="483.09" x2="608.80" y2="515.79" stroke="#f0282d" stroke-width="1.35"/>
<line x1="606.20" y1="483.09" x2="611.40" y2="483.09" stroke="#f0282d" stroke-width="1.3"/>
<line x1="606.20" y1="515.79" x2="611.40" y2="515.79" stroke="#f0282d" stroke-width="1.3"/>
<line x1="605.50" y1="499.64" x2="612.10" y2="499.64" stroke="#f0282d" stroke-width="1.5"/>
<line x1="631.00" y1="465.36" x2="631.00" y2="498.85" stroke="#111" stroke-width="1.35"/>
<line x1="628.40" y1="465.36" x2="633.60" y2="465.36" stroke="#111" stroke-width="1.3"/>
<line x1="628.40" y1="498.85" x2="633.60" y2="498.85" stroke="#111" stroke-width="1.3"/>
<line x1="627.70" y1="482.30" x2="634.30" y2="482.30" stroke="#111" stroke-width="1.5"/>
<line x1="639.00" y1="447.63" x2="639.00" y2="480.33" stroke="#f0282d" stroke-width="1.35"/>
<line x1="636.40" y1="447.63" x2="641.60" y2="447.63" stroke="#f0282d" stroke-width="1.3"/>
<line x1="636.40" y1="480.33" x2="641.60" y2="480.33" stroke="#f0282d" stroke-width="1.3"/>
<line x1="635.70" y1="464.18" x2="642.30" y2="464.18" stroke="#f0282d" stroke-width="1.5"/>
<line x1="661.30" y1="461.42" x2="661.30" y2="494.91" stroke="#111" stroke-width="1.35"/>
<line x1="658.70" y1="461.42" x2="663.90" y2="461.42" stroke="#111" stroke-width="1.3"/>
<line x1="658.70" y1="494.91" x2="663.90" y2="494.91" stroke="#111" stroke-width="1.3"/>
<line x1="658.00" y1="477.97" x2="664.60" y2="477.97" stroke="#111" stroke-width="1.5"/>
<line x1="668.40" y1="503.19" x2="668.40" y2="535.89" stroke="#f0282d" stroke-width="1.35"/>
<line x1="665.80" y1="503.19" x2="671.00" y2="503.19" stroke="#f0282d" stroke-width="1.3"/>
<line x1="665.80" y1="535.89" x2="671.00" y2="535.89" stroke="#f0282d" stroke-width="1.3"/>
<line x1="665.10" y1="519.73" x2="671.70" y2="519.73" stroke="#f0282d" stroke-width="1.5"/>
<line x1="564.00" y1="444.10" x2="568.50" y2="444.10" stroke="#111" stroke-width="1.5"/>
<text x="570.70" y="446.70" font-size="8.2" fill="#111" stroke="#111" stroke-width="0.3" text-anchor="start" font-weight="bold" letter-spacing="0.25">CD40-Ctrl</text>
<line x1="564.00" y1="452.80" x2="568.50" y2="452.80" stroke="#f0282d" stroke-width="1.5"/>
<text x="570.70" y="455.40" font-size="8.2" fill="#f0282d" stroke="#f0282d" stroke-width="0.3" text-anchor="start" font-weight="bold" letter-spacing="0.35">CD40-OE</text>
<text x="518.30" y="497.80" font-size="7.8" fill="#1a1a1a" stroke="#1a1a1a" stroke-width="0.3" text-anchor="middle" font-weight="bold" transform="rotate(-90 518.3 497.8)" dy="2.7">Estimated slope change</text>
<text x="525.20" y="497.80" font-size="7.8" fill="#1a1a1a" stroke="#1a1a1a" stroke-width="0.3" text-anchor="middle" font-weight="bold" transform="rotate(-90 525.2 497.8)" dy="2.7">of tumor growth curve</text>
<text x="609.60" y="412.00" font-size="8.7" fill="#1a1a1a" stroke="#1a1a1a" stroke-width="0.3" text-anchor="middle" font-weight="bold" letter-spacing="0.1">Treatment effect on the</text>
<text x="609.60" y="420.40" font-size="8.7" fill="#1a1a1a" stroke="#1a1a1a" stroke-width="0.3" text-anchor="middle" font-weight="bold" letter-spacing="0.1">reduction of tumor growth rate</text>
<text x="609.60" y="428.40" font-size="8.7" fill="#1a1a1a" stroke="#1a1a1a" stroke-width="0.3" text-anchor="middle" font-weight="bold" letter-spacing="0.1">compared to Veh+IgG</text>
<text x="665.80" y="454.50" font-size="13" fill="#1a1a1a" text-anchor="middle" font-weight="bold" letter-spacing="0.3" stroke="#111" stroke-width="0.1">**</text>
<polyline points="661.30,458.80 661.30,455.40 668.40,455.40 668.40,458.80" fill="none" stroke="#222" stroke-width="0.9" stroke-linejoin="round"/>
<text x="0.00" y="616.00" font-size="12.8" fill="#1a1a1a" stroke="#1a1a1a" stroke-width="0.3" text-anchor="start" font-weight="bold">(G)</text>
<text x="33.60" y="618.40" font-size="11.9" fill="#1a1a1a" stroke="#1a1a1a" stroke-width="0.3" text-anchor="start" font-weight="bold">B16F10 model</text>
<rect x="143.00" y="604.30" width="228.00" height="18.40" fill="none" stroke="#222" stroke-width="1.0"/>
<text x="150.30" y="616.60" font-size="10.4" fill="#1a1a1a" stroke="#1a1a1a" stroke-width="0.3" text-anchor="start" font-weight="bold">1, CD40-Ctrl tumors;</text>
<text x="266.80" y="616.60" font-size="10.4" fill="#1a1a1a" stroke="#1a1a1a" stroke-width="0.3" text-anchor="start" font-weight="bold">2, CD40-OE tumors</text>
<line x1="43.00" y1="663.60" x2="43.00" y2="751.20" stroke="#1a1a1a" stroke-width="1.2"/>
<line x1="42.40" y1="750.60" x2="167.50" y2="750.60" stroke="#1a1a1a" stroke-width="1.2"/>
<line x1="40.00" y1="750.60" x2="43.00" y2="750.60" stroke="#1a1a1a" stroke-width="1.0"/>
<text x="39.00" y="753.80" font-size="8.4" fill="#1a1a1a" stroke="#1a1a1a" stroke-width="0.3" text-anchor="end" font-weight="bold">0</text>
<line x1="40.00" y1="728.88" x2="43.00" y2="728.88" stroke="#1a1a1a" stroke-width="1.0"/>
<text x="39.00" y="732.08" font-size="8.4" fill="#1a1a1a" stroke="#1a1a1a" stroke-width="0.3" text-anchor="end" font-weight="bold">5</text>
<line x1="40.00" y1="707.15" x2="43.00" y2="707.15" stroke="#1a1a1a" stroke-width="1.0"/>
<text x="39.00" y="710.35" font-size="8.4" fill="#1a1a1a" stroke="#1a1a1a" stroke-width="0.3" text-anchor="end" font-weight="bold">10</text>
<line x1="40.00" y1="685.43" x2="43.00" y2="685.43" stroke="#1a1a1a" stroke-width="1.0"/>
<text x="39.00" y="688.63" font-size="8.4" fill="#1a1a1a" stroke="#1a1a1a" stroke-width="0.3" text-anchor="end" font-weight="bold">15</text>
<line x1="40.00" y1="663.70" x2="43.00" y2="663.70" stroke="#1a1a1a" stroke-width="1.0"/>
<text x="39.00" y="666.90" font-size="8.4" fill="#1a1a1a" stroke="#1a1a1a" stroke-width="0.3" text-anchor="end" font-weight="bold">20</text>
<line x1="52.50" y1="750.60" x2="52.50" y2="753.60" stroke="#1a1a1a" stroke-width="1.0"/>
<text x="52.50" y="760.40" font-size="7.0" fill="#1a1a1a" stroke="#1a1a1a" stroke-width="0.3" text-anchor="middle" font-weight="bold">1</text>
<line x1="64.40" y1="750.60" x2="64.40" y2="753.60" stroke="#1a1a1a" stroke-width="1.0"/>
<text x="64.40" y="760.40" font-size="7.0" fill="#1a1a1a" stroke="#1a1a1a" stroke-width="0.3" text-anchor="middle" font-weight="bold">2</text>
<line x1="77.50" y1="750.60" x2="77.50" y2="753.60" stroke="#1a1a1a" stroke-width="1.0"/>
<text x="77.50" y="760.40" font-size="7.0" fill="#1a1a1a" stroke="#1a1a1a" stroke-width="0.3" text-anchor="middle" font-weight="bold">1</text>
<line x1="89.90" y1="750.60" x2="89.90" y2="753.60" stroke="#1a1a1a" stroke-width="1.0"/>
<text x="89.90" y="760.40" font-size="7.0" fill="#1a1a1a" stroke="#1a1a1a" stroke-width="0.3" text-anchor="middle" font-weight="bold">2</text>
<line x1="103.00" y1="750.60" x2="103.00" y2="753.60" stroke="#1a1a1a" stroke-width="1.0"/>
<text x="103.00" y="760.40" font-size="7.0" fill="#1a1a1a" stroke="#1a1a1a" stroke-width="0.3" text-anchor="middle" font-weight="bold">1</text>
<line x1="114.80" y1="750.60" x2="114.80" y2="753.60" stroke="#1a1a1a" stroke-width="1.0"/>
<text x="114.80" y="760.40" font-size="7.0" fill="#1a1a1a" stroke="#1a1a1a" stroke-width="0.3" text-anchor="middle" font-weight="bold">2</text>
<line x1="128.00" y1="750.60" x2="128.00" y2="753.60" stroke="#1a1a1a" stroke-width="1.0"/>
<text x="128.00" y="760.40" font-size="7.0" fill="#1a1a1a" stroke="#1a1a1a" stroke-width="0.3" text-anchor="middle" font-weight="bold">1</text>
<line x1="140.60" y1="750.60" x2="140.60" y2="753.60" stroke="#1a1a1a" stroke-width="1.0"/>
<text x="140.60" y="760.40" font-size="7.0" fill="#1a1a1a" stroke="#1a1a1a" stroke-width="0.3" text-anchor="middle" font-weight="bold">2</text>
<line x1="152.90" y1="750.60" x2="152.90" y2="753.60" stroke="#1a1a1a" stroke-width="1.0"/>
<text x="152.90" y="760.40" font-size="7.0" fill="#1a1a1a" stroke="#1a1a1a" stroke-width="0.3" text-anchor="middle" font-weight="bold">1</text>
<line x1="165.50" y1="750.60" x2="165.50" y2="753.60" stroke="#1a1a1a" stroke-width="1.0"/>
<text x="165.50" y="760.40" font-size="7.0" fill="#1a1a1a" stroke="#1a1a1a" stroke-width="0.3" text-anchor="middle" font-weight="bold">2</text>
<text x="57.65" y="773.00" font-size="7.0" fill="#1a1a1a" stroke="#1a1a1a" stroke-width="0.3" text-anchor="middle" font-weight="bold">Veh</text>
<text x="57.65" y="778.60" font-size="7.4" fill="#1a1a1a" stroke="#1a1a1a" stroke-width="0.3" text-anchor="middle" font-weight="bold">+</text>
<text x="57.65" y="783.80" font-size="7.0" fill="#1a1a1a" stroke="#1a1a1a" stroke-width="0.3" text-anchor="middle" font-weight="bold">IgG</text>
<text x="82.90" y="773.00" font-size="7.0" fill="#1a1a1a" stroke="#1a1a1a" stroke-width="0.3" text-anchor="middle" font-weight="bold">Veh</text>
<text x="82.90" y="778.60" font-size="7.4" fill="#1a1a1a" stroke="#1a1a1a" stroke-width="0.3" text-anchor="middle" font-weight="bold">+</text>
<text x="82.90" y="783.80" font-size="7.0" fill="#1a1a1a" stroke="#1a1a1a" stroke-width="0.3" text-anchor="middle" font-weight="bold">aCD40</text>
<text x="108.10" y="773.00" font-size="7.0" fill="#1a1a1a" stroke="#1a1a1a" stroke-width="0.3" text-anchor="middle" font-weight="bold">Veh</text>
<text x="108.10" y="778.60" font-size="7.4" fill="#1a1a1a" stroke="#1a1a1a" stroke-width="0.3" text-anchor="middle" font-weight="bold">+</text>
<text x="108.10" y="783.80" font-size="7.0" fill="#1a1a1a" stroke="#1a1a1a" stroke-width="0.3" text-anchor="middle" font-weight="bold">PD1</text>
<text x="133.50" y="773.00" font-size="7.0" fill="#1a1a1a" stroke="#1a1a1a" stroke-width="0.3" text-anchor="middle" font-weight="bold">aCD40</text>
<text x="133.50" y="778.60" font-size="7.4" fill="#1a1a1a" stroke="#1a1a1a" stroke-width="0.3" text-anchor="middle" font-weight="bold">+</text>
<text x="133.50" y="783.80" font-size="7.0" fill="#1a1a1a" stroke="#1a1a1a" stroke-width="0.3" text-anchor="middle" font-weight="bold">PD1</text>
<text x="158.40" y="773.00" font-size="7.0" fill="#1a1a1a" stroke="#1a1a1a" stroke-width="0.3" text-anchor="middle" font-weight="bold">RGS</text>
<text x="158.40" y="778.60" font-size="7.4" fill="#1a1a1a" stroke="#1a1a1a" stroke-width="0.3" text-anchor="middle" font-weight="bold">+</text>
<text x="158.40" y="783.80" font-size="7.0" fill="#1a1a1a" stroke="#1a1a1a" stroke-width="0.3" text-anchor="middle" font-weight="bold">IgG</text>
<text x="51.6" y="649" font-size="9.7" fill="#1a1a1a" font-weight="bold" stroke="#1a1a1a" stroke-width="0.3">CD45<tspan dy="-3.49" font-size="6.98">+</tspan><tspan dy="3.49"> total leukocytes</tspan></text>
<text x="24.5" y="707" font-size="10.2" fill="#1a1a1a" font-weight="bold" text-anchor="middle" transform="rotate(-90 24.5 707)" dy="3.6" stroke="#1a1a1a" stroke-width="0.3">% in live cells</text>
<line x1="52.50" y1="727.57" x2="52.50" y2="730.18" stroke="#111111" stroke-width="0.8"/>
<line x1="50.30" y1="727.57" x2="54.70" y2="727.57" stroke="#111111" stroke-width="0.8"/>
<line x1="50.30" y1="730.18" x2="54.70" y2="730.18" stroke="#111111" stroke-width="0.8"/>
<circle cx="50.50" cy="726.70" r="1.70" fill="#111111" stroke="none" stroke-width="0"/>
<circle cx="54.50" cy="728.01" r="1.70" fill="#111111" stroke="none" stroke-width="0"/>
<circle cx="50.30" cy="728.88" r="1.70" fill="#111111" stroke="none" stroke-width="0"/>
<circle cx="54.70" cy="732.35" r="1.70" fill="#111111" stroke="none" stroke-width="0"/>
<line x1="47.50" y1="728.88" x2="57.50" y2="728.88" stroke="#111" stroke-width="1.3"/>
<line x1="64.40" y1="733.65" x2="64.40" y2="737.13" stroke="#ff2a2a" stroke-width="0.8"/>
<line x1="62.20" y1="733.65" x2="66.60" y2="733.65" stroke="#ff2a2a" stroke-width="0.8"/>
<line x1="62.20" y1="737.13" x2="66.60" y2="737.13" stroke="#ff2a2a" stroke-width="0.8"/>
<rect x="62.70" y="728.91" width="3.40" height="3.40" fill="#ff2a2a"/>
<rect x="60.50" y="734.56" width="3.40" height="3.40" fill="#ff2a2a"/>
<rect x="64.90" y="734.56" width="3.40" height="3.40" fill="#ff2a2a"/>
<line x1="59.40" y1="735.39" x2="69.40" y2="735.39" stroke="#111" stroke-width="1.3"/>
<line x1="77.50" y1="720.62" x2="77.50" y2="725.83" stroke="#3ce63c" stroke-width="0.8"/>
<line x1="75.30" y1="720.62" x2="79.70" y2="720.62" stroke="#3ce63c" stroke-width="0.8"/>
<line x1="75.30" y1="725.83" x2="79.70" y2="725.83" stroke="#3ce63c" stroke-width="0.8"/>
<polygon points="77.50,712.93 79.37,716.33 75.63,716.33" fill="#3ce63c"/>
<polygon points="74.90,715.97 76.77,719.37 73.03,719.37" fill="#3ce63c"/>
<polygon points="80.10,720.32 81.97,723.72 78.23,723.72" fill="#3ce63c"/>
<polygon points="75.10,724.66 76.97,728.06 73.23,728.06" fill="#3ce63c"/>
<polygon points="79.90,728.57 81.77,731.97 78.03,731.97" fill="#3ce63c"/>
<line x1="72.50" y1="723.23" x2="82.50" y2="723.23" stroke="#111" stroke-width="1.3"/>
<line x1="89.90" y1="731.05" x2="89.90" y2="737.13" stroke="#d23cff" stroke-width="0.8"/>
<line x1="87.70" y1="731.05" x2="92.10" y2="731.05" stroke="#d23cff" stroke-width="0.8"/>
<line x1="87.70" y1="737.13" x2="92.10" y2="737.13" stroke="#d23cff" stroke-width="0.8"/>
<polygon points="87.90,727.00 89.77,723.60 86.03,723.60" fill="#d23cff"/>
<polygon points="91.90,737.00 93.77,733.60 90.03,733.60" fill="#d23cff"/>
<polygon points="87.70,738.74 89.57,735.34 85.83,735.34" fill="#d23cff"/>
<polygon points="92.10,742.65 93.97,739.25 90.23,739.25" fill="#d23cff"/>
<line x1="84.90" y1="734.09" x2="94.90" y2="734.09" stroke="#111" stroke-width="1.3"/>
<line x1="103.00" y1="706.28" x2="103.00" y2="718.45" stroke="#ff7a3a" stroke-width="0.8"/>
<line x1="100.80" y1="706.28" x2="105.20" y2="706.28" stroke="#ff7a3a" stroke-width="0.8"/>
<line x1="100.80" y1="718.45" x2="105.20" y2="718.45" stroke="#ff7a3a" stroke-width="0.8"/>
<polygon points="103.00,694.95 104.70,697.16 103.00,699.37 101.30,697.16" fill="#ff7a3a"/>
<polygon points="100.40,695.38 102.10,697.59 100.40,699.80 98.70,697.59" fill="#ff7a3a"/>
<polygon points="105.60,713.63 107.30,715.84 105.60,718.05 103.90,715.84" fill="#ff7a3a"/>
<polygon points="100.60,724.49 102.30,726.70 100.60,728.91 98.90,726.70" fill="#ff7a3a"/>
<polygon points="105.40,724.49 107.10,726.70 105.40,728.91 103.70,726.70" fill="#ff7a3a"/>
<line x1="98.00" y1="712.36" x2="108.00" y2="712.36" stroke="#111" stroke-width="1.3"/>
<line x1="114.80" y1="716.27" x2="114.80" y2="721.49" stroke="#2424ee" stroke-width="0.8"/>
<line x1="112.60" y1="716.27" x2="117.00" y2="716.27" stroke="#2424ee" stroke-width="0.8"/>
<line x1="112.60" y1="721.49" x2="117.00" y2="721.49" stroke="#2424ee" stroke-width="0.8"/>
<circle cx="114.80" cy="711.93" r="1.70" fill="#2424ee" stroke="none" stroke-width="0"/>
<circle cx="112.20" cy="714.54" r="1.70" fill="#2424ee" stroke="none" stroke-width="0"/>
<circle cx="117.40" cy="720.62" r="1.70" fill="#2424ee" stroke="none" stroke-width="0"/>
<circle cx="112.40" cy="724.53" r="1.70" fill="#2424ee" stroke="none" stroke-width="0"/>
<circle cx="117.20" cy="725.40" r="1.70" fill="#2424ee" stroke="none" stroke-width="0"/>
<line x1="109.80" y1="718.88" x2="119.80" y2="718.88" stroke="#111" stroke-width="1.3"/>
<line x1="128.00" y1="706.28" x2="128.00" y2="724.53" stroke="#d0742a" stroke-width="0.8"/>
<line x1="125.80" y1="706.28" x2="130.20" y2="706.28" stroke="#d0742a" stroke-width="0.8"/>
<line x1="125.80" y1="724.53" x2="130.20" y2="724.53" stroke="#d0742a" stroke-width="0.8"/>
<rect x="126.30" y="690.24" width="3.40" height="3.40" fill="#d0742a"/>
<rect x="123.70" y="697.63" width="3.40" height="3.40" fill="#d0742a"/>
<rect x="128.90" y="712.84" width="3.40" height="3.40" fill="#d0742a"/>
<rect x="123.90" y="725.00" width="3.40" height="3.40" fill="#d0742a"/>
<rect x="128.70" y="738.47" width="3.40" height="3.40" fill="#d0742a"/>
<line x1="123.00" y1="715.41" x2="133.00" y2="715.41" stroke="#111" stroke-width="1.3"/>
<line x1="140.60" y1="709.32" x2="140.60" y2="713.67" stroke="#8c8a2a" stroke-width="0.8"/>
<line x1="138.40" y1="709.32" x2="142.80" y2="709.32" stroke="#8c8a2a" stroke-width="0.8"/>
<line x1="138.40" y1="713.67" x2="142.80" y2="713.67" stroke="#8c8a2a" stroke-width="0.8"/>
<polygon points="140.60,703.81 142.47,707.21 138.73,707.21" fill="#8c8a2a"/>
<polygon points="138.00,707.28 139.87,710.68 136.13,710.68" fill="#8c8a2a"/>
<polygon points="143.20,709.46 145.07,712.86 141.33,712.86" fill="#8c8a2a"/>
<polygon points="138.20,711.63 140.07,715.03 136.33,715.03" fill="#8c8a2a"/>
<polygon points="143.00,714.67 144.87,718.07 141.13,718.07" fill="#8c8a2a"/>
<line x1="135.60" y1="711.50" x2="145.60" y2="711.50" stroke="#111" stroke-width="1.3"/>
<line x1="152.90" y1="719.75" x2="152.90" y2="722.36" stroke="#8a2ad0" stroke-width="0.8"/>
<line x1="150.70" y1="719.75" x2="155.10" y2="719.75" stroke="#8a2ad0" stroke-width="0.8"/>
<line x1="150.70" y1="722.36" x2="155.10" y2="722.36" stroke="#8a2ad0" stroke-width="0.8"/>
<polygon points="152.90,719.18 154.77,715.78 151.03,715.78" fill="#8a2ad0"/>
<polygon points="150.30,721.79 152.17,718.39 148.43,718.39" fill="#8a2ad0"/>
<polygon points="155.50,723.96 157.37,720.56 153.63,720.56" fill="#8a2ad0"/>
<polygon points="150.50,724.40 152.37,721.00 148.63,721.00" fill="#8a2ad0"/>
<polygon points="155.30,725.27 157.17,721.87 153.43,721.87" fill="#8a2ad0"/>
<line x1="147.90" y1="721.05" x2="157.90" y2="721.05" stroke="#111" stroke-width="1.3"/>
<line x1="165.50" y1="722.36" x2="165.50" y2="732.79" stroke="#b02a6a" stroke-width="0.8"/>
<line x1="163.30" y1="722.36" x2="167.70" y2="722.36" stroke="#b02a6a" stroke-width="0.8"/>
<line x1="163.30" y1="732.79" x2="167.70" y2="732.79" stroke="#b02a6a" stroke-width="0.8"/>
<polygon points="165.50,718.41 167.20,720.62 165.50,722.83 163.80,720.62" fill="#b02a6a"/>
<polygon points="163.30,721.45 165.00,723.66 163.30,725.87 161.60,723.66" fill="#b02a6a"/>
<polygon points="167.70,736.22 169.40,738.43 167.70,740.64 166.00,738.43" fill="#b02a6a"/>
<line x1="160.50" y1="727.57" x2="170.50" y2="727.57" stroke="#111" stroke-width="1.3"/>
<line x1="87.20" y1="666.50" x2="140.00" y2="666.50" stroke="#111" stroke-width="1.1"/>
<text x="113.60" y="669.10" font-size="14" fill="#1a1a1a" text-anchor="middle" font-weight="bold" letter-spacing="0.4" stroke="#111" stroke-width="0.05">**</text>
<line x1="61.70" y1="676.50" x2="140.00" y2="676.50" stroke="#111" stroke-width="1.1"/>
<text x="100.85" y="679.10" font-size="14" fill="#1a1a1a" text-anchor="middle" font-weight="bold" letter-spacing="0.4" stroke="#111" stroke-width="0.05">**</text>
<line x1="61.70" y1="685.50" x2="114.80" y2="685.50" stroke="#111" stroke-width="1.1"/>
<text x="88.25" y="688.10" font-size="14" fill="#1a1a1a" text-anchor="middle" font-weight="bold" letter-spacing="0.4" stroke="#111" stroke-width="0.05">*</text>
<line x1="50.00" y1="695.50" x2="103.80" y2="695.50" stroke="#111" stroke-width="1.1"/>
<text x="76.90" y="698.10" font-size="14" fill="#1a1a1a" text-anchor="middle" font-weight="bold" letter-spacing="0.4" stroke="#111" stroke-width="0.05">*</text>
<line x1="195.50" y1="665.00" x2="195.50" y2="752.30" stroke="#1a1a1a" stroke-width="1.2"/>
<line x1="194.90" y1="751.70" x2="326.80" y2="751.70" stroke="#1a1a1a" stroke-width="1.2"/>
<line x1="192.50" y1="751.70" x2="195.50" y2="751.70" stroke="#1a1a1a" stroke-width="1.0"/>
<text x="191.50" y="754.90" font-size="8.6" fill="#1a1a1a" stroke="#1a1a1a" stroke-width="0.3" text-anchor="end" font-weight="bold">0</text>
<line x1="192.50" y1="730.03" x2="195.50" y2="730.03" stroke="#1a1a1a" stroke-width="1.0"/>
<text x="191.50" y="733.23" font-size="8.6" fill="#1a1a1a" stroke="#1a1a1a" stroke-width="0.3" text-anchor="end" font-weight="bold">3</text>
<line x1="192.50" y1="708.35" x2="195.50" y2="708.35" stroke="#1a1a1a" stroke-width="1.0"/>
<text x="191.50" y="711.55" font-size="8.6" fill="#1a1a1a" stroke="#1a1a1a" stroke-width="0.3" text-anchor="end" font-weight="bold">6</text>
<line x1="192.50" y1="686.68" x2="195.50" y2="686.68" stroke="#1a1a1a" stroke-width="1.0"/>
<text x="191.50" y="689.88" font-size="8.6" fill="#1a1a1a" stroke="#1a1a1a" stroke-width="0.3" text-anchor="end" font-weight="bold">9</text>
<line x1="192.50" y1="665.00" x2="195.50" y2="665.00" stroke="#1a1a1a" stroke-width="1.0"/>
<text x="191.50" y="668.20" font-size="8.6" fill="#1a1a1a" stroke="#1a1a1a" stroke-width="0.3" text-anchor="end" font-weight="bold">12</text>
<line x1="205.20" y1="751.70" x2="205.20" y2="754.70" stroke="#1a1a1a" stroke-width="1.0"/>
<text x="205.20" y="760.40" font-size="7.0" fill="#1a1a1a" stroke="#1a1a1a" stroke-width="0.3" text-anchor="middle" font-weight="bold">1</text>
<line x1="217.80" y1="751.70" x2="217.80" y2="754.70" stroke="#1a1a1a" stroke-width="1.0"/>
<text x="217.80" y="760.40" font-size="7.0" fill="#1a1a1a" stroke="#1a1a1a" stroke-width="0.3" text-anchor="middle" font-weight="bold">2</text>
<line x1="230.40" y1="751.70" x2="230.40" y2="754.70" stroke="#1a1a1a" stroke-width="1.0"/>
<text x="230.40" y="760.40" font-size="7.0" fill="#1a1a1a" stroke="#1a1a1a" stroke-width="0.3" text-anchor="middle" font-weight="bold">1</text>
<line x1="242.80" y1="751.70" x2="242.80" y2="754.70" stroke="#1a1a1a" stroke-width="1.0"/>
<text x="242.80" y="760.40" font-size="7.0" fill="#1a1a1a" stroke="#1a1a1a" stroke-width="0.3" text-anchor="middle" font-weight="bold">2</text>
<line x1="255.40" y1="751.70" x2="255.40" y2="754.70" stroke="#1a1a1a" stroke-width="1.0"/>
<text x="255.40" y="760.40" font-size="7.0" fill="#1a1a1a" stroke="#1a1a1a" stroke-width="0.3" text-anchor="middle" font-weight="bold">1</text>
<line x1="267.70" y1="751.70" x2="267.70" y2="754.70" stroke="#1a1a1a" stroke-width="1.0"/>
<text x="267.70" y="760.40" font-size="7.0" fill="#1a1a1a" stroke="#1a1a1a" stroke-width="0.3" text-anchor="middle" font-weight="bold">2</text>
<line x1="280.90" y1="751.70" x2="280.90" y2="754.70" stroke="#1a1a1a" stroke-width="1.0"/>
<text x="280.90" y="760.40" font-size="7.0" fill="#1a1a1a" stroke="#1a1a1a" stroke-width="0.3" text-anchor="middle" font-weight="bold">1</text>
<line x1="294.00" y1="751.70" x2="294.00" y2="754.70" stroke="#1a1a1a" stroke-width="1.0"/>
<text x="294.00" y="760.40" font-size="7.0" fill="#1a1a1a" stroke="#1a1a1a" stroke-width="0.3" text-anchor="middle" font-weight="bold">2</text>
<line x1="305.80" y1="751.70" x2="305.80" y2="754.70" stroke="#1a1a1a" stroke-width="1.0"/>
<text x="305.80" y="760.40" font-size="7.0" fill="#1a1a1a" stroke="#1a1a1a" stroke-width="0.3" text-anchor="middle" font-weight="bold">1</text>
<line x1="319.00" y1="751.70" x2="319.00" y2="754.70" stroke="#1a1a1a" stroke-width="1.0"/>
<text x="319.00" y="760.40" font-size="7.0" fill="#1a1a1a" stroke="#1a1a1a" stroke-width="0.3" text-anchor="middle" font-weight="bold">2</text>
<text x="210.70" y="773.00" font-size="7.0" fill="#1a1a1a" stroke="#1a1a1a" stroke-width="0.3" text-anchor="middle" font-weight="bold">Veh</text>
<text x="210.70" y="778.60" font-size="7.4" fill="#1a1a1a" stroke="#1a1a1a" stroke-width="0.3" text-anchor="middle" font-weight="bold">+</text>
<text x="210.70" y="783.80" font-size="7.0" fill="#1a1a1a" stroke="#1a1a1a" stroke-width="0.3" text-anchor="middle" font-weight="bold">IgG</text>
<text x="235.80" y="773.00" font-size="7.0" fill="#1a1a1a" stroke="#1a1a1a" stroke-width="0.3" text-anchor="middle" font-weight="bold">Veh</text>
<text x="235.80" y="778.60" font-size="7.4" fill="#1a1a1a" stroke="#1a1a1a" stroke-width="0.3" text-anchor="middle" font-weight="bold">+</text>
<text x="235.80" y="783.80" font-size="7.0" fill="#1a1a1a" stroke="#1a1a1a" stroke-width="0.3" text-anchor="middle" font-weight="bold">aCD40</text>
<text x="260.75" y="773.00" font-size="7.0" fill="#1a1a1a" stroke="#1a1a1a" stroke-width="0.3" text-anchor="middle" font-weight="bold">Veh</text>
<text x="260.75" y="778.60" font-size="7.4" fill="#1a1a1a" stroke="#1a1a1a" stroke-width="0.3" text-anchor="middle" font-weight="bold">+</text>
<text x="260.75" y="783.80" font-size="7.0" fill="#1a1a1a" stroke="#1a1a1a" stroke-width="0.3" text-anchor="middle" font-weight="bold">PD1</text>
<text x="286.65" y="773.00" font-size="7.0" fill="#1a1a1a" stroke="#1a1a1a" stroke-width="0.3" text-anchor="middle" font-weight="bold">aCD40</text>
<text x="286.65" y="778.60" font-size="7.4" fill="#1a1a1a" stroke="#1a1a1a" stroke-width="0.3" text-anchor="middle" font-weight="bold">+</text>
<text x="286.65" y="783.80" font-size="7.0" fill="#1a1a1a" stroke="#1a1a1a" stroke-width="0.3" text-anchor="middle" font-weight="bold">PD1</text>
<text x="311.60" y="773.00" font-size="7.0" fill="#1a1a1a" stroke="#1a1a1a" stroke-width="0.3" text-anchor="middle" font-weight="bold">RGS</text>
<text x="311.60" y="778.60" font-size="7.4" fill="#1a1a1a" stroke="#1a1a1a" stroke-width="0.3" text-anchor="middle" font-weight="bold">+</text>
<text x="311.60" y="783.80" font-size="7.0" fill="#1a1a1a" stroke="#1a1a1a" stroke-width="0.3" text-anchor="middle" font-weight="bold">IgG</text>
<text x="218.3" y="653" font-size="9.7" fill="#1a1a1a" font-weight="bold" stroke="#1a1a1a" stroke-width="0.3">CD8<tspan dy="-3.49" font-size="6.98">+</tspan><tspan dy="3.49">CD3<tspan dy="-3.49" font-size="6.98">+</tspan><tspan dy="3.49"> Tc cells</tspan></tspan></text>
<text x="179.7" y="712" font-size="10.2" fill="#1a1a1a" font-weight="bold" text-anchor="middle" transform="rotate(-90 179.7 712)" dy="3.6" stroke="#1a1a1a" stroke-width="0.3">% in CD45<tspan dy="-3.67" font-size="7.34">+</tspan><tspan dy="3.67"> cells</tspan></text>
<line x1="205.20" y1="731.47" x2="205.20" y2="732.92" stroke="#111111" stroke-width="0.8"/>
<line x1="203.00" y1="731.47" x2="207.40" y2="731.47" stroke="#111111" stroke-width="0.8"/>
<line x1="203.00" y1="732.92" x2="207.40" y2="732.92" stroke="#111111" stroke-width="0.8"/>
<circle cx="205.20" cy="731.47" r="1.70" fill="#111111" stroke="none" stroke-width="0"/>
<circle cx="203.00" cy="732.19" r="1.70" fill="#111111" stroke="none" stroke-width="0"/>
<circle cx="207.40" cy="732.92" r="1.70" fill="#111111" stroke="none" stroke-width="0"/>
<line x1="200.20" y1="732.19" x2="210.20" y2="732.19" stroke="#111" stroke-width="1.3"/>
<line x1="217.80" y1="740.14" x2="217.80" y2="741.59" stroke="#ff2a2a" stroke-width="0.8"/>
<line x1="215.60" y1="740.14" x2="220.00" y2="740.14" stroke="#ff2a2a" stroke-width="0.8"/>
<line x1="215.60" y1="741.59" x2="220.00" y2="741.59" stroke="#ff2a2a" stroke-width="0.8"/>
<rect x="216.10" y="738.44" width="3.40" height="3.40" fill="#ff2a2a"/>
<rect x="213.90" y="739.16" width="3.40" height="3.40" fill="#ff2a2a"/>
<rect x="218.30" y="739.88" width="3.40" height="3.40" fill="#ff2a2a"/>
<line x1="212.80" y1="740.86" x2="222.80" y2="740.86" stroke="#111" stroke-width="1.3"/>
<line x1="230.40" y1="719.91" x2="230.40" y2="724.25" stroke="#3ce63c" stroke-width="0.8"/>
<line x1="228.20" y1="719.91" x2="232.60" y2="719.91" stroke="#3ce63c" stroke-width="0.8"/>
<line x1="228.20" y1="724.25" x2="232.60" y2="724.25" stroke="#3ce63c" stroke-width="0.8"/>
<polygon points="230.40,712.81 232.27,716.21 228.53,716.21" fill="#3ce63c"/>
<polygon points="227.80,718.59 229.67,721.99 225.93,721.99" fill="#3ce63c"/>
<polygon points="233.00,720.04 234.87,723.44 231.13,723.44" fill="#3ce63c"/>
<polygon points="228.00,722.21 229.87,725.61 226.13,725.61" fill="#3ce63c"/>
<polygon points="232.80,723.65 234.67,727.05 230.93,727.05" fill="#3ce63c"/>
<line x1="225.40" y1="722.08" x2="235.40" y2="722.08" stroke="#111" stroke-width="1.3"/>
<line x1="242.80" y1="732.92" x2="242.80" y2="738.70" stroke="#d23cff" stroke-width="0.8"/>
<line x1="240.60" y1="732.92" x2="245.00" y2="732.92" stroke="#d23cff" stroke-width="0.8"/>
<line x1="240.60" y1="738.70" x2="245.00" y2="738.70" stroke="#d23cff" stroke-width="0.8"/>
<polygon points="242.80,728.45 244.67,725.05 240.93,725.05" fill="#d23cff"/>
<polygon points="240.20,736.40 242.07,733.00 238.33,733.00" fill="#d23cff"/>
<polygon points="245.40,737.85 247.27,734.45 243.53,734.45" fill="#d23cff"/>
<polygon points="240.40,742.90 242.27,739.50 238.53,739.50" fill="#d23cff"/>
<polygon points="245.20,746.51 247.07,743.12 243.33,743.12" fill="#d23cff"/>
<line x1="237.80" y1="735.81" x2="247.80" y2="735.81" stroke="#111" stroke-width="1.3"/>
<line x1="255.40" y1="704.74" x2="255.40" y2="723.52" stroke="#ff7a3a" stroke-width="0.8"/>
<line x1="253.20" y1="704.74" x2="257.60" y2="704.74" stroke="#ff7a3a" stroke-width="0.8"/>
<line x1="253.20" y1="723.52" x2="257.60" y2="723.52" stroke="#ff7a3a" stroke-width="0.8"/>
<polygon points="255.40,684.47 257.10,686.68 255.40,688.89 253.70,686.68" fill="#ff7a3a"/>
<polygon points="252.80,702.53 254.50,704.74 252.80,706.95 251.10,704.74" fill="#ff7a3a"/>
<polygon points="258.00,716.25 259.70,718.47 258.00,720.68 256.30,718.47" fill="#ff7a3a"/>
<polygon points="253.00,722.03 254.70,724.25 253.00,726.46 251.30,724.25" fill="#ff7a3a"/>
<polygon points="257.80,729.98 259.50,732.19 257.80,734.40 256.10,732.19" fill="#ff7a3a"/>
<line x1="250.40" y1="714.13" x2="260.40" y2="714.13" stroke="#111" stroke-width="1.3"/>
<line x1="267.70" y1="719.91" x2="267.70" y2="735.81" stroke="#2424ee" stroke-width="0.8"/>
<line x1="265.50" y1="719.91" x2="269.90" y2="719.91" stroke="#2424ee" stroke-width="0.8"/>
<line x1="265.50" y1="735.81" x2="269.90" y2="735.81" stroke="#2424ee" stroke-width="0.8"/>
<circle cx="267.70" cy="704.74" r="1.70" fill="#2424ee" stroke="none" stroke-width="0"/>
<circle cx="265.10" cy="722.80" r="1.70" fill="#2424ee" stroke="none" stroke-width="0"/>
<circle cx="270.30" cy="733.64" r="1.70" fill="#2424ee" stroke="none" stroke-width="0"/>
<circle cx="265.30" cy="741.59" r="1.70" fill="#2424ee" stroke="none" stroke-width="0"/>
<circle cx="270.10" cy="745.20" r="1.70" fill="#2424ee" stroke="none" stroke-width="0"/>
<line x1="262.70" y1="727.86" x2="272.70" y2="727.86" stroke="#111" stroke-width="1.3"/>
<line x1="280.90" y1="711.96" x2="280.90" y2="722.08" stroke="#d0742a" stroke-width="0.8"/>
<line x1="278.70" y1="711.96" x2="283.10" y2="711.96" stroke="#d0742a" stroke-width="0.8"/>
<line x1="278.70" y1="722.08" x2="283.10" y2="722.08" stroke="#d0742a" stroke-width="0.8"/>
<rect x="279.20" y="703.76" width="3.40" height="3.40" fill="#d0742a"/>
<rect x="276.60" y="707.37" width="3.40" height="3.40" fill="#d0742a"/>
<rect x="281.80" y="710.99" width="3.40" height="3.40" fill="#d0742a"/>
<rect x="276.80" y="724.71" width="3.40" height="3.40" fill="#d0742a"/>
<rect x="281.60" y="732.66" width="3.40" height="3.40" fill="#d0742a"/>
<line x1="275.90" y1="717.02" x2="285.90" y2="717.02" stroke="#111" stroke-width="1.3"/>
<line x1="294.00" y1="718.47" x2="294.00" y2="727.13" stroke="#8c8a2a" stroke-width="0.8"/>
<line x1="291.80" y1="718.47" x2="296.20" y2="718.47" stroke="#8c8a2a" stroke-width="0.8"/>
<line x1="291.80" y1="727.13" x2="296.20" y2="727.13" stroke="#8c8a2a" stroke-width="0.8"/>
<polygon points="292.00,708.48 293.87,711.88 290.13,711.88" fill="#8c8a2a"/>
<polygon points="296.00,720.76 297.87,724.16 294.13,724.16" fill="#8c8a2a"/>
<polygon points="291.80,724.37 293.67,727.77 289.93,727.77" fill="#8c8a2a"/>
<polygon points="296.20,729.43 298.07,732.83 294.33,732.83" fill="#8c8a2a"/>
<line x1="289.00" y1="722.80" x2="299.00" y2="722.80" stroke="#111" stroke-width="1.3"/>
<line x1="305.80" y1="733.64" x2="305.80" y2="736.53" stroke="#8a2ad0" stroke-width="0.8"/>
<line x1="303.60" y1="733.64" x2="308.00" y2="733.64" stroke="#8a2ad0" stroke-width="0.8"/>
<line x1="303.60" y1="736.53" x2="308.00" y2="736.53" stroke="#8a2ad0" stroke-width="0.8"/>
<polygon points="305.80,733.51 307.67,730.11 303.93,730.11" fill="#8a2ad0"/>
<polygon points="303.20,734.96 305.07,731.56 301.33,731.56" fill="#8a2ad0"/>
<polygon points="308.40,737.12 310.27,733.72 306.53,733.72" fill="#8a2ad0"/>
<polygon points="303.40,739.29 305.27,735.89 301.53,735.89" fill="#8a2ad0"/>
<polygon points="308.20,740.74 310.07,737.34 306.33,737.34" fill="#8a2ad0"/>
<line x1="300.80" y1="735.08" x2="310.80" y2="735.08" stroke="#111" stroke-width="1.3"/>
<line x1="319.00" y1="743.75" x2="319.00" y2="746.64" stroke="#b02a6a" stroke-width="0.8"/>
<line x1="316.80" y1="743.75" x2="321.20" y2="743.75" stroke="#b02a6a" stroke-width="0.8"/>
<line x1="316.80" y1="746.64" x2="321.20" y2="746.64" stroke="#b02a6a" stroke-width="0.8"/>
<polygon points="319.00,740.10 320.70,742.31 319.00,744.52 317.30,742.31" fill="#b02a6a"/>
<polygon points="316.80,742.99 318.50,745.20 316.80,747.41 315.10,745.20" fill="#b02a6a"/>
<polygon points="321.20,744.43 322.90,746.64 321.20,748.85 319.50,746.64" fill="#b02a6a"/>
<line x1="314.00" y1="745.20" x2="324.00" y2="745.20" stroke="#111" stroke-width="1.3"/>
<line x1="217.30" y1="676.50" x2="291.90" y2="676.50" stroke="#111" stroke-width="1.1"/>
<text x="254.60" y="679.10" font-size="14" fill="#1a1a1a" text-anchor="middle" font-weight="bold" letter-spacing="0.4" stroke="#111" stroke-width="0.05">*</text>
<line x1="354.20" y1="664.20" x2="354.20" y2="752.30" stroke="#1a1a1a" stroke-width="1.2"/>
<line x1="353.60" y1="751.70" x2="485.50" y2="751.70" stroke="#1a1a1a" stroke-width="1.2"/>
<line x1="351.20" y1="751.70" x2="354.20" y2="751.70" stroke="#1a1a1a" stroke-width="1.0"/>
<text x="350.20" y="754.90" font-size="8.6" fill="#1a1a1a" stroke="#1a1a1a" stroke-width="0.3" text-anchor="end" font-weight="bold">0</text>
<line x1="351.20" y1="734.20" x2="354.20" y2="734.20" stroke="#1a1a1a" stroke-width="1.0"/>
<text x="350.20" y="737.40" font-size="8.6" fill="#1a1a1a" stroke="#1a1a1a" stroke-width="0.3" text-anchor="end" font-weight="bold">10</text>
<line x1="351.20" y1="716.70" x2="354.20" y2="716.70" stroke="#1a1a1a" stroke-width="1.0"/>
<text x="350.20" y="719.90" font-size="8.6" fill="#1a1a1a" stroke="#1a1a1a" stroke-width="0.3" text-anchor="end" font-weight="bold">20</text>
<line x1="351.20" y1="699.20" x2="354.20" y2="699.20" stroke="#1a1a1a" stroke-width="1.0"/>
<text x="350.20" y="702.40" font-size="8.6" fill="#1a1a1a" stroke="#1a1a1a" stroke-width="0.3" text-anchor="end" font-weight="bold">30</text>
<line x1="351.20" y1="681.70" x2="354.20" y2="681.70" stroke="#1a1a1a" stroke-width="1.0"/>
<text x="350.20" y="684.90" font-size="8.6" fill="#1a1a1a" stroke="#1a1a1a" stroke-width="0.3" text-anchor="end" font-weight="bold">40</text>
<line x1="351.20" y1="664.20" x2="354.20" y2="664.20" stroke="#1a1a1a" stroke-width="1.0"/>
<text x="350.20" y="667.40" font-size="8.6" fill="#1a1a1a" stroke="#1a1a1a" stroke-width="0.3" text-anchor="end" font-weight="bold">50</text>
<line x1="362.00" y1="751.70" x2="362.00" y2="754.70" stroke="#1a1a1a" stroke-width="1.0"/>
<text x="362.00" y="760.40" font-size="7.0" fill="#1a1a1a" stroke="#1a1a1a" stroke-width="0.3" text-anchor="middle" font-weight="bold">1</text>
<line x1="374.70" y1="751.70" x2="374.70" y2="754.70" stroke="#1a1a1a" stroke-width="1.0"/>
<text x="374.70" y="760.40" font-size="7.0" fill="#1a1a1a" stroke="#1a1a1a" stroke-width="0.3" text-anchor="middle" font-weight="bold">2</text>
<line x1="387.00" y1="751.70" x2="387.00" y2="754.70" stroke="#1a1a1a" stroke-width="1.0"/>
<text x="387.00" y="760.40" font-size="7.0" fill="#1a1a1a" stroke="#1a1a1a" stroke-width="0.3" text-anchor="middle" font-weight="bold">1</text>
<line x1="399.30" y1="751.70" x2="399.30" y2="754.70" stroke="#1a1a1a" stroke-width="1.0"/>
<text x="399.30" y="760.40" font-size="7.0" fill="#1a1a1a" stroke="#1a1a1a" stroke-width="0.3" text-anchor="middle" font-weight="bold">2</text>
<line x1="412.00" y1="751.70" x2="412.00" y2="754.70" stroke="#1a1a1a" stroke-width="1.0"/>
<text x="412.00" y="760.40" font-size="7.0" fill="#1a1a1a" stroke="#1a1a1a" stroke-width="0.3" text-anchor="middle" font-weight="bold">1</text>
<line x1="425.00" y1="751.70" x2="425.00" y2="754.70" stroke="#1a1a1a" stroke-width="1.0"/>
<text x="425.00" y="760.40" font-size="7.0" fill="#1a1a1a" stroke="#1a1a1a" stroke-width="0.3" text-anchor="middle" font-weight="bold">2</text>
<line x1="437.70" y1="751.70" x2="437.70" y2="754.70" stroke="#1a1a1a" stroke-width="1.0"/>
<text x="437.70" y="760.40" font-size="7.0" fill="#1a1a1a" stroke="#1a1a1a" stroke-width="0.3" text-anchor="middle" font-weight="bold">1</text>
<line x1="450.00" y1="751.70" x2="450.00" y2="754.70" stroke="#1a1a1a" stroke-width="1.0"/>
<text x="450.00" y="760.40" font-size="7.0" fill="#1a1a1a" stroke="#1a1a1a" stroke-width="0.3" text-anchor="middle" font-weight="bold">2</text>
<line x1="463.20" y1="751.70" x2="463.20" y2="754.70" stroke="#1a1a1a" stroke-width="1.0"/>
<text x="463.20" y="760.40" font-size="7.0" fill="#1a1a1a" stroke="#1a1a1a" stroke-width="0.3" text-anchor="middle" font-weight="bold">1</text>
<line x1="475.50" y1="751.70" x2="475.50" y2="754.70" stroke="#1a1a1a" stroke-width="1.0"/>
<text x="475.50" y="760.40" font-size="7.0" fill="#1a1a1a" stroke="#1a1a1a" stroke-width="0.3" text-anchor="middle" font-weight="bold">2</text>
<text x="367.55" y="773.00" font-size="7.0" fill="#1a1a1a" stroke="#1a1a1a" stroke-width="0.3" text-anchor="middle" font-weight="bold">Veh</text>
<text x="367.55" y="778.60" font-size="7.4" fill="#1a1a1a" stroke="#1a1a1a" stroke-width="0.3" text-anchor="middle" font-weight="bold">+</text>
<text x="367.55" y="783.80" font-size="7.0" fill="#1a1a1a" stroke="#1a1a1a" stroke-width="0.3" text-anchor="middle" font-weight="bold">IgG</text>
<text x="392.35" y="773.00" font-size="7.0" fill="#1a1a1a" stroke="#1a1a1a" stroke-width="0.3" text-anchor="middle" font-weight="bold">Veh</text>
<text x="392.35" y="778.60" font-size="7.4" fill="#1a1a1a" stroke="#1a1a1a" stroke-width="0.3" text-anchor="middle" font-weight="bold">+</text>
<text x="392.35" y="783.80" font-size="7.0" fill="#1a1a1a" stroke="#1a1a1a" stroke-width="0.3" text-anchor="middle" font-weight="bold">aCD40</text>
<text x="417.70" y="773.00" font-size="7.0" fill="#1a1a1a" stroke="#1a1a1a" stroke-width="0.3" text-anchor="middle" font-weight="bold">Veh</text>
<text x="417.70" y="778.60" font-size="7.4" fill="#1a1a1a" stroke="#1a1a1a" stroke-width="0.3" text-anchor="middle" font-weight="bold">+</text>
<text x="417.70" y="783.80" font-size="7.0" fill="#1a1a1a" stroke="#1a1a1a" stroke-width="0.3" text-anchor="middle" font-weight="bold">PD1</text>
<text x="443.05" y="773.00" font-size="7.0" fill="#1a1a1a" stroke="#1a1a1a" stroke-width="0.3" text-anchor="middle" font-weight="bold">aCD40</text>
<text x="443.05" y="778.60" font-size="7.4" fill="#1a1a1a" stroke="#1a1a1a" stroke-width="0.3" text-anchor="middle" font-weight="bold">+</text>
<text x="443.05" y="783.80" font-size="7.0" fill="#1a1a1a" stroke="#1a1a1a" stroke-width="0.3" text-anchor="middle" font-weight="bold">PD1</text>
<text x="468.55" y="773.00" font-size="7.0" fill="#1a1a1a" stroke="#1a1a1a" stroke-width="0.3" text-anchor="middle" font-weight="bold">RGS</text>
<text x="468.55" y="778.60" font-size="7.4" fill="#1a1a1a" stroke="#1a1a1a" stroke-width="0.3" text-anchor="middle" font-weight="bold">+</text>
<text x="468.55" y="783.80" font-size="7.0" fill="#1a1a1a" stroke="#1a1a1a" stroke-width="0.3" text-anchor="middle" font-weight="bold">IgG</text>
<text x="364" y="651.8" font-size="9.7" fill="#1a1a1a" font-weight="bold" stroke="#1a1a1a" stroke-width="0.3">CD69<tspan dy="-3.49" font-size="6.98">+</tspan><tspan dy="3.49"> activated Tc cells</tspan></text>
<text x="331.8" y="706" font-size="10.2" fill="#1a1a1a" font-weight="bold" text-anchor="middle" transform="rotate(-90 331.8 706)" dy="3.6" stroke="#1a1a1a" stroke-width="0.3">% in CD8<tspan dy="-3.67" font-size="7.34">+</tspan><tspan dy="3.67">CD3<tspan dy="-3.67" font-size="7.34">+</tspan><tspan dy="3.67"> Tc cells</tspan></tspan></text>
<line x1="362.00" y1="743.83" x2="362.00" y2="747.33" stroke="#111111" stroke-width="0.8"/>
<line x1="359.80" y1="743.83" x2="364.20" y2="743.83" stroke="#111111" stroke-width="0.8"/>
<line x1="359.80" y1="747.33" x2="364.20" y2="747.33" stroke="#111111" stroke-width="0.8"/>
<circle cx="362.00" cy="741.20" r="1.70" fill="#111111" stroke="none" stroke-width="0"/>
<circle cx="359.80" cy="746.45" r="1.70" fill="#111111" stroke="none" stroke-width="0"/>
<circle cx="364.20" cy="748.20" r="1.70" fill="#111111" stroke="none" stroke-width="0"/>
<line x1="357.00" y1="745.58" x2="367.00" y2="745.58" stroke="#111" stroke-width="1.3"/>
<line x1="374.70" y1="707.08" x2="374.70" y2="728.08" stroke="#ff2a2a" stroke-width="0.8"/>
<line x1="372.50" y1="707.08" x2="376.90" y2="707.08" stroke="#ff2a2a" stroke-width="0.8"/>
<line x1="372.50" y1="728.08" x2="376.90" y2="728.08" stroke="#ff2a2a" stroke-width="0.8"/>
<rect x="373.00" y="694.00" width="3.40" height="3.40" fill="#ff2a2a"/>
<rect x="370.80" y="727.25" width="3.40" height="3.40" fill="#ff2a2a"/>
<rect x="375.20" y="726.38" width="3.40" height="3.40" fill="#ff2a2a"/>
<line x1="369.70" y1="717.58" x2="379.70" y2="717.58" stroke="#111" stroke-width="1.3"/>
<line x1="387.00" y1="717.58" x2="387.00" y2="722.83" stroke="#3ce63c" stroke-width="0.8"/>
<line x1="384.80" y1="717.58" x2="389.20" y2="717.58" stroke="#3ce63c" stroke-width="0.8"/>
<line x1="384.80" y1="722.83" x2="389.20" y2="722.83" stroke="#3ce63c" stroke-width="0.8"/>
<polygon points="387.00,708.54 388.87,711.94 385.13,711.94" fill="#3ce63c"/>
<polygon points="384.40,717.29 386.27,720.69 382.53,720.69" fill="#3ce63c"/>
<polygon points="389.60,719.04 391.47,722.44 387.73,722.44" fill="#3ce63c"/>
<polygon points="384.60,725.16 386.47,728.56 382.73,728.56" fill="#3ce63c"/>
<polygon points="389.40,726.91 391.27,730.31 387.53,730.31" fill="#3ce63c"/>
<line x1="382.00" y1="720.20" x2="392.00" y2="720.20" stroke="#111" stroke-width="1.3"/>
<line x1="399.30" y1="716.70" x2="399.30" y2="720.20" stroke="#d23cff" stroke-width="0.8"/>
<line x1="397.10" y1="716.70" x2="401.50" y2="716.70" stroke="#d23cff" stroke-width="0.8"/>
<line x1="397.10" y1="720.20" x2="401.50" y2="720.20" stroke="#d23cff" stroke-width="0.8"/>
<polygon points="397.30,715.24 399.17,711.84 395.43,711.84" fill="#d23cff"/>
<polygon points="401.30,718.74 403.17,715.34 399.43,715.34" fill="#d23cff"/>
<polygon points="397.10,721.37 398.97,717.97 395.23,717.97" fill="#d23cff"/>
<polygon points="401.50,723.12 403.37,719.72 399.63,719.72" fill="#d23cff"/>
<line x1="394.30" y1="718.45" x2="404.30" y2="718.45" stroke="#111" stroke-width="1.3"/>
<line x1="412.00" y1="714.95" x2="412.00" y2="728.95" stroke="#ff7a3a" stroke-width="0.8"/>
<line x1="409.80" y1="714.95" x2="414.20" y2="714.95" stroke="#ff7a3a" stroke-width="0.8"/>
<line x1="409.80" y1="728.95" x2="414.20" y2="728.95" stroke="#ff7a3a" stroke-width="0.8"/>
<polygon points="412.00,697.87 413.70,700.08 412.00,702.29 410.30,700.08" fill="#ff7a3a"/>
<polygon points="409.40,717.99 411.10,720.20 409.40,722.41 407.70,720.20" fill="#ff7a3a"/>
<polygon points="414.60,719.74 416.30,721.95 414.60,724.16 412.90,721.95" fill="#ff7a3a"/>
<polygon points="409.60,731.99 411.30,734.20 409.60,736.41 407.90,734.20" fill="#ff7a3a"/>
<polygon points="414.40,739.87 416.10,742.08 414.40,744.29 412.70,742.08" fill="#ff7a3a"/>
<line x1="407.00" y1="721.95" x2="417.00" y2="721.95" stroke="#111" stroke-width="1.3"/>
<line x1="425.00" y1="729.83" x2="425.00" y2="735.08" stroke="#2424ee" stroke-width="0.8"/>
<line x1="422.80" y1="729.83" x2="427.20" y2="729.83" stroke="#2424ee" stroke-width="0.8"/>
<line x1="422.80" y1="735.08" x2="427.20" y2="735.08" stroke="#2424ee" stroke-width="0.8"/>
<circle cx="425.00" cy="723.70" r="1.70" fill="#2424ee" stroke="none" stroke-width="0"/>
<circle cx="422.40" cy="727.20" r="1.70" fill="#2424ee" stroke="none" stroke-width="0"/>
<circle cx="427.60" cy="732.45" r="1.70" fill="#2424ee" stroke="none" stroke-width="0"/>
<circle cx="422.60" cy="737.70" r="1.70" fill="#2424ee" stroke="none" stroke-width="0"/>
<circle cx="427.40" cy="741.20" r="1.70" fill="#2424ee" stroke="none" stroke-width="0"/>
<line x1="420.00" y1="732.45" x2="430.00" y2="732.45" stroke="#111" stroke-width="1.3"/>
<line x1="437.70" y1="710.58" x2="437.70" y2="721.08" stroke="#d0742a" stroke-width="0.8"/>
<line x1="435.50" y1="710.58" x2="439.90" y2="710.58" stroke="#d0742a" stroke-width="0.8"/>
<line x1="435.50" y1="721.08" x2="439.90" y2="721.08" stroke="#d0742a" stroke-width="0.8"/>
<rect x="436.00" y="703.62" width="3.40" height="3.40" fill="#d0742a"/>
<rect x="433.40" y="705.38" width="3.40" height="3.40" fill="#d0742a"/>
<rect x="438.60" y="710.62" width="3.40" height="3.40" fill="#d0742a"/>
<rect x="433.60" y="718.50" width="3.40" height="3.40" fill="#d0742a"/>
<rect x="438.40" y="736.00" width="3.40" height="3.40" fill="#d0742a"/>
<line x1="432.70" y1="715.83" x2="442.70" y2="715.83" stroke="#111" stroke-width="1.3"/>
<line x1="450.00" y1="696.58" x2="450.00" y2="703.58" stroke="#8c8a2a" stroke-width="0.8"/>
<line x1="447.80" y1="696.58" x2="452.20" y2="696.58" stroke="#8c8a2a" stroke-width="0.8"/>
<line x1="447.80" y1="703.58" x2="452.20" y2="703.58" stroke="#8c8a2a" stroke-width="0.8"/>
<polygon points="448.00,692.79 449.87,696.19 446.13,696.19" fill="#8c8a2a"/>
<polygon points="452.00,694.54 453.87,697.94 450.13,697.94" fill="#8c8a2a"/>
<polygon points="447.80,697.16 449.67,700.56 445.93,700.56" fill="#8c8a2a"/>
<polygon points="452.20,710.29 454.07,713.69 450.33,713.69" fill="#8c8a2a"/>
<line x1="445.00" y1="700.08" x2="455.00" y2="700.08" stroke="#111" stroke-width="1.3"/>
<line x1="463.20" y1="728.95" x2="463.20" y2="735.95" stroke="#8a2ad0" stroke-width="0.8"/>
<line x1="461.00" y1="728.95" x2="465.40" y2="728.95" stroke="#8a2ad0" stroke-width="0.8"/>
<line x1="461.00" y1="735.95" x2="465.40" y2="735.95" stroke="#8a2ad0" stroke-width="0.8"/>
<polygon points="463.20,724.87 465.07,721.47 461.33,721.47" fill="#8a2ad0"/>
<polygon points="460.60,730.12 462.47,726.72 458.73,726.72" fill="#8a2ad0"/>
<polygon points="465.80,735.37 467.67,731.97 463.93,731.97" fill="#8a2ad0"/>
<polygon points="460.80,741.49 462.67,738.09 458.93,738.09" fill="#8a2ad0"/>
<polygon points="465.60,742.37 467.47,738.97 463.73,738.97" fill="#8a2ad0"/>
<line x1="458.20" y1="732.45" x2="468.20" y2="732.45" stroke="#111" stroke-width="1.3"/>
<line x1="475.50" y1="707.95" x2="475.50" y2="728.95" stroke="#b02a6a" stroke-width="0.8"/>
<line x1="473.30" y1="707.95" x2="477.70" y2="707.95" stroke="#b02a6a" stroke-width="0.8"/>
<line x1="473.30" y1="728.95" x2="477.70" y2="728.95" stroke="#b02a6a" stroke-width="0.8"/>
<polygon points="475.50,695.24 477.20,697.45 475.50,699.66 473.80,697.45" fill="#b02a6a"/>
<polygon points="473.30,726.74 475.00,728.95 473.30,731.16 471.60,728.95" fill="#b02a6a"/>
<polygon points="477.70,727.62 479.40,729.83 477.70,732.04 476.00,729.83" fill="#b02a6a"/>
<line x1="470.50" y1="718.45" x2="480.50" y2="718.45" stroke="#111" stroke-width="1.3"/>
<line x1="362.00" y1="677.50" x2="439.50" y2="677.50" stroke="#111" stroke-width="1.1"/>
<text x="400.75" y="680.10" font-size="14" fill="#1a1a1a" text-anchor="middle" font-weight="bold" letter-spacing="0.4" stroke="#111" stroke-width="0.05">**</text>
<line x1="362.60" y1="686.50" x2="396.20" y2="686.50" stroke="#111" stroke-width="1.1"/>
<line x1="362.60" y1="684.00" x2="362.60" y2="689.00" stroke="#222" stroke-width="1.1"/>
<line x1="396.20" y1="684.00" x2="396.20" y2="689.00" stroke="#222" stroke-width="1.1"/>
<text x="379.40" y="689.10" font-size="14" fill="#1a1a1a" text-anchor="middle" font-weight="bold" letter-spacing="0.4" stroke="#111" stroke-width="0.05">*</text>
<line x1="373.90" y1="689.50" x2="415.00" y2="689.50" stroke="#111" stroke-width="1.1"/>
<text x="394.45" y="692.10" font-size="14" fill="#1a1a1a" text-anchor="middle" font-weight="bold" letter-spacing="0.4" stroke="#111" stroke-width="0.05"></text>
<line x1="423.80" y1="689.50" x2="451.40" y2="689.50" stroke="#111" stroke-width="1.1"/>
<text x="437.60" y="692.10" font-size="14" fill="#1a1a1a" text-anchor="middle" font-weight="bold" letter-spacing="0.4" stroke="#111" stroke-width="0.05">**</text>
<text x="486.00" y="614.00" font-size="12.8" fill="#1a1a1a" stroke="#1a1a1a" stroke-width="0.3" text-anchor="start" font-weight="bold">(H)</text>
<text x="612.00" y="638.40" font-size="9.3" fill="#1a1a1a" stroke="#1a1a1a" stroke-width="0.3" text-anchor="middle" font-weight="bold">Correlation of</text>
<text x="612" y="649.7" font-size="9.3" font-weight="bold" fill="#1a1a1a" text-anchor="middle" stroke="#1a1a1a" stroke-width="0.3">CD8<tspan dy="-3.35" font-size="6.70">+</tspan><tspan dy="3.35"> Tc cells and tumor weight</tspan></text>
<line x1="555.40" y1="666.50" x2="555.40" y2="761.10" stroke="#1a1a1a" stroke-width="1.2"/>
<line x1="554.80" y1="760.50" x2="669.00" y2="760.50" stroke="#1a1a1a" stroke-width="1.2"/>
<line x1="552.40" y1="760.50" x2="555.40" y2="760.50" stroke="#1a1a1a" stroke-width="1.0"/>
<text x="551.40" y="763.70" font-size="8.8" fill="#1a1a1a" stroke="#1a1a1a" stroke-width="0.3" text-anchor="end" font-weight="bold">0</text>
<line x1="552.40" y1="737.00" x2="555.40" y2="737.00" stroke="#1a1a1a" stroke-width="1.0"/>
<text x="551.40" y="740.20" font-size="8.8" fill="#1a1a1a" stroke="#1a1a1a" stroke-width="0.3" text-anchor="end" font-weight="bold">500</text>
<line x1="552.40" y1="713.50" x2="555.40" y2="713.50" stroke="#1a1a1a" stroke-width="1.0"/>
<text x="551.40" y="716.70" font-size="8.8" fill="#1a1a1a" stroke="#1a1a1a" stroke-width="0.3" text-anchor="end" font-weight="bold">1000</text>
<line x1="552.40" y1="690.00" x2="555.40" y2="690.00" stroke="#1a1a1a" stroke-width="1.0"/>
<text x="551.40" y="693.20" font-size="8.8" fill="#1a1a1a" stroke="#1a1a1a" stroke-width="0.3" text-anchor="end" font-weight="bold">1500</text>
<line x1="552.40" y1="666.50" x2="555.40" y2="666.50" stroke="#1a1a1a" stroke-width="1.0"/>
<text x="551.40" y="669.70" font-size="8.8" fill="#1a1a1a" stroke="#1a1a1a" stroke-width="0.3" text-anchor="end" font-weight="bold">2000</text>
<line x1="555.40" y1="760.50" x2="555.40" y2="763.50" stroke="#1a1a1a" stroke-width="1.0"/>
<text x="555.40" y="773.50" font-size="8.8" fill="#1a1a1a" stroke="#1a1a1a" stroke-width="0.3" text-anchor="middle" font-weight="bold">0</text>
<line x1="578.12" y1="760.50" x2="578.12" y2="763.50" stroke="#1a1a1a" stroke-width="1.0"/>
<text x="578.12" y="773.50" font-size="8.8" fill="#1a1a1a" stroke="#1a1a1a" stroke-width="0.3" text-anchor="middle" font-weight="bold">2</text>
<line x1="600.84" y1="760.50" x2="600.84" y2="763.50" stroke="#1a1a1a" stroke-width="1.0"/>
<text x="600.84" y="773.50" font-size="8.8" fill="#1a1a1a" stroke="#1a1a1a" stroke-width="0.3" text-anchor="middle" font-weight="bold">4</text>
<line x1="623.56" y1="760.50" x2="623.56" y2="763.50" stroke="#1a1a1a" stroke-width="1.0"/>
<text x="623.56" y="773.50" font-size="8.8" fill="#1a1a1a" stroke="#1a1a1a" stroke-width="0.3" text-anchor="middle" font-weight="bold">6</text>
<line x1="646.28" y1="760.50" x2="646.28" y2="763.50" stroke="#1a1a1a" stroke-width="1.0"/>
<text x="646.28" y="773.50" font-size="8.8" fill="#1a1a1a" stroke="#1a1a1a" stroke-width="0.3" text-anchor="middle" font-weight="bold">8</text>
<line x1="669.00" y1="760.50" x2="669.00" y2="763.50" stroke="#1a1a1a" stroke-width="1.0"/>
<text x="669.00" y="773.50" font-size="8.8" fill="#1a1a1a" stroke="#1a1a1a" stroke-width="0.3" text-anchor="middle" font-weight="bold">10</text>
<circle cx="561.62" cy="701.08" r="1.55" fill="#111" stroke="none" stroke-width="0"/>
<circle cx="564.86" cy="706.49" r="1.55" fill="#111" stroke="none" stroke-width="0"/>
<circle cx="567.57" cy="707.84" r="1.55" fill="#111" stroke="none" stroke-width="0"/>
<circle cx="571.62" cy="713.24" r="1.55" fill="#111" stroke="none" stroke-width="0"/>
<circle cx="574.32" cy="709.19" r="1.55" fill="#111" stroke="none" stroke-width="0"/>
<circle cx="572.97" cy="722.16" r="1.55" fill="#111" stroke="none" stroke-width="0"/>
<circle cx="570.81" cy="727.57" r="1.55" fill="#111" stroke="none" stroke-width="0"/>
<circle cx="570.81" cy="731.35" r="1.55" fill="#111" stroke="none" stroke-width="0"/>
<circle cx="578.38" cy="723.24" r="1.55" fill="#111" stroke="none" stroke-width="0"/>
<circle cx="577.03" cy="740.27" r="1.55" fill="#111" stroke="none" stroke-width="0"/>
<circle cx="581.08" cy="732.16" r="1.55" fill="#111" stroke="none" stroke-width="0"/>
<circle cx="583.78" cy="739.73" r="1.55" fill="#111" stroke="none" stroke-width="0"/>
<circle cx="566.22" cy="744.86" r="1.55" fill="#111" stroke="none" stroke-width="0"/>
<circle cx="572.43" cy="746.49" r="1.55" fill="#111" stroke="none" stroke-width="0"/>
<circle cx="583.78" cy="708.65" r="1.55" fill="#111" stroke="none" stroke-width="0"/>
<circle cx="585.14" cy="742.16" r="1.55" fill="#111" stroke="none" stroke-width="0"/>
<circle cx="585.95" cy="744.32" r="1.55" fill="#111" stroke="none" stroke-width="0"/>
<circle cx="585.14" cy="755.14" r="1.55" fill="#111" stroke="none" stroke-width="0"/>
<circle cx="587.84" cy="746.49" r="1.55" fill="#111" stroke="none" stroke-width="0"/>
<circle cx="589.19" cy="732.97" r="1.55" fill="#111" stroke="none" stroke-width="0"/>
<circle cx="594.05" cy="740.27" r="1.55" fill="#111" stroke="none" stroke-width="0"/>
<circle cx="594.59" cy="748.38" r="1.55" fill="#111" stroke="none" stroke-width="0"/>
<circle cx="595.95" cy="727.30" r="1.55" fill="#111" stroke="none" stroke-width="0"/>
<circle cx="597.30" cy="735.68" r="1.55" fill="#111" stroke="none" stroke-width="0"/>
<circle cx="598.65" cy="705.95" r="1.55" fill="#111" stroke="none" stroke-width="0"/>
<circle cx="598.65" cy="714.59" r="1.55" fill="#111" stroke="none" stroke-width="0"/>
<circle cx="598.65" cy="734.86" r="1.55" fill="#111" stroke="none" stroke-width="0"/>
<circle cx="600.00" cy="737.03" r="1.55" fill="#111" stroke="none" stroke-width="0"/>
<circle cx="600.54" cy="752.43" r="1.55" fill="#111" stroke="none" stroke-width="0"/>
<circle cx="604.05" cy="738.11" r="1.55" fill="#111" stroke="none" stroke-width="0"/>
<circle cx="610.27" cy="724.59" r="1.55" fill="#111" stroke="none" stroke-width="0"/>
<circle cx="614.05" cy="744.86" r="1.55" fill="#111" stroke="none" stroke-width="0"/>
<circle cx="620.27" cy="752.43" r="1.55" fill="#111" stroke="none" stroke-width="0"/>
<circle cx="621.08" cy="755.14" r="1.55" fill="#111" stroke="none" stroke-width="0"/>
<circle cx="618.92" cy="755.95" r="1.55" fill="#111" stroke="none" stroke-width="0"/>
<circle cx="628.38" cy="754.59" r="1.55" fill="#111" stroke="none" stroke-width="0"/>
<circle cx="629.73" cy="757.84" r="1.55" fill="#111" stroke="none" stroke-width="0"/>
<circle cx="658.11" cy="757.03" r="1.55" fill="#111" stroke="none" stroke-width="0"/>
<circle cx="588.65" cy="672.70" r="1.55" fill="#111" stroke="none" stroke-width="0"/>
<line x1="561.60" y1="718.60" x2="648.00" y2="760.00" stroke="#f02828" stroke-width="1.5"/>
<text x="594.60" y="671.40" font-size="8.6" fill="#f0282d" stroke="#f0282d" stroke-width="0.3" text-anchor="start" font-weight="bold">Spearman r=-0.5399</text>
<text x="675.00" y="681.00" font-size="8.6" fill="#f0282d" stroke="#f0282d" stroke-width="0.3" text-anchor="end" font-weight="bold">p=0.0003</text>
<text x="612" y="787.6" font-size="9.3" font-weight="bold" fill="#1a1a1a" text-anchor="middle" stroke="#1a1a1a" stroke-width="0.3">CD8<tspan dy="-3.35" font-size="6.70">+</tspan><tspan dy="3.35">CD3<tspan dy="-3.35" font-size="6.70">+</tspan><tspan dy="3.35"> Tc cells%</tspan></tspan></text>
<text x="523.00" y="712.00" font-size="9.3" fill="#1a1a1a" stroke="#1a1a1a" stroke-width="0.3" text-anchor="middle" font-weight="bold" transform="rotate(-90 523 712)" dy="3.3">Day 18 tumor weight (mg)</text>
</svg>
</body></html>
